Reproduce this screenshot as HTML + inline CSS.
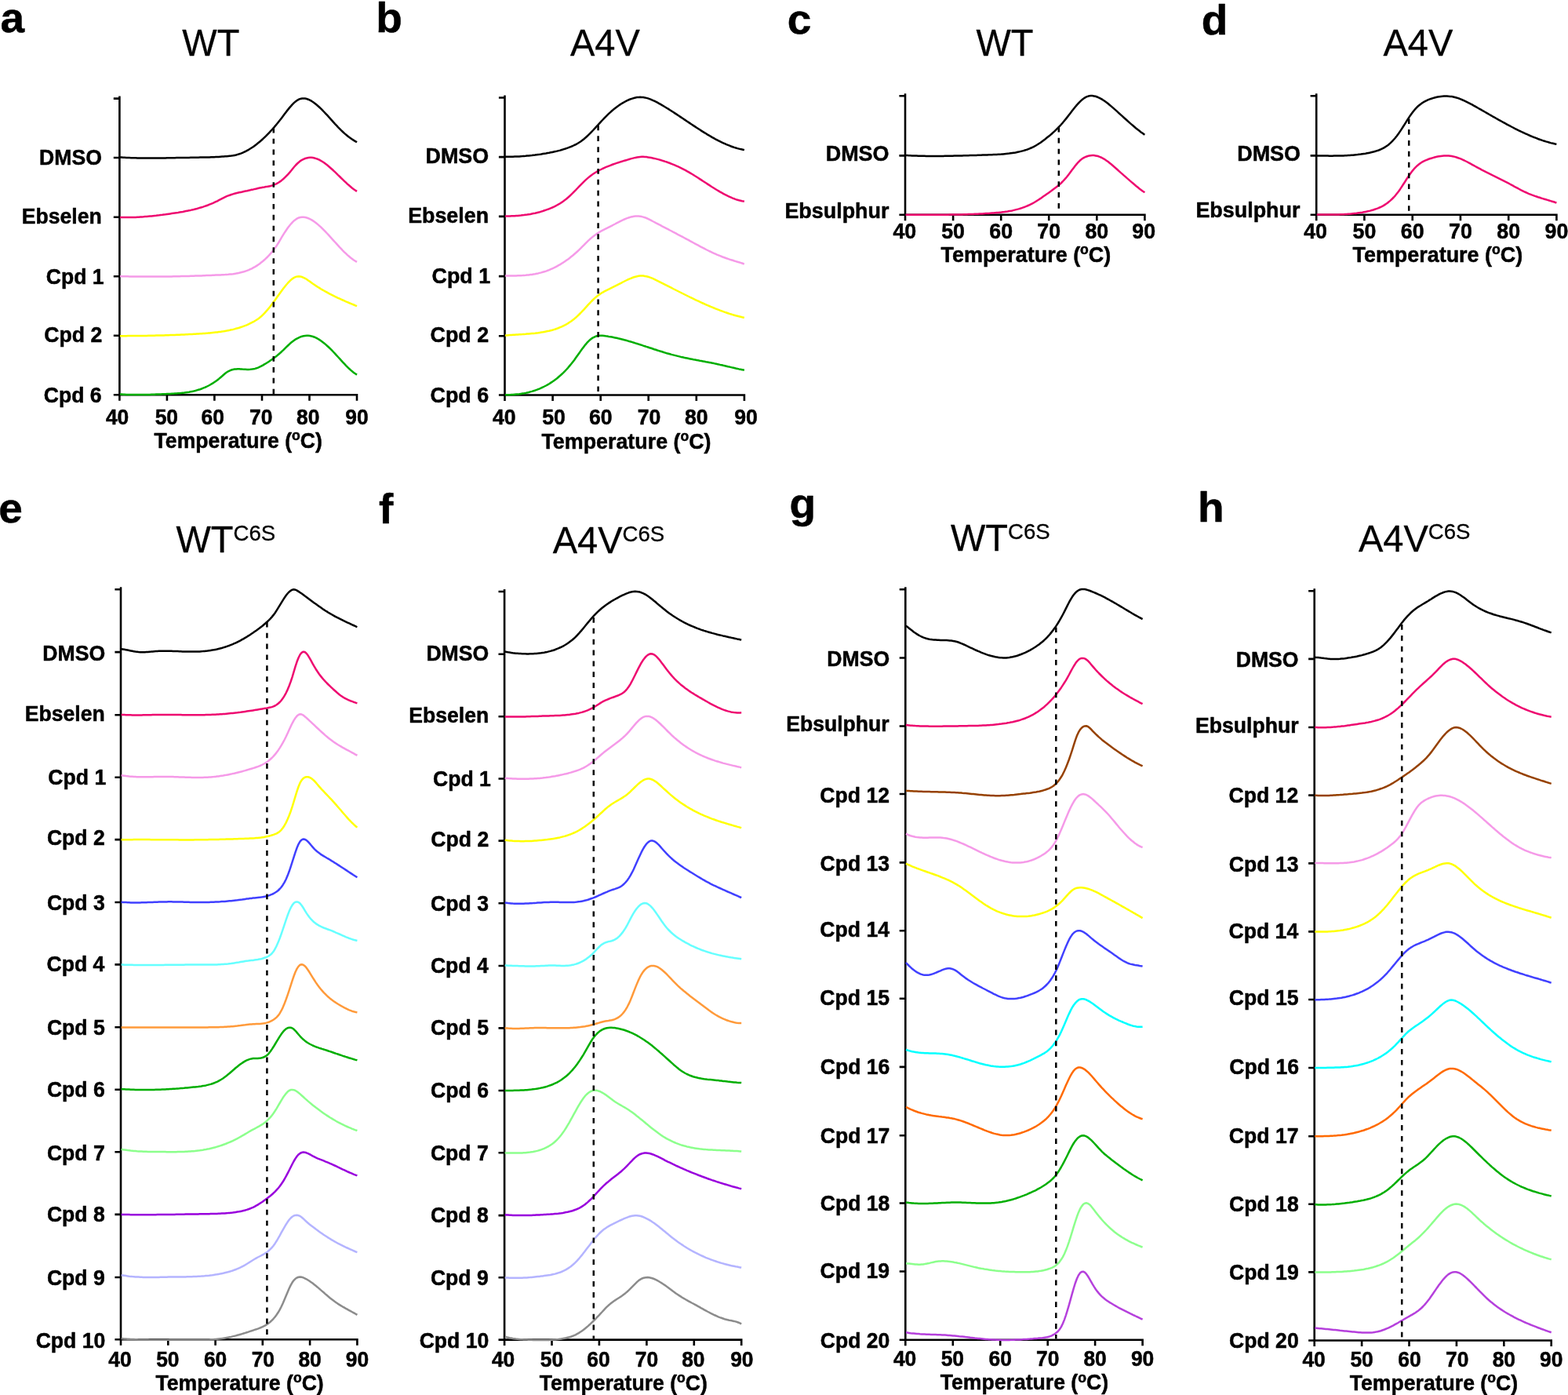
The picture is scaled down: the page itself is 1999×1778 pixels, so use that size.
<!DOCTYPE html>
<html lang="en"><head><meta charset="utf-8"><title>Thermal denaturation profiles</title>
<style>html,body{margin:0;padding:0;background:#fff}body{width:1999px;height:1778px;overflow:hidden}svg{display:block;filter:blur(0.6px)}text{font-family:"Liberation Sans",sans-serif;fill:#000;stroke:#000;stroke-width:0.5;stroke-linejoin:round}.b{font-weight:bold}.lab{font-size:calc(26.6px*var(--k,1));text-anchor:end}.tk{font-size:calc(26.4px*var(--k,1));text-anchor:middle}.xt{font-size:calc(26.6px*var(--k,1));text-anchor:middle}.let{font-size:55px}.tit{font-size:47px;stroke-width:0.3}.sup{font-size:27.6px}.ax{stroke:#000;stroke-width:2.6;fill:none}.cv{fill:none;stroke-width:2.5;stroke-linejoin:round;stroke-linecap:butt}.ds{stroke:#000;stroke-width:2.5;stroke-dasharray:6.7 7.17;fill:none}</style></head><body>
<svg width="1999" height="1778" viewBox="0 0 1999 1778">
<rect width="1999" height="1778" fill="#fff"/>
<text class="b let" transform="translate(0.5 40.5) scale(1 0.985)">a</text>
<text class="b let" transform="translate(479.3 41) scale(1 0.985)">b</text>
<text class="b let" transform="translate(1003.8 43) scale(1 0.985)">c</text>
<text class="b let" transform="translate(1531.8 43.7) scale(1 0.985)">d</text>
<text class="b let" transform="translate(-1.7 666.2) scale(1 0.985)">e</text>
<text class="b let" transform="translate(483 666.5) scale(1 0.985)">f</text>
<text class="b let" transform="translate(1006.5 660.3) scale(1 0.985)">g</text>
<text class="b let" transform="translate(1527 665.2) scale(1 0.985)">h</text>
<text class="tit" transform="translate(232.3 71) scale(1 1.03)">WT</text>
<text class="tit" transform="translate(727 71) scale(1 1.03)">A4V</text>
<text class="tit" transform="translate(1244.5 71) scale(1 1.03)">WT</text>
<text class="tit" transform="translate(1763.5 71.2) scale(1 1.03)">A4V</text>
<text class="tit" transform="translate(224.5 704.4) scale(1 1.03)">WT<tspan class="sup" dy="-14.6">C6S</tspan></text>
<text class="tit" transform="translate(704.7 705) scale(1 1.03)">A4V<tspan class="sup" dy="-14.6">C6S</tspan></text>
<text class="tit" transform="translate(1212 701.9) scale(1 1.03)">WT<tspan class="sup" dy="-14.6">C6S</tspan></text>
<text class="tit" transform="translate(1732 702.5) scale(1 1.03)">A4V<tspan class="sup" dy="-14.6">C6S</tspan></text>
<g id="panel-a" style="--k:1">
<path class="ax" d="M152.4,122.6 V510.7 M144.8,503.2 H456.3 M144.8,125.6 H152.4 M144.8,201 H152.4 M144.8,276.7 H152.4 M144.8,352.2 H152.4 M144.8,427.8 H152.4 M212.9,503.2 V510.7 M273.4,503.2 V510.7 M334,503.2 V510.7 M394.5,503.2 V510.7 M455,503.2 V510.7"/>
<path class="cv" stroke="#000000" d="M153,200.5 155,200.6 157,200.7 159,200.8 161,200.9 163,201 165,201.1 167,201.2 169,201.2 171,201.3 173,201.3 175,201.4 177,201.4 179,201.5 181,201.5 183,201.5 185,201.5 187,201.5 189,201.5 191,201.5 193,201.5 195,201.5 197,201.5 199,201.5 201,201.5 203,201.5 205,201.4 207,201.4 209,201.4 211,201.4 213,201.3 215,201.3 217,201.3 219,201.2 221,201.2 223,201.2 225,201.1 227,201.1 229,201 231,201 233,201 235,200.9 237,200.9 239,200.9 241,200.9 243,200.8 245,200.8 247,200.8 249,200.7 251,200.7 253,200.7 255,200.6 257,200.6 259,200.6 261,200.5 263,200.5 265,200.4 267,200.4 269,200.3 271,200.2 273,200.2 275,200.1 277,200 279,199.9 281,199.7 283,199.6 285,199.5 287,199.3 289,199.2 291,199 293,198.8 295,198.6 297,198.3 299,197.9 301,197.5 303,196.9 305,196.3 307,195.6 309,194.8 311,193.9 313,193 315,191.9 317,190.8 319,189.5 321,188.3 323,186.9 325,185.4 327,183.9 329,182.3 331,180.7 333,179 335,177.2 337,175.3 339,173.4 341,171.4 343,169.3 345,167.2 347,165 349,162.7 351,160.4 353,158 355,155.5 357,153 359,150.4 361,147.7 363,145.1 365,142.4 367,139.9 369,137.4 371,135.1 373,132.9 375,130.9 377,129.2 379,127.8 381,126.7 383,125.9 385,125.5 387,125.4 389,125.6 391,126 393,126.7 395,127.6 397,128.7 399,130 401,131.4 403,133 405,134.7 407,136.5 409,138.4 411,140.4 413,142.5 415,144.6 417,146.7 419,148.9 421,151.1 423,153.4 425,155.6 427,157.8 429,159.9 431,162.1 433,164.1 435,166.1 437,168 439,169.9 441,171.6 443,173.2 445,174.8 447,176.2 449,177.6 451,178.9 453,180.1 455,181.3"/>
<path class="cv" stroke="#EE0A70" d="M153,277 155,277.1 157,277.1 159,277.1 161,277.1 163,277.1 165,277.1 167,277.1 169,277 171,276.9 173,276.9 175,276.8 177,276.7 179,276.5 181,276.4 183,276.3 185,276.1 187,276 189,275.8 191,275.6 193,275.4 195,275.2 197,275 199,274.8 201,274.5 203,274.3 205,274 207,273.8 209,273.5 211,273.3 213,273 215,272.7 217,272.4 219,272.1 221,271.8 223,271.5 225,271.2 227,270.9 229,270.5 231,270.2 233,269.9 235,269.5 237,269.1 239,268.7 241,268.3 243,267.9 245,267.4 247,267 249,266.5 251,266 253,265.4 255,264.8 257,264.2 259,263.6 261,262.9 263,262.2 265,261.5 267,260.7 269,259.9 271,259.1 273,258.2 275,257.2 277,256.3 279,255.2 281,254.2 283,253.1 285,252.1 287,251.1 289,250.2 291,249.4 293,248.7 295,248 297,247.4 299,246.8 301,246.3 303,245.8 305,245.3 307,244.9 309,244.5 311,244 313,243.6 315,243.2 317,242.7 319,242.3 321,241.8 323,241.4 325,240.9 327,240.5 329,240 331,239.6 333,239.2 335,238.8 337,238.5 339,238.1 341,237.8 343,237.4 345,237 347,236.4 349,235.7 351,234.9 353,233.9 355,232.7 357,231.4 359,229.9 361,228.2 363,226.4 365,224.4 367,222.3 369,220.1 371,217.7 373,215.2 375,212.8 377,210.5 379,208.5 381,206.7 383,205.1 385,203.8 387,202.8 389,202 391,201.4 393,201 395,200.8 397,200.8 399,201.1 401,201.5 403,202.1 405,202.8 407,203.7 409,204.8 411,206 413,207.3 415,208.8 417,210.3 419,212 421,213.7 423,215.5 425,217.3 427,219.2 429,221.1 431,223.1 433,225 435,227 437,228.9 439,230.8 441,232.7 443,234.6 445,236.3 447,238 449,239.7 451,241.2 453,242.6 455,243.9"/>
<path class="cv" stroke="#F59AE8" d="M153,352.1 155,352.2 157,352.2 159,352.3 161,352.3 163,352.3 165,352.4 167,352.4 169,352.4 171,352.5 173,352.5 175,352.5 177,352.5 179,352.5 181,352.6 183,352.6 185,352.6 187,352.6 189,352.6 191,352.6 193,352.6 195,352.6 197,352.6 199,352.6 201,352.6 203,352.6 205,352.5 207,352.5 209,352.5 211,352.5 213,352.5 215,352.4 217,352.4 219,352.4 221,352.3 223,352.3 225,352.3 227,352.2 229,352.2 231,352.1 233,352.1 235,352 237,352 239,351.9 241,351.9 243,351.8 245,351.8 247,351.7 249,351.6 251,351.6 253,351.5 255,351.4 257,351.4 259,351.3 261,351.2 263,351.1 265,351.1 267,351 269,350.9 271,350.8 273,350.7 275,350.6 277,350.6 279,350.5 281,350.4 283,350.3 285,350.2 287,350.1 289,349.9 291,349.8 293,349.6 295,349.4 297,349.2 299,348.9 301,348.6 303,348.2 305,347.8 307,347.3 309,346.8 311,346.3 313,345.6 315,344.9 317,344.1 319,343.2 321,342.3 323,341.2 325,340.1 327,338.9 329,337.6 331,336.2 333,334.6 335,333 337,331.3 339,329.4 341,327.5 343,325.4 345,323.2 347,320.8 349,318.3 351,315.6 353,312.7 355,309.5 357,306.1 359,302.7 361,299.4 363,296.2 365,293.2 367,290.3 369,287.7 371,285.3 373,283.1 375,281.2 377,279.7 379,278.4 381,277.5 383,277 385,276.7 387,276.8 389,277 391,277.5 393,278.2 395,279.1 397,280.1 399,281.4 401,282.7 403,284.2 405,285.9 407,287.6 409,289.4 411,291.4 413,293.4 415,295.4 417,297.5 419,299.7 421,301.9 423,304.1 425,306.3 427,308.5 429,310.7 431,312.9 433,315.1 435,317.2 437,319.3 439,321.3 441,323.2 443,325.1 445,326.8 447,328.5 449,330 451,331.5 453,332.7 455,333.9"/>
<path class="cv" stroke="#FFFF00" d="M153,428.2 155,428.2 157,428.2 159,428.2 161,428.2 163,428.1 165,428.1 167,428.1 169,428.1 171,428.1 173,428.1 175,428 177,428 179,428 181,428 183,427.9 185,427.9 187,427.9 189,427.8 191,427.8 193,427.8 195,427.7 197,427.7 199,427.6 201,427.6 203,427.5 205,427.5 207,427.4 209,427.4 211,427.3 213,427.3 215,427.2 217,427.1 219,427.1 221,427 223,426.9 225,426.8 227,426.8 229,426.7 231,426.6 233,426.5 235,426.4 237,426.3 239,426.2 241,426.1 243,426 245,425.9 247,425.8 249,425.7 251,425.5 253,425.4 255,425.3 257,425.2 259,425 261,424.9 263,424.7 265,424.6 267,424.4 269,424.2 271,424 273,423.8 275,423.6 277,423.4 279,423.1 281,422.9 283,422.6 285,422.3 287,421.9 289,421.6 291,421.2 293,420.8 295,420.3 297,419.9 299,419.4 301,418.8 303,418.3 305,417.7 307,417 309,416.4 311,415.6 313,414.9 315,414.1 317,413.2 319,412.2 321,411.2 323,410.2 325,409 327,407.8 329,406.4 331,404.9 333,403.2 335,401.4 337,399.4 339,397.2 341,394.9 343,392.5 345,389.9 347,387.3 349,384.6 351,381.9 353,379.1 355,376.3 357,373.6 359,370.8 361,368.1 363,365.5 365,363 367,360.7 369,358.6 371,356.7 373,355.1 375,353.8 377,352.9 379,352.4 381,352.2 383,352.4 385,353 387,353.8 389,354.8 391,356 393,357.4 395,358.8 397,360.3 399,361.7 401,363 403,364.4 405,365.7 407,366.9 409,368.2 411,369.4 413,370.5 415,371.6 417,372.7 419,373.8 421,374.9 423,375.9 425,376.9 427,377.9 429,378.8 431,379.8 433,380.7 435,381.6 437,382.5 439,383.4 441,384.3 443,385.1 445,386 447,386.8 449,387.7 451,388.5 453,389.4 455,390.2"/>
<path class="cv" stroke="#00AE00" d="M153,502.5 155,502.6 157,502.7 159,502.8 161,502.9 163,502.9 165,503 167,503 169,503 171,503.1 173,503.1 175,503.1 177,503.1 179,503.1 181,503 183,503 185,503 187,503 189,502.9 191,502.9 193,502.8 195,502.8 197,502.7 199,502.6 201,502.6 203,502.5 205,502.4 207,502.3 209,502.3 211,502.2 213,502.1 215,502 217,501.9 219,501.8 221,501.7 223,501.6 225,501.5 227,501.3 229,501.2 231,501 233,500.8 235,500.6 237,500.3 239,500 241,499.7 243,499.3 245,498.9 247,498.5 249,498 251,497.4 253,496.8 255,496.2 257,495.5 259,494.7 261,493.9 263,493 265,492 267,491 269,489.8 271,488.6 273,487.3 275,485.9 277,484.5 279,482.9 281,481.2 283,479.5 285,477.7 287,476 289,474.5 291,473.3 293,472.3 295,471.5 297,471 299,470.6 301,470.4 303,470.3 305,470.3 307,470.4 309,470.6 311,470.7 313,470.8 315,470.9 317,470.9 319,470.8 321,470.6 323,470.3 325,469.9 327,469.3 329,468.6 331,467.7 333,466.7 335,465.6 337,464.4 339,463.2 341,462 343,460.7 345,459.3 347,457.9 349,456.5 351,454.9 353,453.4 355,451.7 357,450 359,448.2 361,446.3 363,444.3 365,442.4 367,440.5 369,438.6 371,436.8 373,435.2 375,433.7 377,432.4 379,431.3 381,430.3 383,429.4 385,428.7 387,428.2 389,427.9 391,427.7 393,427.8 395,428 397,428.4 399,429 401,429.7 403,430.6 405,431.7 407,432.9 409,434.2 411,435.7 413,437.2 415,438.9 417,440.7 419,442.5 421,444.4 423,446.4 425,448.5 427,450.6 429,452.8 431,455 433,457.2 435,459.4 437,461.6 439,463.7 441,465.8 443,467.8 445,469.8 447,471.6 449,473.3 451,474.9 453,476.3 455,477.6"/>
<path class="ds" d="M348.8,162.8 V501.9"/>
<text class="b lab" transform="translate(129.9 210.4) scale(1 1.03)">DMSO</text>
<text class="b lab" transform="translate(129.8 284.8) scale(1 1.015)">Ebselen</text>
<text class="b lab" transform="translate(132.6 362.2) scale(1 1.02)">Cpd 1</text>
<text class="b lab" transform="translate(130.2 435.8) scale(1 1.02)">Cpd 2</text>
<text class="b lab" transform="translate(129.6 512.8) scale(1 1.02)">Cpd 6</text>
<text class="b tk" transform="translate(149.6 540.8) scale(1 1.03)">40</text>
<text class="b tk" transform="translate(212.3 540.8) scale(1 1.03)">50</text>
<text class="b tk" transform="translate(271.2 540.8) scale(1 1.03)">60</text>
<text class="b tk" transform="translate(332.7 540.8) scale(1 1.03)">70</text>
<text class="b tk" transform="translate(392.7 540.8) scale(1 1.03)">80</text>
<text class="b tk" transform="translate(455 540.8) scale(1 1.03)">90</text>
<text class="b xt" transform="translate(303.7 570.5) scale(1 1.015)">Temperature (<tspan font-size="17.6" dy="-9.4">o</tspan><tspan dy="9.4">C)</tspan></text>
</g>
<g id="panel-b" style="--k:1.01">
<path class="ax" d="M643.5,121.5 V511 M635.9,503.5 H950.2 M635.9,124.5 H643.5 M635.9,200.1 H643.5 M635.9,275.9 H643.5 M635.9,352.1 H643.5 M635.9,428.2 H643.5 M704.6,503.5 V511 M765.7,503.5 V511 M826.7,503.5 V511 M887.8,503.5 V511 M948.9,503.5 V511"/>
<path class="cv" stroke="#000000" d="M644.1,199.8 646.1,199.8 648.1,199.8 650.1,199.8 652.1,199.8 654.1,199.7 656.1,199.6 658.1,199.6 660.1,199.5 662.1,199.4 664.1,199.2 666.1,199.1 668.1,198.9 670.1,198.8 672.1,198.6 674.1,198.4 676.1,198.2 678.1,198 680.1,197.7 682.1,197.5 684.1,197.2 686.1,196.9 688.1,196.7 690.1,196.4 692.1,196 694.1,195.7 696.1,195.4 698.1,195 700.1,194.7 702.1,194.3 704.1,193.9 706.1,193.5 708.1,193.1 710.1,192.6 712.1,192.1 714.1,191.6 716.1,191 718.1,190.4 720.1,189.8 722.1,189.1 724.1,188.4 726.1,187.6 728.1,186.8 730.1,186 732.1,185 734.1,184.1 736.1,183 738.1,181.8 740.1,180.5 742.1,179.1 744.1,177.5 746.1,175.8 748.1,174 750.1,172.1 752.1,170.2 754.1,168.1 756.1,166 758.1,163.8 760.1,161.7 762.1,159.5 764.1,157.3 766.1,155.1 768.1,153 770.1,150.9 772.1,148.8 774.1,146.8 776.1,144.9 778.1,143.1 780.1,141.3 782.1,139.6 784.1,138 786.1,136.5 788.1,135 790.1,133.6 792.1,132.3 794.1,131.1 796.1,130 798.1,128.9 800.1,127.9 802.1,127 804.1,126.2 806.1,125.6 808.1,125 810.1,124.5 812.1,124.1 814.1,123.9 816.1,123.8 818.1,123.9 820.1,124.1 822.1,124.4 824.1,124.9 826.1,125.4 828.1,126.1 830.1,126.9 832.1,127.8 834.1,128.7 836.1,129.7 838.1,130.7 840.1,131.8 842.1,132.9 844.1,134.1 846.1,135.3 848.1,136.5 850.1,137.7 852.1,138.9 854.1,140.2 856.1,141.5 858.1,142.8 860.1,144.1 862.1,145.4 864.1,146.7 866.1,148.1 868.1,149.4 870.1,150.7 872.1,152.1 874.1,153.4 876.1,154.8 878.1,156.1 880.1,157.4 882.1,158.8 884.1,160.1 886.1,161.4 888.1,162.7 890.1,164 892.1,165.3 894.1,166.6 896.1,167.9 898.1,169.1 900.1,170.3 902.1,171.6 904.1,172.7 906.1,173.9 908.1,175.1 910.1,176.2 912.1,177.3 914.1,178.3 916.1,179.4 918.1,180.4 920.1,181.4 922.1,182.3 924.1,183.2 926.1,184.1 928.1,184.9 930.1,185.7 932.1,186.5 934.1,187.2 936.1,187.9 938.1,188.5 940.1,189.1 942.1,189.6 944.1,190.1 946.1,190.5 948.1,190.9 948.9,191.1"/>
<path class="cv" stroke="#EE0A70" d="M644.1,275.4 646.1,275.4 648.1,275.4 650.1,275.4 652.1,275.3 654.1,275.3 656.1,275.2 658.1,275 660.1,274.9 662.1,274.7 664.1,274.6 666.1,274.3 668.1,274.1 670.1,273.8 672.1,273.6 674.1,273.2 676.1,272.9 678.1,272.5 680.1,272.1 682.1,271.7 684.1,271.2 686.1,270.7 688.1,270.2 690.1,269.6 692.1,269 694.1,268.3 696.1,267.6 698.1,266.9 700.1,266.2 702.1,265.3 704.1,264.5 706.1,263.6 708.1,262.6 710.1,261.5 712.1,260.4 714.1,259.2 716.1,257.9 718.1,256.5 720.1,255 722.1,253.5 724.1,251.8 726.1,250 728.1,248.1 730.1,246.2 732.1,244.1 734.1,242.1 736.1,240 738.1,237.9 740.1,235.8 742.1,233.8 744.1,231.8 746.1,229.9 748.1,228.1 750.1,226.4 752.1,224.7 754.1,223.2 756.1,221.8 758.1,220.5 760.1,219.3 762.1,218.1 764.1,217 766.1,216 768.1,215 770.1,214.1 772.1,213.2 774.1,212.4 776.1,211.6 778.1,210.8 780.1,210 782.1,209.3 784.1,208.6 786.1,207.9 788.1,207.3 790.1,206.6 792.1,206 794.1,205.4 796.1,204.8 798.1,204.2 800.1,203.6 802.1,203 804.1,202.4 806.1,201.9 808.1,201.4 810.1,200.9 812.1,200.5 814.1,200.2 816.1,199.9 818.1,199.8 820.1,199.8 822.1,199.9 824.1,200.1 826.1,200.4 828.1,200.7 830.1,201.1 832.1,201.5 834.1,201.9 836.1,202.4 838.1,202.9 840.1,203.4 842.1,204 844.1,204.6 846.1,205.2 848.1,205.9 850.1,206.5 852.1,207.3 854.1,208 856.1,208.8 858.1,209.6 860.1,210.4 862.1,211.3 864.1,212.2 866.1,213.1 868.1,214.1 870.1,215.1 872.1,216.2 874.1,217.2 876.1,218.3 878.1,219.4 880.1,220.6 882.1,221.8 884.1,223 886.1,224.3 888.1,225.5 890.1,226.8 892.1,228.1 894.1,229.4 896.1,230.7 898.1,232 900.1,233.3 902.1,234.6 904.1,235.9 906.1,237.2 908.1,238.5 910.1,239.7 912.1,241 914.1,242.2 916.1,243.4 918.1,244.6 920.1,245.7 922.1,246.8 924.1,247.9 926.1,248.9 928.1,249.9 930.1,250.8 932.1,251.7 934.1,252.6 936.1,253.3 938.1,254.1 940.1,254.7 942.1,255.3 944.1,255.8 946.1,256.3 948.1,256.6 948.9,256.8"/>
<path class="cv" stroke="#F59AE8" d="M644.1,351.6 646.1,351.6 648.1,351.6 650.1,351.5 652.1,351.5 654.1,351.5 656.1,351.5 658.1,351.4 660.1,351.3 662.1,351.3 664.1,351.2 666.1,351.1 668.1,350.9 670.1,350.8 672.1,350.6 674.1,350.4 676.1,350.1 678.1,349.9 680.1,349.5 682.1,349.2 684.1,348.8 686.1,348.4 688.1,347.9 690.1,347.4 692.1,346.8 694.1,346.2 696.1,345.6 698.1,344.8 700.1,344.1 702.1,343.2 704.1,342.3 706.1,341.4 708.1,340.4 710.1,339.3 712.1,338.2 714.1,337.1 716.1,335.8 718.1,334.6 720.1,333.2 722.1,331.8 724.1,330.4 726.1,328.9 728.1,327.3 730.1,325.7 732.1,324 734.1,322.3 736.1,320.5 738.1,318.6 740.1,316.7 742.1,314.7 744.1,312.7 746.1,310.6 748.1,308.6 750.1,306.7 752.1,304.8 754.1,303.1 756.1,301.4 758.1,299.9 760.1,298.5 762.1,297.1 764.1,295.9 766.1,294.7 768.1,293.6 770.1,292.6 772.1,291.6 774.1,290.6 776.1,289.6 778.1,288.6 780.1,287.6 782.1,286.5 784.1,285.5 786.1,284.4 788.1,283.4 790.1,282.3 792.1,281.3 794.1,280.4 796.1,279.5 798.1,278.6 800.1,277.9 802.1,277.2 804.1,276.6 806.1,276.2 808.1,275.8 810.1,275.6 812.1,275.5 814.1,275.5 816.1,275.7 818.1,276.1 820.1,276.6 822.1,277.2 824.1,278 826.1,278.9 828.1,279.9 830.1,280.9 832.1,282 834.1,283 836.1,284.1 838.1,285.1 840.1,286.2 842.1,287.2 844.1,288.3 846.1,289.3 848.1,290.3 850.1,291.4 852.1,292.4 854.1,293.5 856.1,294.5 858.1,295.6 860.1,296.6 862.1,297.7 864.1,298.8 866.1,299.8 868.1,300.9 870.1,301.9 872.1,303 874.1,304.1 876.1,305.2 878.1,306.2 880.1,307.3 882.1,308.4 884.1,309.5 886.1,310.6 888.1,311.7 890.1,312.7 892.1,313.8 894.1,314.9 896.1,315.9 898.1,316.9 900.1,318 902.1,319 904.1,320 906.1,320.9 908.1,321.9 910.1,322.8 912.1,323.7 914.1,324.6 916.1,325.4 918.1,326.2 920.1,327 922.1,327.8 924.1,328.5 926.1,329.2 928.1,329.9 930.1,330.6 932.1,331.2 934.1,331.8 936.1,332.5 938.1,333.1 940.1,333.7 942.1,334.3 944.1,334.9 946.1,335.5 948.1,336.2 948.9,336.4"/>
<path class="cv" stroke="#FFFF00" d="M644.1,427.5 646.1,427.4 648.1,427.2 650.1,427.1 652.1,427 654.1,426.8 656.1,426.7 658.1,426.6 660.1,426.5 662.1,426.3 664.1,426.2 666.1,426.1 668.1,425.9 670.1,425.8 672.1,425.6 674.1,425.5 676.1,425.3 678.1,425.1 680.1,424.9 682.1,424.7 684.1,424.4 686.1,424.2 688.1,423.9 690.1,423.6 692.1,423.3 694.1,422.9 696.1,422.5 698.1,422.1 700.1,421.7 702.1,421.2 704.1,420.7 706.1,420.1 708.1,419.5 710.1,418.8 712.1,418 714.1,417.2 716.1,416.4 718.1,415.4 720.1,414.4 722.1,413.3 724.1,412.1 726.1,410.8 728.1,409.5 730.1,408 732.1,406.4 734.1,404.7 736.1,402.9 738.1,401 740.1,399 742.1,396.9 744.1,394.8 746.1,392.6 748.1,390.4 750.1,388.2 752.1,386.1 754.1,384 756.1,382 758.1,380.1 760.1,378.4 762.1,376.8 764.1,375.4 766.1,374 768.1,372.8 770.1,371.7 772.1,370.6 774.1,369.6 776.1,368.7 778.1,367.7 780.1,366.7 782.1,365.7 784.1,364.7 786.1,363.7 788.1,362.6 790.1,361.6 792.1,360.6 794.1,359.5 796.1,358.5 798.1,357.5 800.1,356.5 802.1,355.6 804.1,354.8 806.1,354 808.1,353.3 810.1,352.7 812.1,352.2 814.1,351.8 816.1,351.6 818.1,351.5 820.1,351.6 822.1,351.9 824.1,352.2 826.1,352.8 828.1,353.4 830.1,354.1 832.1,354.9 834.1,355.8 836.1,356.8 838.1,357.8 840.1,358.8 842.1,359.8 844.1,360.8 846.1,361.8 848.1,362.9 850.1,363.9 852.1,364.9 854.1,365.9 856.1,366.9 858.1,368 860.1,369 862.1,370 864.1,371 866.1,372 868.1,373 870.1,374 872.1,375 874.1,376 876.1,377 878.1,378 880.1,379 882.1,379.9 884.1,380.9 886.1,381.9 888.1,382.8 890.1,383.7 892.1,384.7 894.1,385.6 896.1,386.5 898.1,387.4 900.1,388.3 902.1,389.2 904.1,390 906.1,390.9 908.1,391.7 910.1,392.5 912.1,393.3 914.1,394.1 916.1,394.9 918.1,395.7 920.1,396.4 922.1,397.1 924.1,397.9 926.1,398.5 928.1,399.2 930.1,399.9 932.1,400.5 934.1,401.1 936.1,401.7 938.1,402.3 940.1,402.8 942.1,403.3 944.1,403.8 946.1,404.3 948.1,404.7 948.9,404.9"/>
<path class="cv" stroke="#00AE00" d="M644.1,503.3 646.1,503.3 648.1,503.2 650.1,503.2 652.1,503.1 654.1,503 656.1,502.8 658.1,502.6 660.1,502.4 662.1,502.2 664.1,501.9 666.1,501.6 668.1,501.3 670.1,500.9 672.1,500.4 674.1,500 676.1,499.4 678.1,498.9 680.1,498.3 682.1,497.6 684.1,496.9 686.1,496.1 688.1,495.3 690.1,494.4 692.1,493.5 694.1,492.5 696.1,491.5 698.1,490.4 700.1,489.2 702.1,487.9 704.1,486.6 706.1,485.2 708.1,483.7 710.1,482.2 712.1,480.5 714.1,478.8 716.1,477 718.1,475.1 720.1,473.1 722.1,471 724.1,468.8 726.1,466.4 728.1,464 730.1,461.5 732.1,458.9 734.1,456.1 736.1,453.3 738.1,450.5 740.1,447.6 742.1,444.8 744.1,442.2 746.1,439.6 748.1,437.2 750.1,435.1 752.1,433.2 754.1,431.6 756.1,430.3 758.1,429.3 760.1,428.5 762.1,428 764.1,427.8 766.1,427.7 768.1,427.8 770.1,428 772.1,428.3 774.1,428.5 776.1,428.9 778.1,429.2 780.1,429.6 782.1,430 784.1,430.4 786.1,430.8 788.1,431.3 790.1,431.7 792.1,432.2 794.1,432.7 796.1,433.3 798.1,433.8 800.1,434.4 802.1,435 804.1,435.5 806.1,436.1 808.1,436.7 810.1,437.4 812.1,438 814.1,438.6 816.1,439.3 818.1,439.9 820.1,440.6 822.1,441.2 824.1,441.9 826.1,442.5 828.1,443.2 830.1,443.8 832.1,444.5 834.1,445.2 836.1,445.8 838.1,446.5 840.1,447.1 842.1,447.7 844.1,448.3 846.1,449 848.1,449.6 850.1,450.2 852.1,450.7 854.1,451.3 856.1,451.9 858.1,452.4 860.1,452.9 862.1,453.4 864.1,453.9 866.1,454.4 868.1,454.9 870.1,455.3 872.1,455.8 874.1,456.2 876.1,456.6 878.1,457 880.1,457.4 882.1,457.8 884.1,458.2 886.1,458.5 888.1,458.9 890.1,459.3 892.1,459.7 894.1,460 896.1,460.4 898.1,460.8 900.1,461.2 902.1,461.5 904.1,461.9 906.1,462.3 908.1,462.7 910.1,463.1 912.1,463.6 914.1,464 916.1,464.4 918.1,464.9 920.1,465.3 922.1,465.8 924.1,466.2 926.1,466.7 928.1,467.2 930.1,467.6 932.1,468.1 934.1,468.6 936.1,469 938.1,469.5 940.1,469.9 942.1,470.4 944.1,470.8 946.1,471.2 948.1,471.6 948.9,471.8"/>
<path class="ds" d="M762.6,159.5 V502.2"/>
<text class="b lab" transform="translate(623.1 208.4) scale(1 1.03)">DMSO</text>
<text class="b lab" transform="translate(623.1 283.6) scale(1 1.015)">Ebselen</text>
<text class="b lab" transform="translate(625.1 361.4) scale(1 1.02)">Cpd 1</text>
<text class="b lab" transform="translate(623.1 435.8) scale(1 1.02)">Cpd 2</text>
<text class="b lab" transform="translate(623.1 513.4) scale(1 1.02)">Cpd 6</text>
<text class="b tk" transform="translate(642.7 541.4) scale(1 1.03)">40</text>
<text class="b tk" transform="translate(706.1 541.4) scale(1 1.03)">50</text>
<text class="b tk" transform="translate(765.7 541.4) scale(1 1.03)">60</text>
<text class="b tk" transform="translate(827.5 541.4) scale(1 1.03)">70</text>
<text class="b tk" transform="translate(887.8 541.4) scale(1 1.03)">80</text>
<text class="b tk" transform="translate(951.1 541.4) scale(1 1.03)">90</text>
<text class="b xt" transform="translate(798.5 571.6) scale(1 1.015)">Temperature (<tspan font-size="17.6" dy="-9.4">o</tspan><tspan dy="9.4">C)</tspan></text>
</g>
<g id="panel-c" style="--k:1.013">
<path class="ax" d="M1154,119.3 V281.2 M1146.4,273.7 H1460.7 M1146.4,122.3 H1154 M1146.4,198.4 H1154 M1215.1,273.7 V281.2 M1276.2,273.7 V281.2 M1337.2,273.7 V281.2 M1398.3,273.7 V281.2 M1459.4,273.7 V281.2"/>
<path class="cv" stroke="#000000" d="M1154.6,198 1156.6,198.1 1158.6,198.2 1160.6,198.3 1162.6,198.4 1164.6,198.5 1166.6,198.6 1168.6,198.6 1170.6,198.7 1172.6,198.7 1174.6,198.8 1176.6,198.8 1178.6,198.8 1180.6,198.9 1182.6,198.9 1184.6,198.9 1186.6,198.9 1188.6,198.9 1190.6,198.9 1192.6,198.9 1194.6,198.9 1196.6,198.9 1198.6,198.9 1200.6,198.9 1202.6,198.9 1204.6,198.8 1206.6,198.8 1208.6,198.8 1210.6,198.7 1212.6,198.7 1214.6,198.7 1216.6,198.6 1218.6,198.6 1220.6,198.5 1222.6,198.5 1224.6,198.4 1226.6,198.4 1228.6,198.3 1230.6,198.3 1232.6,198.2 1234.6,198.2 1236.6,198.1 1238.6,198 1240.6,198 1242.6,197.9 1244.6,197.9 1246.6,197.8 1248.6,197.7 1250.6,197.7 1252.6,197.6 1254.6,197.5 1256.6,197.5 1258.6,197.4 1260.6,197.3 1262.6,197.3 1264.6,197.2 1266.6,197.1 1268.6,197 1270.6,196.9 1272.6,196.8 1274.6,196.7 1276.6,196.6 1278.6,196.4 1280.6,196.2 1282.6,196 1284.6,195.8 1286.6,195.6 1288.6,195.3 1290.6,195 1292.6,194.7 1294.6,194.4 1296.6,194 1298.6,193.6 1300.6,193.1 1302.6,192.6 1304.6,192.1 1306.6,191.5 1308.6,190.9 1310.6,190.2 1312.6,189.4 1314.6,188.5 1316.6,187.6 1318.6,186.6 1320.6,185.5 1322.6,184.3 1324.6,183 1326.6,181.7 1328.6,180.2 1330.6,178.7 1332.6,177.2 1334.6,175.6 1336.6,174 1338.6,172.4 1340.6,170.7 1342.6,168.9 1344.6,167.1 1346.6,165.2 1348.6,163.2 1350.6,161.1 1352.6,159 1354.6,156.7 1356.6,154.3 1358.6,151.9 1360.6,149.4 1362.6,146.8 1364.6,144.2 1366.6,141.6 1368.6,139 1370.6,136.5 1372.6,134.1 1374.6,131.9 1376.6,129.8 1378.6,127.9 1380.6,126.2 1382.6,124.8 1384.6,123.7 1386.6,122.9 1388.6,122.3 1390.6,122.1 1392.6,122.1 1394.6,122.4 1396.6,122.8 1398.6,123.5 1400.6,124.3 1402.6,125.3 1404.6,126.4 1406.6,127.7 1408.6,129 1410.6,130.5 1412.6,132 1414.6,133.7 1416.6,135.4 1418.6,137.1 1420.6,138.9 1422.6,140.6 1424.6,142.4 1426.6,144.3 1428.6,146.1 1430.6,147.9 1432.6,149.7 1434.6,151.5 1436.6,153.3 1438.6,155.1 1440.6,156.9 1442.6,158.6 1444.6,160.3 1446.6,162 1448.6,163.7 1450.6,165.3 1452.6,166.8 1454.6,168.4 1456.6,169.8 1458.6,171.3 1459.4,171.8"/>
<path class="cv" stroke="#EE0A70" d="M1154.6,273.7 1156.6,273.7 1158.6,273.7 1160.6,273.7 1162.6,273.7 1164.6,273.7 1166.6,273.7 1168.6,273.7 1170.6,273.7 1172.6,273.7 1174.6,273.7 1176.6,273.7 1178.6,273.7 1180.6,273.7 1182.6,273.8 1184.6,273.8 1186.6,273.8 1188.6,273.8 1190.6,273.8 1192.6,273.8 1194.6,273.7 1196.6,273.7 1198.6,273.7 1200.6,273.7 1202.6,273.7 1204.6,273.7 1206.6,273.7 1208.6,273.7 1210.6,273.6 1212.6,273.6 1214.6,273.6 1216.6,273.6 1218.6,273.5 1220.6,273.5 1222.6,273.4 1224.6,273.4 1226.6,273.4 1228.6,273.3 1230.6,273.2 1232.6,273.2 1234.6,273.1 1236.6,273.1 1238.6,273 1240.6,272.9 1242.6,272.8 1244.6,272.7 1246.6,272.7 1248.6,272.6 1250.6,272.5 1252.6,272.4 1254.6,272.2 1256.6,272.1 1258.6,272 1260.6,271.9 1262.6,271.7 1264.6,271.6 1266.6,271.5 1268.6,271.3 1270.6,271.1 1272.6,271 1274.6,270.8 1276.6,270.6 1278.6,270.3 1280.6,270.1 1282.6,269.8 1284.6,269.5 1286.6,269.1 1288.6,268.8 1290.6,268.4 1292.6,267.9 1294.6,267.4 1296.6,266.9 1298.6,266.4 1300.6,265.8 1302.6,265.1 1304.6,264.4 1306.6,263.7 1308.6,262.9 1310.6,262 1312.6,261.1 1314.6,260.1 1316.6,259.1 1318.6,258 1320.6,256.8 1322.6,255.5 1324.6,254.2 1326.6,252.9 1328.6,251.5 1330.6,250.1 1332.6,248.7 1334.6,247.3 1336.6,245.9 1338.6,244.5 1340.6,243.1 1342.6,241.6 1344.6,240.1 1346.6,238.6 1348.6,237 1350.6,235.3 1352.6,233.5 1354.6,231.5 1356.6,229.4 1358.6,227.2 1360.6,224.8 1362.6,222.2 1364.6,219.5 1366.6,216.8 1368.6,214.2 1370.6,211.6 1372.6,209.1 1374.6,206.8 1376.6,204.8 1378.6,203.1 1380.6,201.7 1382.6,200.6 1384.6,199.7 1386.6,199 1388.6,198.5 1390.6,198.2 1392.6,198.1 1394.6,198.1 1396.6,198.4 1398.6,198.8 1400.6,199.3 1402.6,200.1 1404.6,201 1406.6,202.1 1408.6,203.3 1410.6,204.7 1412.6,206.1 1414.6,207.7 1416.6,209.3 1418.6,211 1420.6,212.8 1422.6,214.5 1424.6,216.3 1426.6,218.1 1428.6,219.9 1430.6,221.6 1432.6,223.4 1434.6,225.1 1436.6,226.9 1438.6,228.6 1440.6,230.4 1442.6,232.1 1444.6,233.8 1446.6,235.5 1448.6,237.2 1450.6,238.8 1452.6,240.4 1454.6,241.9 1456.6,243.4 1458.6,244.8 1459.4,245.3"/>
<path class="ds" d="M1349.8,161.9 V272.4"/>
<text class="b lab" transform="translate(1133.5 204.7) scale(1 1.03)">DMSO</text>
<text class="b lab" transform="translate(1133.5 277.6) scale(1 1.015)">Ebsulphur</text>
<text class="b tk" transform="translate(1153.3 303.6) scale(1 1.03)">40</text>
<text class="b tk" transform="translate(1215.1 303.6) scale(1 1.03)">50</text>
<text class="b tk" transform="translate(1276.2 303.6) scale(1 1.03)">60</text>
<text class="b tk" transform="translate(1337.2 303.6) scale(1 1.03)">70</text>
<text class="b tk" transform="translate(1398.3 303.6) scale(1 1.03)">80</text>
<text class="b tk" transform="translate(1458.2 303.6) scale(1 1.03)">90</text>
<text class="b xt" transform="translate(1307.9 333.6) scale(1 1.015)">Temperature (<tspan font-size="17.6" dy="-9.4">o</tspan><tspan dy="9.4">C)</tspan></text>
</g>
<g id="panel-d" style="--k:1.013">
<path class="ax" d="M1678.2,119.3 V281.2 M1670.6,273.7 H1985.7 M1670.6,122.3 H1678.2 M1670.6,198.4 H1678.2 M1739.4,273.7 V281.2 M1800.7,273.7 V281.2 M1861.9,273.7 V281.2 M1923.2,273.7 V281.2 M1984.4,273.7 V281.2"/>
<path class="cv" stroke="#000000" d="M1678.8,198.6 1680.8,198.6 1682.8,198.6 1684.8,198.6 1686.8,198.6 1688.8,198.6 1690.8,198.6 1692.8,198.6 1694.8,198.7 1696.8,198.7 1698.8,198.7 1700.8,198.6 1702.8,198.6 1704.8,198.6 1706.8,198.6 1708.8,198.5 1710.8,198.5 1712.8,198.4 1714.8,198.3 1716.8,198.2 1718.8,198.1 1720.8,198 1722.8,197.8 1724.8,197.7 1726.8,197.5 1728.8,197.3 1730.8,197.1 1732.8,196.8 1734.8,196.6 1736.8,196.3 1738.8,196 1740.8,195.7 1742.8,195.3 1744.8,194.9 1746.8,194.5 1748.8,194 1750.8,193.6 1752.8,193 1754.8,192.4 1756.8,191.8 1758.8,191 1760.8,190.2 1762.8,189.2 1764.8,188.1 1766.8,186.8 1768.8,185.4 1770.8,183.9 1772.8,182.1 1774.8,180.2 1776.8,178 1778.8,175.7 1780.8,173.2 1782.8,170.5 1784.8,167.6 1786.8,164.6 1788.8,161.5 1790.8,158.3 1792.8,155.1 1794.8,151.9 1796.8,148.9 1798.8,146 1800.8,143.3 1802.8,140.7 1804.8,138.4 1806.8,136.3 1808.8,134.5 1810.8,132.9 1812.8,131.4 1814.8,130.2 1816.8,129.1 1818.8,128.1 1820.8,127.2 1822.8,126.4 1824.8,125.7 1826.8,125.1 1828.8,124.5 1830.8,124 1832.8,123.6 1834.8,123.2 1836.8,122.9 1838.8,122.7 1840.8,122.6 1842.8,122.5 1844.8,122.5 1846.8,122.7 1848.8,122.9 1850.8,123.1 1852.8,123.5 1854.8,124 1856.8,124.5 1858.8,125.1 1860.8,125.8 1862.8,126.6 1864.8,127.5 1866.8,128.3 1868.8,129.3 1870.8,130.3 1872.8,131.3 1874.8,132.4 1876.8,133.4 1878.8,134.6 1880.8,135.7 1882.8,136.8 1884.8,138 1886.8,139.1 1888.8,140.2 1890.8,141.4 1892.8,142.5 1894.8,143.7 1896.8,144.8 1898.8,146 1900.8,147.1 1902.8,148.3 1904.8,149.4 1906.8,150.5 1908.8,151.7 1910.8,152.8 1912.8,153.9 1914.8,155 1916.8,156.1 1918.8,157.2 1920.8,158.3 1922.8,159.4 1924.8,160.4 1926.8,161.5 1928.8,162.5 1930.8,163.6 1932.8,164.6 1934.8,165.6 1936.8,166.6 1938.8,167.5 1940.8,168.5 1942.8,169.4 1944.8,170.3 1946.8,171.2 1948.8,172.1 1950.8,173 1952.8,173.8 1954.8,174.7 1956.8,175.4 1958.8,176.2 1960.8,177 1962.8,177.7 1964.8,178.4 1966.8,179.1 1968.8,179.7 1970.8,180.4 1972.8,180.9 1974.8,181.5 1976.8,182.1 1978.8,182.6 1980.8,183 1982.8,183.5 1984.4,183.8"/>
<path class="cv" stroke="#EE0A70" d="M1678.8,273.6 1680.8,273.6 1682.8,273.6 1684.8,273.6 1686.8,273.6 1688.8,273.6 1690.8,273.6 1692.8,273.5 1694.8,273.5 1696.8,273.5 1698.8,273.5 1700.8,273.5 1702.8,273.5 1704.8,273.4 1706.8,273.4 1708.8,273.3 1710.8,273.2 1712.8,273.2 1714.8,273.1 1716.8,273 1718.8,272.8 1720.8,272.7 1722.8,272.5 1724.8,272.3 1726.8,272.1 1728.8,271.9 1730.8,271.6 1732.8,271.3 1734.8,271 1736.8,270.7 1738.8,270.3 1740.8,269.9 1742.8,269.5 1744.8,269.1 1746.8,268.6 1748.8,268 1750.8,267.5 1752.8,266.8 1754.8,266.1 1756.8,265.4 1758.8,264.5 1760.8,263.6 1762.8,262.6 1764.8,261.4 1766.8,260.1 1768.8,258.7 1770.8,257.1 1772.8,255.4 1774.8,253.5 1776.8,251.5 1778.8,249.3 1780.8,246.8 1782.8,244.2 1784.8,241.4 1786.8,238.4 1788.8,235.3 1790.8,232.2 1792.8,229 1794.8,225.9 1796.8,223 1798.8,220.2 1800.8,217.6 1802.8,215.2 1804.8,213.1 1806.8,211.2 1808.8,209.5 1810.8,208 1812.8,206.7 1814.8,205.6 1816.8,204.6 1818.8,203.8 1820.8,203 1822.8,202.3 1824.8,201.7 1826.8,201.1 1828.8,200.5 1830.8,200 1832.8,199.6 1834.8,199.2 1836.8,198.9 1838.8,198.7 1840.8,198.6 1842.8,198.5 1844.8,198.5 1846.8,198.6 1848.8,198.8 1850.8,199.1 1852.8,199.4 1854.8,199.9 1856.8,200.5 1858.8,201.2 1860.8,201.9 1862.8,202.7 1864.8,203.6 1866.8,204.5 1868.8,205.5 1870.8,206.5 1872.8,207.6 1874.8,208.7 1876.8,209.8 1878.8,210.9 1880.8,212 1882.8,213.1 1884.8,214.2 1886.8,215.2 1888.8,216.3 1890.8,217.3 1892.8,218.3 1894.8,219.4 1896.8,220.4 1898.8,221.4 1900.8,222.4 1902.8,223.4 1904.8,224.3 1906.8,225.3 1908.8,226.3 1910.8,227.3 1912.8,228.3 1914.8,229.3 1916.8,230.3 1918.8,231.4 1920.8,232.4 1922.8,233.4 1924.8,234.5 1926.8,235.6 1928.8,236.7 1930.8,237.8 1932.8,238.8 1934.8,239.9 1936.8,241 1938.8,242.1 1940.8,243.1 1942.8,244.1 1944.8,245 1946.8,245.9 1948.8,246.8 1950.8,247.6 1952.8,248.4 1954.8,249.1 1956.8,249.9 1958.8,250.5 1960.8,251.2 1962.8,251.8 1964.8,252.5 1966.8,253.1 1968.8,253.7 1970.8,254.3 1972.8,254.9 1974.8,255.5 1976.8,256.1 1978.8,256.7 1980.8,257.3 1982.8,258 1984.4,258.5"/>
<path class="ds" d="M1796.2,151.2 V272.4"/>
<text class="b lab" transform="translate(1658 204.6) scale(1 1.03)">DMSO</text>
<text class="b lab" transform="translate(1657.5 277.4) scale(1 1.015)">Ebsulphur</text>
<text class="b tk" transform="translate(1677 303.6) scale(1 1.03)">40</text>
<text class="b tk" transform="translate(1739.4 303.6) scale(1 1.03)">50</text>
<text class="b tk" transform="translate(1800.7 303.6) scale(1 1.03)">60</text>
<text class="b tk" transform="translate(1861.9 303.6) scale(1 1.03)">70</text>
<text class="b tk" transform="translate(1923.2 303.6) scale(1 1.03)">80</text>
<text class="b tk" transform="translate(1984.4 303.6) scale(1 1.03)">90</text>
<text class="b xt" transform="translate(1832.8 333.6) scale(1 1.015)">Temperature (<tspan font-size="17.6" dy="-9.4">o</tspan><tspan dy="9.4">C)</tspan></text>
</g>
<g id="panel-e" style="--k:1">
<path class="ax" d="M154,748.2 V1714.7 M146.4,1707.2 H456.7 M146.4,751.2 H154 M146.4,831.1 H154 M146.4,911.2 H154 M146.4,990.8 H154 M146.4,1070.1 H154 M146.4,1150 H154 M146.4,1229.4 H154 M146.4,1309.3 H154 M146.4,1388.7 H154 M146.4,1468.3 H154 M146.4,1547.9 H154 M146.4,1628 H154 M214.3,1707.2 V1714.7 M274.6,1707.2 V1714.7 M334.8,1707.2 V1714.7 M395.1,1707.2 V1714.7 M455.4,1707.2 V1714.7"/>
<path class="cv" stroke="#000000" d="M154.6,827.2 156.6,827.5 158.6,827.8 160.6,828.2 162.6,828.6 164.6,829 166.6,829.4 168.6,829.8 170.6,830.2 172.6,830.6 174.6,830.8 176.6,831.1 178.6,831.2 180.6,831.2 182.6,831.2 184.6,831.2 186.6,831 188.6,830.9 190.6,830.7 192.6,830.6 194.6,830.4 196.6,830.2 198.6,830 200.6,829.9 202.6,829.8 204.6,829.7 206.6,829.7 208.6,829.7 210.6,829.7 212.6,829.7 214.6,829.7 216.6,829.8 218.6,829.8 220.6,829.9 222.6,830 224.6,830.1 226.6,830.1 228.6,830.2 230.6,830.3 232.6,830.4 234.6,830.5 236.6,830.5 238.6,830.6 240.6,830.6 242.6,830.6 244.6,830.6 246.6,830.6 248.6,830.6 250.6,830.5 252.6,830.4 254.6,830.4 256.6,830.2 258.6,830.1 260.6,829.9 262.6,829.7 264.6,829.5 266.6,829.2 268.6,828.9 270.6,828.6 272.6,828.3 274.6,827.9 276.6,827.5 278.6,827 280.6,826.5 282.6,826 284.6,825.4 286.6,824.8 288.6,824.1 290.6,823.4 292.6,822.7 294.6,821.9 296.6,821.1 298.6,820.2 300.6,819.3 302.6,818.3 304.6,817.3 306.6,816.3 308.6,815.2 310.6,814.1 312.6,812.9 314.6,811.7 316.6,810.4 318.6,809.2 320.6,807.8 322.6,806.5 324.6,805.1 326.6,803.7 328.6,802.2 330.6,800.8 332.6,799.2 334.6,797.7 336.6,796 338.6,794.3 340.6,792.5 342.6,790.6 344.6,788.6 346.6,786.4 348.6,783.9 350.6,781.2 352.6,778.1 354.6,774.9 356.6,771.6 358.6,768.3 360.6,765.1 362.6,761.9 364.6,759.1 366.6,756.5 368.6,754.4 370.6,752.8 372.6,751.7 374.6,751.3 376.6,751.7 378.6,752.6 380.6,753.9 382.6,755.2 384.6,756.6 386.6,758 388.6,759.5 390.6,760.9 392.6,762.4 394.6,763.9 396.6,765.4 398.6,766.9 400.6,768.4 402.6,769.8 404.6,771.3 406.6,772.7 408.6,774.1 410.6,775.5 412.6,776.9 414.6,778.2 416.6,779.4 418.6,780.7 420.6,781.9 422.6,783 424.6,784.2 426.6,785.3 428.6,786.4 430.6,787.4 432.6,788.4 434.6,789.4 436.6,790.4 438.6,791.4 440.6,792.3 442.6,793.3 444.6,794.2 446.6,795.1 448.6,796.1 450.6,797 452.6,797.9 454.6,798.8 455.4,799.1"/>
<path class="cv" stroke="#EE0A70" d="M154.6,910.9 156.6,911 158.6,911.1 160.6,911.2 162.6,911.3 164.6,911.3 166.6,911.3 168.6,911.4 170.6,911.4 172.6,911.4 174.6,911.4 176.6,911.4 178.6,911.4 180.6,911.4 182.6,911.3 184.6,911.3 186.6,911.3 188.6,911.2 190.6,911.2 192.6,911.2 194.6,911.1 196.6,911.1 198.6,911 200.6,911 202.6,911 204.6,910.9 206.6,910.9 208.6,910.9 210.6,910.9 212.6,910.9 214.6,910.9 216.6,910.9 218.6,910.9 220.6,910.9 222.6,911 224.6,911 226.6,911.1 228.6,911.1 230.6,911.1 232.6,911.2 234.6,911.2 236.6,911.3 238.6,911.3 240.6,911.3 242.6,911.3 244.6,911.3 246.6,911.3 248.6,911.3 250.6,911.3 252.6,911.3 254.6,911.3 256.6,911.3 258.6,911.2 260.6,911.2 262.6,911.1 264.6,911.1 266.6,911 268.6,910.9 270.6,910.8 272.6,910.8 274.6,910.7 276.6,910.5 278.6,910.4 280.6,910.3 282.6,910.2 284.6,910 286.6,909.9 288.6,909.7 290.6,909.5 292.6,909.3 294.6,909.1 296.6,908.9 298.6,908.7 300.6,908.5 302.6,908.3 304.6,908 306.6,907.8 308.6,907.5 310.6,907.2 312.6,906.9 314.6,906.6 316.6,906.3 318.6,906 320.6,905.7 322.6,905.4 324.6,905.1 326.6,904.7 328.6,904.4 330.6,904.1 332.6,903.7 334.6,903.4 336.6,903.1 338.6,902.7 340.6,902.4 342.6,902 344.6,901.6 346.6,901.1 348.6,900.4 350.6,899.5 352.6,898.3 354.6,896.8 356.6,895 358.6,892.7 360.6,890.1 362.6,886.9 364.6,883.3 366.6,879.1 368.6,874.3 370.6,868.9 372.6,862.8 374.6,856.2 376.6,849.4 378.6,843.3 380.6,838.2 382.6,834.3 384.6,831.8 386.6,830.7 388.6,831 390.6,832.7 392.6,835.3 394.6,838.6 396.6,842.2 398.6,845.9 400.6,849.4 402.6,852.7 404.6,855.8 406.6,858.7 408.6,861.4 410.6,863.9 412.6,866.2 414.6,868.4 416.6,870.5 418.6,872.5 420.6,874.4 422.6,876.3 424.6,878.2 426.6,880 428.6,881.8 430.6,883.6 432.6,885.2 434.6,886.7 436.6,888.1 438.6,889.3 440.6,890.4 442.6,891.4 444.6,892.3 446.6,893.2 448.6,893.9 450.6,894.7 452.6,895.4 454.6,896.1 455.4,896.3"/>
<path class="cv" stroke="#F59AE8" d="M154.6,988 156.6,988.4 158.6,988.7 160.6,989 162.6,989.2 164.6,989.5 166.6,989.7 168.6,989.8 170.6,990 172.6,990.1 174.6,990.2 176.6,990.2 178.6,990.3 180.6,990.3 182.6,990.3 184.6,990.3 186.6,990.3 188.6,990.3 190.6,990.3 192.6,990.2 194.6,990.2 196.6,990.1 198.6,990.1 200.6,990.1 202.6,990 204.6,990 206.6,990 208.6,990 210.6,990 212.6,990 214.6,990 216.6,990 218.6,990.1 220.6,990.1 222.6,990.2 224.6,990.2 226.6,990.3 228.6,990.4 230.6,990.4 232.6,990.5 234.6,990.6 236.6,990.7 238.6,990.7 240.6,990.8 242.6,990.8 244.6,990.9 246.6,990.9 248.6,990.9 250.6,990.9 252.6,991 254.6,990.9 256.6,990.9 258.6,990.9 260.6,990.8 262.6,990.7 264.6,990.7 266.6,990.5 268.6,990.4 270.6,990.2 272.6,990.1 274.6,989.9 276.6,989.6 278.6,989.4 280.6,989.1 282.6,988.8 284.6,988.5 286.6,988.1 288.6,987.8 290.6,987.4 292.6,987 294.6,986.6 296.6,986.1 298.6,985.7 300.6,985.2 302.6,984.7 304.6,984.2 306.6,983.7 308.6,983.2 310.6,982.6 312.6,982.1 314.6,981.5 316.6,980.9 318.6,980.3 320.6,979.7 322.6,979.1 324.6,978.5 326.6,977.8 328.6,977.1 330.6,976.3 332.6,975.5 334.6,974.5 336.6,973.5 338.6,972.3 340.6,971 342.6,969.5 344.6,967.8 346.6,966 348.6,963.9 350.6,961.6 352.6,959.1 354.6,956.4 356.6,953.4 358.6,950.2 360.6,946.7 362.6,943 364.6,939 366.6,934.7 368.6,930.3 370.6,925.9 372.6,921.8 374.6,918.1 376.6,915 378.6,912.6 380.6,911 382.6,910.2 384.6,910.5 386.6,911.6 388.6,913.2 390.6,914.9 392.6,916.7 394.6,918.6 396.6,920.4 398.6,922.3 400.6,924.2 402.6,926.1 404.6,928 406.6,929.8 408.6,931.7 410.6,933.5 412.6,935.3 414.6,937.1 416.6,938.8 418.6,940.4 420.6,942 422.6,943.5 424.6,945 426.6,946.4 428.6,947.7 430.6,949 432.6,950.2 434.6,951.4 436.6,952.6 438.6,953.7 440.6,954.8 442.6,955.9 444.6,956.9 446.6,958 448.6,959.1 450.6,960.2 452.6,961.3 454.6,962.4 455.4,962.9"/>
<path class="cv" stroke="#FFFF00" d="M154.6,1070.3 156.6,1070.3 158.6,1070.2 160.6,1070.2 162.6,1070.2 164.6,1070.2 166.6,1070.2 168.6,1070.2 170.6,1070.1 172.6,1070.1 174.6,1070.1 176.6,1070.1 178.6,1070.1 180.6,1070.1 182.6,1070.1 184.6,1070.1 186.6,1070.1 188.6,1070.1 190.6,1070.1 192.6,1070.2 194.6,1070.2 196.6,1070.2 198.6,1070.2 200.6,1070.2 202.6,1070.2 204.6,1070.2 206.6,1070.2 208.6,1070.2 210.6,1070.3 212.6,1070.3 214.6,1070.3 216.6,1070.3 218.6,1070.3 220.6,1070.3 222.6,1070.3 224.6,1070.3 226.6,1070.3 228.6,1070.4 230.6,1070.4 232.6,1070.4 234.6,1070.4 236.6,1070.4 238.6,1070.4 240.6,1070.4 242.6,1070.4 244.6,1070.4 246.6,1070.4 248.6,1070.3 250.6,1070.3 252.6,1070.3 254.6,1070.3 256.6,1070.3 258.6,1070.3 260.6,1070.2 262.6,1070.2 264.6,1070.2 266.6,1070.1 268.6,1070.1 270.6,1070.1 272.6,1070 274.6,1070 276.6,1069.9 278.6,1069.9 280.6,1069.8 282.6,1069.8 284.6,1069.7 286.6,1069.7 288.6,1069.6 290.6,1069.5 292.6,1069.5 294.6,1069.4 296.6,1069.4 298.6,1069.3 300.6,1069.2 302.6,1069.2 304.6,1069.1 306.6,1069 308.6,1069 310.6,1068.9 312.6,1068.8 314.6,1068.7 316.6,1068.7 318.6,1068.6 320.6,1068.5 322.6,1068.4 324.6,1068.3 326.6,1068.1 328.6,1067.9 330.6,1067.7 332.6,1067.5 334.6,1067.2 336.6,1066.9 338.6,1066.5 340.6,1066.1 342.6,1065.7 344.6,1065.1 346.6,1064.5 348.6,1063.9 350.6,1063.1 352.6,1062.3 354.6,1061.2 356.6,1059.7 358.6,1057.8 360.6,1055.3 362.6,1052.2 364.6,1048.6 366.6,1044.3 368.6,1039.5 370.6,1034.2 372.6,1028.2 374.6,1021.7 376.6,1014.9 378.6,1008.4 380.6,1002.5 382.6,997.7 384.6,994.3 386.6,992.1 388.6,990.8 390.6,990.2 392.6,990.2 394.6,990.8 396.6,991.8 398.6,993.4 400.6,995.2 402.6,997.4 404.6,999.7 406.6,1002.1 408.6,1004.4 410.6,1006.6 412.6,1008.7 414.6,1010.8 416.6,1012.9 418.6,1015 420.6,1017.1 422.6,1019.2 424.6,1021.4 426.6,1023.6 428.6,1025.9 430.6,1028.2 432.6,1030.5 434.6,1032.8 436.6,1035.2 438.6,1037.5 440.6,1039.8 442.6,1042.1 444.6,1044.3 446.6,1046.4 448.6,1048.5 450.6,1050.4 452.6,1052.3 454.6,1053.9 455.4,1054.6"/>
<path class="cv" stroke="#4040FF" d="M154.6,1149.7 156.6,1149.9 158.6,1150 160.6,1150.1 162.6,1150.2 164.6,1150.3 166.6,1150.4 168.6,1150.4 170.6,1150.4 172.6,1150.4 174.6,1150.4 176.6,1150.4 178.6,1150.4 180.6,1150.3 182.6,1150.3 184.6,1150.2 186.6,1150.2 188.6,1150.1 190.6,1150 192.6,1149.9 194.6,1149.9 196.6,1149.8 198.6,1149.7 200.6,1149.7 202.6,1149.6 204.6,1149.5 206.6,1149.5 208.6,1149.4 210.6,1149.4 212.6,1149.4 214.6,1149.3 216.6,1149.3 218.6,1149.3 220.6,1149.4 222.6,1149.4 224.6,1149.4 226.6,1149.5 228.6,1149.5 230.6,1149.6 232.6,1149.6 234.6,1149.7 236.6,1149.7 238.6,1149.8 240.6,1149.8 242.6,1149.9 244.6,1149.9 246.6,1149.9 248.6,1150 250.6,1150 252.6,1150 254.6,1150 256.6,1150 258.6,1150 260.6,1150 262.6,1149.9 264.6,1149.9 266.6,1149.9 268.6,1149.8 270.6,1149.7 272.6,1149.7 274.6,1149.6 276.6,1149.5 278.6,1149.4 280.6,1149.3 282.6,1149.1 284.6,1149 286.6,1148.9 288.6,1148.7 290.6,1148.5 292.6,1148.3 294.6,1148.2 296.6,1147.9 298.6,1147.7 300.6,1147.5 302.6,1147.3 304.6,1147 306.6,1146.7 308.6,1146.5 310.6,1146.2 312.6,1145.9 314.6,1145.6 316.6,1145.4 318.6,1145.1 320.6,1144.9 322.6,1144.6 324.6,1144.4 326.6,1144.2 328.6,1144 330.6,1143.8 332.6,1143.6 334.6,1143.3 336.6,1142.9 338.6,1142.5 340.6,1142 342.6,1141.4 344.6,1140.7 346.6,1139.9 348.6,1139 350.6,1137.8 352.6,1136.5 354.6,1135 356.6,1133 358.6,1130.7 360.6,1127.9 362.6,1124.6 364.6,1120.7 366.6,1116.1 368.6,1110.8 370.6,1104.9 372.6,1098.7 374.6,1092.3 376.6,1086.1 378.6,1080.5 380.6,1075.8 382.6,1072.4 384.6,1070.3 386.6,1069.5 388.6,1069.8 390.6,1070.9 392.6,1072.7 394.6,1074.9 396.6,1077.3 398.6,1079.6 400.6,1081.9 402.6,1083.8 404.6,1085.6 406.6,1087.1 408.6,1088.6 410.6,1089.9 412.6,1091.1 414.6,1092.3 416.6,1093.5 418.6,1094.6 420.6,1095.8 422.6,1097.1 424.6,1098.3 426.6,1099.6 428.6,1100.8 430.6,1102.1 432.6,1103.4 434.6,1104.7 436.6,1106 438.6,1107.3 440.6,1108.6 442.6,1109.9 444.6,1111.3 446.6,1112.6 448.6,1113.9 450.6,1115.2 452.6,1116.5 454.6,1117.8 455.4,1118.3"/>
<path class="cv" stroke="#66FFFF" d="M154.6,1229.6 156.6,1229.6 158.6,1229.7 160.6,1229.7 162.6,1229.8 164.6,1229.8 166.6,1229.8 168.6,1229.8 170.6,1229.9 172.6,1229.9 174.6,1229.9 176.6,1229.9 178.6,1229.9 180.6,1229.9 182.6,1229.9 184.6,1229.9 186.6,1229.9 188.6,1229.9 190.6,1229.9 192.6,1229.9 194.6,1229.9 196.6,1229.9 198.6,1229.9 200.6,1229.9 202.6,1229.9 204.6,1229.9 206.6,1229.9 208.6,1229.9 210.6,1229.8 212.6,1229.8 214.6,1229.8 216.6,1229.8 218.6,1229.8 220.6,1229.8 222.6,1229.7 224.6,1229.7 226.6,1229.7 228.6,1229.7 230.6,1229.7 232.6,1229.7 234.6,1229.7 236.6,1229.6 238.6,1229.6 240.6,1229.6 242.6,1229.6 244.6,1229.6 246.6,1229.6 248.6,1229.6 250.6,1229.6 252.6,1229.6 254.6,1229.6 256.6,1229.6 258.6,1229.6 260.6,1229.6 262.6,1229.6 264.6,1229.6 266.6,1229.6 268.6,1229.5 270.6,1229.5 272.6,1229.5 274.6,1229.4 276.6,1229.4 278.6,1229.3 280.6,1229.2 282.6,1229.1 284.6,1229 286.6,1228.8 288.6,1228.7 290.6,1228.5 292.6,1228.2 294.6,1228 296.6,1227.7 298.6,1227.4 300.6,1227.1 302.6,1226.7 304.6,1226.4 306.6,1226 308.6,1225.7 310.6,1225.4 312.6,1225.1 314.6,1224.8 316.6,1224.6 318.6,1224.3 320.6,1224.1 322.6,1223.9 324.6,1223.6 326.6,1223.3 328.6,1223 330.6,1222.6 332.6,1222.2 334.6,1221.7 336.6,1221 338.6,1220.3 340.6,1219.5 342.6,1218.5 344.6,1217.1 346.6,1215.3 348.6,1212.8 350.6,1209.5 352.6,1205.6 354.6,1201.1 356.6,1196 358.6,1190.5 360.6,1184.7 362.6,1178.7 364.6,1172.6 366.6,1166.8 368.6,1161.6 370.6,1157.2 372.6,1153.6 374.6,1151.1 376.6,1149.7 378.6,1149.4 380.6,1150 382.6,1151.6 384.6,1154 386.6,1157 388.6,1160.3 390.6,1163.6 392.6,1166.6 394.6,1169.3 396.6,1171.6 398.6,1173.7 400.6,1175.5 402.6,1177.1 404.6,1178.4 406.6,1179.6 408.6,1180.7 410.6,1181.6 412.6,1182.5 414.6,1183.2 416.6,1184 418.6,1184.7 420.6,1185.4 422.6,1186.2 424.6,1187 426.6,1187.9 428.6,1188.8 430.6,1189.6 432.6,1190.5 434.6,1191.4 436.6,1192.3 438.6,1193.2 440.6,1194.1 442.6,1194.9 444.6,1195.7 446.6,1196.4 448.6,1197.1 450.6,1197.8 452.6,1198.3 454.6,1198.8 455.4,1199"/>
<path class="cv" stroke="#FF9A3A" d="M154.6,1309.5 156.6,1309.5 158.6,1309.5 160.6,1309.5 162.6,1309.4 164.6,1309.4 166.6,1309.4 168.6,1309.4 170.6,1309.4 172.6,1309.4 174.6,1309.4 176.6,1309.4 178.6,1309.4 180.6,1309.4 182.6,1309.4 184.6,1309.4 186.6,1309.4 188.6,1309.4 190.6,1309.4 192.6,1309.4 194.6,1309.4 196.6,1309.4 198.6,1309.4 200.6,1309.4 202.6,1309.4 204.6,1309.4 206.6,1309.4 208.6,1309.4 210.6,1309.4 212.6,1309.4 214.6,1309.4 216.6,1309.4 218.6,1309.4 220.6,1309.4 222.6,1309.4 224.6,1309.4 226.6,1309.4 228.6,1309.4 230.6,1309.4 232.6,1309.4 234.6,1309.4 236.6,1309.4 238.6,1309.4 240.6,1309.4 242.6,1309.4 244.6,1309.4 246.6,1309.4 248.6,1309.4 250.6,1309.4 252.6,1309.4 254.6,1309.4 256.6,1309.4 258.6,1309.4 260.6,1309.4 262.6,1309.4 264.6,1309.4 266.6,1309.3 268.6,1309.3 270.6,1309.3 272.6,1309.3 274.6,1309.2 276.6,1309.2 278.6,1309.2 280.6,1309.1 282.6,1309 284.6,1308.9 286.6,1308.8 288.6,1308.7 290.6,1308.6 292.6,1308.5 294.6,1308.3 296.6,1308.2 298.6,1308 300.6,1307.8 302.6,1307.6 304.6,1307.3 306.6,1307.1 308.6,1306.8 310.6,1306.5 312.6,1306.3 314.6,1306 316.6,1305.8 318.6,1305.6 320.6,1305.4 322.6,1305.3 324.6,1305.2 326.6,1305.1 328.6,1305 330.6,1304.9 332.6,1304.8 334.6,1304.6 336.6,1304.3 338.6,1303.9 340.6,1303.4 342.6,1302.8 344.6,1301.9 346.6,1300.9 348.6,1299.7 350.6,1298.3 352.6,1296.6 354.6,1294.4 356.6,1291.7 358.6,1288.2 360.6,1284.1 362.6,1279.3 364.6,1274 366.6,1268.3 368.6,1262.3 370.6,1256.1 372.6,1249.9 374.6,1244 376.6,1238.8 378.6,1234.6 380.6,1231.6 382.6,1229.8 384.6,1229.2 386.6,1229.7 388.6,1231.2 390.6,1233.4 392.6,1236.2 394.6,1239.3 396.6,1242.6 398.6,1245.8 400.6,1249 402.6,1252.1 404.6,1255 406.6,1257.7 408.6,1260.3 410.6,1262.6 412.6,1264.9 414.6,1266.9 416.6,1268.9 418.6,1270.7 420.6,1272.4 422.6,1274 424.6,1275.5 426.6,1276.9 428.6,1278.2 430.6,1279.5 432.6,1280.7 434.6,1281.9 436.6,1283 438.6,1284.1 440.6,1285.1 442.6,1286.1 444.6,1287.1 446.6,1287.9 448.6,1288.7 450.6,1289.3 452.6,1289.8 454.6,1290.2 455.4,1290.3"/>
<path class="cv" stroke="#00AE00" d="M154.6,1388 156.6,1388.2 158.6,1388.3 160.6,1388.4 162.6,1388.5 164.6,1388.6 166.6,1388.7 168.6,1388.7 170.6,1388.8 172.6,1388.9 174.6,1388.9 176.6,1389 178.6,1389 180.6,1389 182.6,1389 184.6,1389 186.6,1389 188.6,1389 190.6,1389 192.6,1389 194.6,1388.9 196.6,1388.9 198.6,1388.8 200.6,1388.8 202.6,1388.7 204.6,1388.7 206.6,1388.6 208.6,1388.5 210.6,1388.4 212.6,1388.3 214.6,1388.2 216.6,1388.1 218.6,1388 220.6,1387.8 222.6,1387.7 224.6,1387.6 226.6,1387.4 228.6,1387.3 230.6,1387.1 232.6,1386.9 234.6,1386.8 236.6,1386.6 238.6,1386.4 240.6,1386.2 242.6,1386 244.6,1385.8 246.6,1385.6 248.6,1385.4 250.6,1385.2 252.6,1385 254.6,1384.7 256.6,1384.5 258.6,1384.1 260.6,1383.8 262.6,1383.4 264.6,1382.9 266.6,1382.4 268.6,1381.9 270.6,1381.2 272.6,1380.5 274.6,1379.7 276.6,1378.8 278.6,1377.8 280.6,1376.7 282.6,1375.5 284.6,1374.2 286.6,1372.8 288.6,1371.3 290.6,1369.6 292.6,1368 294.6,1366.2 296.6,1364.5 298.6,1362.8 300.6,1361 302.6,1359.4 304.6,1357.8 306.6,1356.3 308.6,1354.9 310.6,1353.6 312.6,1352.4 314.6,1351.4 316.6,1350.6 318.6,1349.9 320.6,1349.4 322.6,1349.1 324.6,1349 326.6,1348.9 328.6,1348.9 330.6,1348.7 332.6,1348.5 334.6,1348 336.6,1347.3 338.6,1346.2 340.6,1344.8 342.6,1342.8 344.6,1340.3 346.6,1337.4 348.6,1334.3 350.6,1331 352.6,1327.7 354.6,1324.4 356.6,1321.1 358.6,1318.1 360.6,1315.4 362.6,1313.2 364.6,1311.4 366.6,1310.2 368.6,1309.7 370.6,1309.7 372.6,1310.4 374.6,1311.8 376.6,1313.8 378.6,1316.1 380.6,1318.5 382.6,1320.8 384.6,1322.9 386.6,1324.7 388.6,1326.4 390.6,1327.9 392.6,1329.3 394.6,1330.5 396.6,1331.5 398.6,1332.5 400.6,1333.4 402.6,1334.2 404.6,1334.9 406.6,1335.6 408.6,1336.2 410.6,1336.9 412.6,1337.5 414.6,1338.1 416.6,1338.8 418.6,1339.5 420.6,1340.1 422.6,1340.8 424.6,1341.5 426.6,1342.2 428.6,1342.9 430.6,1343.5 432.6,1344.2 434.6,1344.9 436.6,1345.6 438.6,1346.2 440.6,1346.9 442.6,1347.5 444.6,1348.2 446.6,1348.8 448.6,1349.4 450.6,1350 452.6,1350.6 454.6,1351.1 455.4,1351.4"/>
<path class="cv" stroke="#8CFF8C" d="M154.6,1464.8 156.6,1465.2 158.6,1465.5 160.6,1465.8 162.6,1466.1 164.6,1466.3 166.6,1466.6 168.6,1466.8 170.6,1467 172.6,1467.1 174.6,1467.3 176.6,1467.4 178.6,1467.5 180.6,1467.6 182.6,1467.7 184.6,1467.8 186.6,1467.8 188.6,1467.9 190.6,1467.9 192.6,1468 194.6,1468 196.6,1468 198.6,1468.1 200.6,1468.1 202.6,1468.1 204.6,1468.1 206.6,1468.1 208.6,1468.1 210.6,1468.1 212.6,1468.2 214.6,1468.2 216.6,1468.2 218.6,1468.2 220.6,1468.2 222.6,1468.2 224.6,1468.2 226.6,1468.1 228.6,1468.1 230.6,1468 232.6,1468 234.6,1467.9 236.6,1467.8 238.6,1467.7 240.6,1467.6 242.6,1467.5 244.6,1467.3 246.6,1467.2 248.6,1467 250.6,1466.7 252.6,1466.5 254.6,1466.3 256.6,1466 258.6,1465.7 260.6,1465.3 262.6,1465 264.6,1464.6 266.6,1464.2 268.6,1463.7 270.6,1463.2 272.6,1462.7 274.6,1462.2 276.6,1461.6 278.6,1461 280.6,1460.4 282.6,1459.7 284.6,1459 286.6,1458.3 288.6,1457.5 290.6,1456.7 292.6,1455.9 294.6,1455 296.6,1454.1 298.6,1453.1 300.6,1452.1 302.6,1451.1 304.6,1450 306.6,1448.9 308.6,1447.7 310.6,1446.6 312.6,1445.4 314.6,1444.2 316.6,1443 318.6,1441.8 320.6,1440.7 322.6,1439.6 324.6,1438.6 326.6,1437.5 328.6,1436.4 330.6,1435.3 332.6,1434.1 334.6,1432.9 336.6,1431.4 338.6,1429.9 340.6,1428.2 342.6,1426.2 344.6,1424.1 346.6,1421.7 348.6,1419 350.6,1416 352.6,1412.8 354.6,1409.4 356.6,1406 358.6,1402.6 360.6,1399.3 362.6,1396.4 364.6,1393.8 366.6,1391.6 368.6,1390 370.6,1389.1 372.6,1388.9 374.6,1389.2 376.6,1390 378.6,1391.2 380.6,1392.7 382.6,1394.4 384.6,1396.2 386.6,1398 388.6,1399.9 390.6,1401.6 392.6,1403.4 394.6,1405.1 396.6,1406.8 398.6,1408.4 400.6,1410 402.6,1411.6 404.6,1413.1 406.6,1414.6 408.6,1416.1 410.6,1417.5 412.6,1418.9 414.6,1420.3 416.6,1421.6 418.6,1422.9 420.6,1424.2 422.6,1425.4 424.6,1426.6 426.6,1427.8 428.6,1429 430.6,1430.1 432.6,1431.1 434.6,1432.2 436.6,1433.2 438.6,1434.2 440.6,1435.1 442.6,1436 444.6,1436.9 446.6,1437.7 448.6,1438.6 450.6,1439.3 452.6,1440.1 454.6,1440.8 455.4,1441.1"/>
<path class="cv" stroke="#9900DD" d="M154.6,1548 156.6,1548 158.6,1548 160.6,1548.1 162.6,1548.1 164.6,1548.1 166.6,1548.2 168.6,1548.2 170.6,1548.2 172.6,1548.2 174.6,1548.2 176.6,1548.2 178.6,1548.2 180.6,1548.2 182.6,1548.2 184.6,1548.2 186.6,1548.2 188.6,1548.2 190.6,1548.2 192.6,1548.2 194.6,1548.2 196.6,1548.2 198.6,1548.2 200.6,1548.1 202.6,1548.1 204.6,1548.1 206.6,1548.1 208.6,1548.1 210.6,1548 212.6,1548 214.6,1548 216.6,1547.9 218.6,1547.9 220.6,1547.9 222.6,1547.9 224.6,1547.8 226.6,1547.8 228.6,1547.8 230.6,1547.7 232.6,1547.7 234.6,1547.7 236.6,1547.6 238.6,1547.6 240.6,1547.6 242.6,1547.5 244.6,1547.5 246.6,1547.5 248.6,1547.4 250.6,1547.4 252.6,1547.4 254.6,1547.3 256.6,1547.3 258.6,1547.3 260.6,1547.3 262.6,1547.2 264.6,1547.2 266.6,1547.2 268.6,1547.1 270.6,1547.1 272.6,1547 274.6,1547 276.6,1546.9 278.6,1546.8 280.6,1546.7 282.6,1546.6 284.6,1546.5 286.6,1546.4 288.6,1546.2 290.6,1546.1 292.6,1545.9 294.6,1545.7 296.6,1545.5 298.6,1545.2 300.6,1544.9 302.6,1544.6 304.6,1544.3 306.6,1543.9 308.6,1543.5 310.6,1543 312.6,1542.5 314.6,1541.9 316.6,1541.2 318.6,1540.5 320.6,1539.7 322.6,1538.8 324.6,1537.8 326.6,1536.7 328.6,1535.6 330.6,1534.3 332.6,1533 334.6,1531.7 336.6,1530.2 338.6,1528.8 340.6,1527.3 342.6,1525.7 344.6,1524.2 346.6,1522.5 348.6,1520.7 350.6,1518.8 352.6,1516.7 354.6,1514.5 356.6,1512 358.6,1509.2 360.6,1506.3 362.6,1503 364.6,1499.4 366.6,1495.6 368.6,1491.7 370.6,1487.7 372.6,1483.8 374.6,1480 376.6,1476.6 378.6,1473.7 380.6,1471.4 382.6,1469.9 384.6,1469 386.6,1468.6 388.6,1468.7 390.6,1469.3 392.6,1470.1 394.6,1471.1 396.6,1472.2 398.6,1473.4 400.6,1474.4 402.6,1475.4 404.6,1476.3 406.6,1477.1 408.6,1477.9 410.6,1478.6 412.6,1479.4 414.6,1480.3 416.6,1481.1 418.6,1481.9 420.6,1482.8 422.6,1483.7 424.6,1484.6 426.6,1485.5 428.6,1486.4 430.6,1487.4 432.6,1488.3 434.6,1489.3 436.6,1490.3 438.6,1491.2 440.6,1492.1 442.6,1493.1 444.6,1494 446.6,1494.9 448.6,1495.7 450.6,1496.6 452.6,1497.4 454.6,1498.1 455.4,1498.4"/>
<path class="cv" stroke="#B4B4FF" d="M154.6,1625.2 156.6,1625.5 158.6,1625.8 160.6,1626.1 162.6,1626.4 164.6,1626.7 166.6,1626.9 168.6,1627.1 170.6,1627.2 172.6,1627.4 174.6,1627.5 176.6,1627.6 178.6,1627.7 180.6,1627.8 182.6,1627.9 184.6,1627.9 186.6,1627.9 188.6,1628 190.6,1628 192.6,1628 194.6,1628 196.6,1627.9 198.6,1627.9 200.6,1627.9 202.6,1627.9 204.6,1627.8 206.6,1627.8 208.6,1627.7 210.6,1627.7 212.6,1627.7 214.6,1627.6 216.6,1627.6 218.6,1627.6 220.6,1627.6 222.6,1627.6 224.6,1627.5 226.6,1627.5 228.6,1627.5 230.6,1627.5 232.6,1627.4 234.6,1627.4 236.6,1627.4 238.6,1627.3 240.6,1627.3 242.6,1627.2 244.6,1627.2 246.6,1627.1 248.6,1627 250.6,1626.9 252.6,1626.8 254.6,1626.7 256.6,1626.6 258.6,1626.4 260.6,1626.3 262.6,1626.1 264.6,1625.9 266.6,1625.7 268.6,1625.4 270.6,1625.2 272.6,1624.9 274.6,1624.6 276.6,1624.3 278.6,1623.9 280.6,1623.6 282.6,1623.2 284.6,1622.8 286.6,1622.3 288.6,1621.8 290.6,1621.3 292.6,1620.7 294.6,1620.1 296.6,1619.5 298.6,1618.7 300.6,1618 302.6,1617.2 304.6,1616.3 306.6,1615.4 308.6,1614.4 310.6,1613.4 312.6,1612.2 314.6,1611 316.6,1609.8 318.6,1608.5 320.6,1607.2 322.6,1606 324.6,1604.8 326.6,1603.6 328.6,1602.5 330.6,1601.5 332.6,1600.5 334.6,1599.4 336.6,1598.3 338.6,1597 340.6,1595.7 342.6,1594.1 344.6,1592.2 346.6,1590.1 348.6,1587.7 350.6,1584.9 352.6,1581.8 354.6,1578.4 356.6,1574.9 358.6,1571.2 360.6,1567.6 362.6,1564.1 364.6,1560.7 366.6,1557.6 368.6,1554.8 370.6,1552.5 372.6,1550.7 374.6,1549.5 376.6,1548.9 378.6,1548.8 380.6,1549.2 382.6,1550.1 384.6,1551.5 386.6,1553.2 388.6,1555.1 390.6,1557 392.6,1558.8 394.6,1560.5 396.6,1562.1 398.6,1563.6 400.6,1565.1 402.6,1566.6 404.6,1568 406.6,1569.5 408.6,1570.9 410.6,1572.3 412.6,1573.7 414.6,1575 416.6,1576.3 418.6,1577.6 420.6,1578.8 422.6,1580.1 424.6,1581.2 426.6,1582.4 428.6,1583.5 430.6,1584.6 432.6,1585.6 434.6,1586.6 436.6,1587.6 438.6,1588.6 440.6,1589.6 442.6,1590.5 444.6,1591.4 446.6,1592.3 448.6,1593.2 450.6,1594.1 452.6,1595 454.6,1595.8 455.4,1596.1"/>
<path class="cv" stroke="#8C8C8C" d="M154.6,1706 156.6,1706.2 158.6,1706.4 160.6,1706.5 162.6,1706.7 164.6,1706.8 166.6,1706.9 168.6,1707 170.6,1707.1 172.6,1707.2 174.6,1707.3 176.6,1707.4 178.6,1707.4 180.6,1707.5 182.6,1707.5 184.6,1707.6 186.6,1707.6 188.6,1707.6 190.6,1707.7 192.6,1707.7 194.6,1707.7 196.6,1707.7 198.6,1707.7 200.6,1707.7 202.6,1707.7 204.6,1707.7 206.6,1707.7 208.6,1707.7 210.6,1707.7 212.6,1707.7 214.6,1707.7 216.6,1707.6 218.6,1707.6 220.6,1707.6 222.6,1707.6 224.6,1707.6 226.6,1707.6 228.6,1707.6 230.6,1707.6 232.6,1707.6 234.6,1707.6 236.6,1707.6 238.6,1707.6 240.6,1707.6 242.6,1707.6 244.6,1707.6 246.6,1707.6 248.6,1707.6 250.6,1707.6 252.6,1707.6 254.6,1707.6 256.6,1707.6 258.6,1707.6 260.6,1707.6 262.6,1707.5 264.6,1707.5 266.6,1707.4 268.6,1707.3 270.6,1707.2 272.6,1707.1 274.6,1706.9 276.6,1706.7 278.6,1706.5 280.6,1706.3 282.6,1706.1 284.6,1705.8 286.6,1705.4 288.6,1705.1 290.6,1704.7 292.6,1704.3 294.6,1703.9 296.6,1703.4 298.6,1702.9 300.6,1702.4 302.6,1701.8 304.6,1701.3 306.6,1700.7 308.6,1700.1 310.6,1699.5 312.6,1698.9 314.6,1698.2 316.6,1697.6 318.6,1696.9 320.6,1696.3 322.6,1695.6 324.6,1694.9 326.6,1694.3 328.6,1693.6 330.6,1692.8 332.6,1692 334.6,1691.2 336.6,1690.2 338.6,1689.1 340.6,1687.8 342.6,1686.4 344.6,1684.7 346.6,1682.9 348.6,1680.8 350.6,1678.5 352.6,1675.8 354.6,1672.8 356.6,1669.4 358.6,1665.5 360.6,1661.2 362.6,1656.5 364.6,1651.7 366.6,1646.9 368.6,1642.3 370.6,1638.1 372.6,1634.6 374.6,1631.8 376.6,1629.8 378.6,1628.5 380.6,1627.8 382.6,1627.6 384.6,1627.8 386.6,1628.4 388.6,1629.3 390.6,1630.3 392.6,1631.5 394.6,1632.8 396.6,1634.2 398.6,1635.6 400.6,1637.2 402.6,1638.8 404.6,1640.4 406.6,1642.1 408.6,1643.9 410.6,1645.6 412.6,1647.3 414.6,1649.1 416.6,1650.8 418.6,1652.5 420.6,1654.2 422.6,1655.8 424.6,1657.3 426.6,1658.8 428.6,1660.2 430.6,1661.6 432.6,1662.9 434.6,1664.1 436.6,1665.3 438.6,1666.4 440.6,1667.6 442.6,1668.7 444.6,1669.8 446.6,1670.9 448.6,1672 450.6,1673.1 452.6,1674.2 454.6,1675.4 455.4,1675.9"/>
<path class="ds" d="M340.4,792.8 V1705.9"/>
<text class="b lab" transform="translate(134.1 841.6) scale(1 1.03)">DMSO</text>
<text class="b lab" transform="translate(133.8 918.7) scale(1 1.015)">Ebselen</text>
<text class="b lab" transform="translate(135.2 999.6) scale(1 1.02)">Cpd 1</text>
<text class="b lab" transform="translate(133.8 1077.2) scale(1 1.02)">Cpd 2</text>
<text class="b lab" transform="translate(133.8 1159.6) scale(1 1.02)">Cpd 3</text>
<text class="b lab" transform="translate(133.4 1238) scale(1 1.02)">Cpd 4</text>
<text class="b lab" transform="translate(133.8 1318.6) scale(1 1.02)">Cpd 5</text>
<text class="b lab" transform="translate(133.8 1397.9) scale(1 1.02)">Cpd 6</text>
<text class="b lab" transform="translate(133.8 1478.6) scale(1 1.02)">Cpd 7</text>
<text class="b lab" transform="translate(133.8 1556.9) scale(1 1.02)">Cpd 8</text>
<text class="b lab" transform="translate(133.8 1638.4) scale(1 1.02)">Cpd 9</text>
<text class="b lab" transform="translate(134.3 1717.6) scale(1 1.02)">Cpd 10</text>
<text class="b tk" transform="translate(153 1741.9) scale(1 1.03)">40</text>
<text class="b tk" transform="translate(213.8 1741.9) scale(1 1.03)">50</text>
<text class="b tk" transform="translate(274.6 1741.9) scale(1 1.03)">60</text>
<text class="b tk" transform="translate(335.3 1741.9) scale(1 1.03)">70</text>
<text class="b tk" transform="translate(395.1 1741.9) scale(1 1.03)">80</text>
<text class="b tk" transform="translate(455.4 1741.9) scale(1 1.03)">90</text>
<text class="b xt" transform="translate(305.6 1772) scale(1 1.015)">Temperature (<tspan font-size="17.6" dy="-9.4">o</tspan><tspan dy="9.4">C)</tspan></text>
</g>
<g id="panel-f" style="--k:1">
<path class="ax" d="M643.1,751 V1715.1 M635.5,1707.6 H946.5 M635.5,754 H643.1 M635.5,833.8 H643.1 M635.5,913.3 H643.1 M635.5,992.5 H643.1 M635.5,1071.6 H643.1 M635.5,1151.3 H643.1 M635.5,1231 H643.1 M635.5,1310.4 H643.1 M635.5,1390 H643.1 M635.5,1469.3 H643.1 M635.5,1549.1 H643.1 M635.5,1628.3 H643.1 M703.5,1707.6 V1715.1 M763.9,1707.6 V1715.1 M824.4,1707.6 V1715.1 M884.8,1707.6 V1715.1 M945.2,1707.6 V1715.1"/>
<path class="cv" stroke="#000000" d="M643.7,830.5 645.7,830.9 647.7,831.3 649.7,831.6 651.7,831.9 653.7,832.2 655.7,832.4 657.7,832.7 659.7,832.8 661.7,833 663.7,833.1 665.7,833.2 667.7,833.3 669.7,833.3 671.7,833.4 673.7,833.4 675.7,833.3 677.7,833.3 679.7,833.2 681.7,833 683.7,832.9 685.7,832.7 687.7,832.5 689.7,832.3 691.7,832 693.7,831.7 695.7,831.3 697.7,830.9 699.7,830.4 701.7,829.9 703.7,829.3 705.7,828.7 707.7,828 709.7,827.2 711.7,826.4 713.7,825.5 715.7,824.6 717.7,823.6 719.7,822.5 721.7,821.3 723.7,820 725.7,818.6 727.7,817.1 729.7,815.5 731.7,813.8 733.7,811.9 735.7,809.8 737.7,807.7 739.7,805.4 741.7,803.1 743.7,800.7 745.7,798.3 747.7,795.8 749.7,793.4 751.7,791 753.7,788.6 755.7,786.3 757.7,784.2 759.7,782.1 761.7,780.1 763.7,778.3 765.7,776.5 767.7,774.8 769.7,773.2 771.7,771.7 773.7,770.3 775.7,768.9 777.7,767.6 779.7,766.3 781.7,765.1 783.7,764 785.7,762.9 787.7,761.8 789.7,760.7 791.7,759.7 793.7,758.7 795.7,757.8 797.7,756.9 799.7,756.1 801.7,755.3 803.7,754.7 805.7,754.3 807.7,754 809.7,753.8 811.7,753.9 813.7,754.2 815.7,754.6 817.7,755.3 819.7,756.1 821.7,757.1 823.7,758.2 825.7,759.5 827.7,760.9 829.7,762.4 831.7,764 833.7,765.7 835.7,767.3 837.7,769.1 839.7,770.8 841.7,772.4 843.7,774.1 845.7,775.7 847.7,777.3 849.7,778.9 851.7,780.4 853.7,781.9 855.7,783.3 857.7,784.7 859.7,786 861.7,787.3 863.7,788.5 865.7,789.7 867.7,790.9 869.7,792 871.7,793.1 873.7,794.1 875.7,795.1 877.7,796.1 879.7,797 881.7,797.9 883.7,798.7 885.7,799.5 887.7,800.3 889.7,801.1 891.7,801.8 893.7,802.6 895.7,803.2 897.7,803.9 899.7,804.5 901.7,805.1 903.7,805.7 905.7,806.3 907.7,806.9 909.7,807.4 911.7,807.9 913.7,808.5 915.7,809 917.7,809.4 919.7,809.9 921.7,810.4 923.7,810.8 925.7,811.3 927.7,811.7 929.7,812.2 931.7,812.6 933.7,813.1 935.7,813.5 937.7,813.9 939.7,814.4 941.7,814.8 943.7,815.3 945.2,815.6"/>
<path class="cv" stroke="#EE0A70" d="M643.7,913.4 645.7,913.4 647.7,913.5 649.7,913.5 651.7,913.6 653.7,913.6 655.7,913.6 657.7,913.6 659.7,913.6 661.7,913.5 663.7,913.5 665.7,913.5 667.7,913.4 669.7,913.4 671.7,913.3 673.7,913.3 675.7,913.2 677.7,913.1 679.7,913.1 681.7,913 683.7,912.9 685.7,912.9 687.7,912.8 689.7,912.7 691.7,912.6 693.7,912.6 695.7,912.5 697.7,912.4 699.7,912.4 701.7,912.3 703.7,912.3 705.7,912.2 707.7,912.1 709.7,912.1 711.7,912 713.7,911.9 715.7,911.7 717.7,911.6 719.7,911.5 721.7,911.3 723.7,911.1 725.7,910.9 727.7,910.6 729.7,910.3 731.7,910 733.7,909.7 735.7,909.3 737.7,908.9 739.7,908.4 741.7,907.9 743.7,907.3 745.7,906.6 747.7,905.9 749.7,905.1 751.7,904.2 753.7,903.2 755.7,902.2 757.7,901 759.7,899.7 761.7,898.5 763.7,897.2 765.7,895.9 767.7,894.7 769.7,893.7 771.7,892.7 773.7,891.8 775.7,891 777.7,890.2 779.7,889.4 781.7,888.7 783.7,888 785.7,887.2 787.7,886.5 789.7,885.7 791.7,884.7 793.7,883.5 795.7,882 797.7,880.1 799.7,877.7 801.7,875 803.7,871.8 805.7,868.2 807.7,864.3 809.7,860.2 811.7,856.1 813.7,852.1 815.7,848.3 817.7,844.7 819.7,841.6 821.7,838.9 823.7,836.6 825.7,834.9 827.7,833.8 829.7,833.3 831.7,833.5 833.7,834.3 835.7,835.7 837.7,837.6 839.7,839.8 841.7,842.3 843.7,844.9 845.7,847.6 847.7,850.3 849.7,852.9 851.7,855.5 853.7,858 855.7,860.4 857.7,862.7 859.7,864.8 861.7,866.8 863.7,868.8 865.7,870.6 867.7,872.4 869.7,874 871.7,875.6 873.7,877.2 875.7,878.6 877.7,880 879.7,881.4 881.7,882.7 883.7,883.9 885.7,885.2 887.7,886.4 889.7,887.6 891.7,888.8 893.7,889.9 895.7,891.1 897.7,892.2 899.7,893.4 901.7,894.5 903.7,895.7 905.7,896.8 907.7,897.8 909.7,898.9 911.7,899.9 913.7,900.9 915.7,901.8 917.7,902.7 919.7,903.6 921.7,904.4 923.7,905.1 925.7,905.8 927.7,906.4 929.7,906.9 931.7,907.4 933.7,907.8 935.7,908.1 937.7,908.3 939.7,908.5 941.7,908.5 943.7,908.4 945.2,908.3"/>
<path class="cv" stroke="#F59AE8" d="M643.7,991.8 645.7,991.9 647.7,992.1 649.7,992.2 651.7,992.3 653.7,992.4 655.7,992.5 657.7,992.6 659.7,992.7 661.7,992.7 663.7,992.8 665.7,992.8 667.7,992.8 669.7,992.8 671.7,992.7 673.7,992.7 675.7,992.6 677.7,992.5 679.7,992.4 681.7,992.3 683.7,992.2 685.7,992 687.7,991.9 689.7,991.7 691.7,991.5 693.7,991.2 695.7,991 697.7,990.7 699.7,990.5 701.7,990.2 703.7,989.8 705.7,989.5 707.7,989.2 709.7,988.8 711.7,988.4 713.7,988 715.7,987.6 717.7,987.1 719.7,986.6 721.7,986.2 723.7,985.7 725.7,985.1 727.7,984.6 729.7,984 731.7,983.4 733.7,982.8 735.7,982.1 737.7,981.4 739.7,980.6 741.7,979.7 743.7,978.8 745.7,977.7 747.7,976.5 749.7,975.2 751.7,973.9 753.7,972.5 755.7,970.9 757.7,969.3 759.7,967.7 761.7,965.9 763.7,964.2 765.7,962.5 767.7,960.8 769.7,959.1 771.7,957.5 773.7,955.9 775.7,954.4 777.7,952.9 779.7,951.4 781.7,949.9 783.7,948.5 785.7,947 787.7,945.5 789.7,943.9 791.7,942.3 793.7,940.6 795.7,938.8 797.7,936.9 799.7,934.8 801.7,932.7 803.7,930.3 805.7,927.9 807.7,925.5 809.7,923.1 811.7,920.9 813.7,918.8 815.7,916.9 817.7,915.4 819.7,914.2 821.7,913.4 823.7,912.9 825.7,912.9 827.7,913.1 829.7,913.8 831.7,914.7 833.7,915.9 835.7,917.3 837.7,918.9 839.7,920.7 841.7,922.5 843.7,924.5 845.7,926.4 847.7,928.4 849.7,930.5 851.7,932.5 853.7,934.4 855.7,936.4 857.7,938.3 859.7,940.1 861.7,941.8 863.7,943.5 865.7,945.1 867.7,946.7 869.7,948.2 871.7,949.7 873.7,951.1 875.7,952.4 877.7,953.8 879.7,955 881.7,956.2 883.7,957.4 885.7,958.5 887.7,959.6 889.7,960.6 891.7,961.6 893.7,962.5 895.7,963.5 897.7,964.3 899.7,965.2 901.7,966 903.7,966.8 905.7,967.5 907.7,968.2 909.7,968.9 911.7,969.6 913.7,970.2 915.7,970.8 917.7,971.4 919.7,972 921.7,972.6 923.7,973.1 925.7,973.6 927.7,974.1 929.7,974.6 931.7,975.1 933.7,975.6 935.7,976.1 937.7,976.5 939.7,977 941.7,977.4 943.7,977.9 945.2,978.2"/>
<path class="cv" stroke="#FFFF00" d="M643.7,1070.8 645.7,1071 647.7,1071.3 649.7,1071.4 651.7,1071.6 653.7,1071.8 655.7,1071.9 657.7,1072 659.7,1072.1 661.7,1072.1 663.7,1072.2 665.7,1072.2 667.7,1072.2 669.7,1072.1 671.7,1072.1 673.7,1072 675.7,1072 677.7,1071.9 679.7,1071.7 681.7,1071.6 683.7,1071.5 685.7,1071.3 687.7,1071.1 689.7,1070.9 691.7,1070.7 693.7,1070.5 695.7,1070.3 697.7,1070.1 699.7,1069.8 701.7,1069.5 703.7,1069.2 705.7,1068.9 707.7,1068.6 709.7,1068.2 711.7,1067.8 713.7,1067.4 715.7,1066.9 717.7,1066.4 719.7,1065.9 721.7,1065.3 723.7,1064.6 725.7,1063.9 727.7,1063.2 729.7,1062.4 731.7,1061.5 733.7,1060.6 735.7,1059.6 737.7,1058.5 739.7,1057.4 741.7,1056.1 743.7,1054.8 745.7,1053.5 747.7,1052 749.7,1050.5 751.7,1049 753.7,1047.4 755.7,1045.7 757.7,1044 759.7,1042.2 761.7,1040.5 763.7,1038.6 765.7,1036.8 767.7,1035 769.7,1033.1 771.7,1031.3 773.7,1029.6 775.7,1027.9 777.7,1026.4 779.7,1025 781.7,1023.7 783.7,1022.5 785.7,1021.3 787.7,1020.2 789.7,1019 791.7,1017.9 793.7,1016.6 795.7,1015.3 797.7,1013.9 799.7,1012.4 801.7,1010.7 803.7,1008.9 805.7,1006.9 807.7,1005 809.7,1003 811.7,1001.1 813.7,999.2 815.7,997.5 817.7,996 819.7,994.7 821.7,993.7 823.7,992.9 825.7,992.5 827.7,992.6 829.7,993 831.7,993.7 833.7,994.8 835.7,996.1 837.7,997.6 839.7,999.2 841.7,1001 843.7,1002.8 845.7,1004.7 847.7,1006.5 849.7,1008.3 851.7,1010.1 853.7,1011.9 855.7,1013.6 857.7,1015.3 859.7,1016.9 861.7,1018.5 863.7,1020 865.7,1021.5 867.7,1022.9 869.7,1024.3 871.7,1025.6 873.7,1026.9 875.7,1028.2 877.7,1029.4 879.7,1030.6 881.7,1031.7 883.7,1032.8 885.7,1033.9 887.7,1034.9 889.7,1035.9 891.7,1036.9 893.7,1037.8 895.7,1038.7 897.7,1039.6 899.7,1040.4 901.7,1041.2 903.7,1042 905.7,1042.8 907.7,1043.6 909.7,1044.3 911.7,1045 913.7,1045.7 915.7,1046.4 917.7,1047 919.7,1047.7 921.7,1048.3 923.7,1048.9 925.7,1049.5 927.7,1050.1 929.7,1050.7 931.7,1051.3 933.7,1051.9 935.7,1052.5 937.7,1053 939.7,1053.6 941.7,1054.1 943.7,1054.7 945.2,1055.1"/>
<path class="cv" stroke="#4040FF" d="M643.7,1150.4 645.7,1150.7 647.7,1151 649.7,1151.2 651.7,1151.4 653.7,1151.6 655.7,1151.7 657.7,1151.8 659.7,1151.8 661.7,1151.8 663.7,1151.8 665.7,1151.8 667.7,1151.7 669.7,1151.6 671.7,1151.6 673.7,1151.5 675.7,1151.3 677.7,1151.2 679.7,1151.1 681.7,1150.9 683.7,1150.8 685.7,1150.6 687.7,1150.5 689.7,1150.4 691.7,1150.2 693.7,1150.1 695.7,1150 697.7,1149.9 699.7,1149.9 701.7,1149.8 703.7,1149.8 705.7,1149.8 707.7,1149.8 709.7,1149.8 711.7,1149.8 713.7,1149.9 715.7,1150 717.7,1150 719.7,1150 721.7,1150.1 723.7,1150.1 725.7,1150.1 727.7,1150.1 729.7,1150 731.7,1149.9 733.7,1149.8 735.7,1149.6 737.7,1149.3 739.7,1149.1 741.7,1148.7 743.7,1148.3 745.7,1147.8 747.7,1147.3 749.7,1146.7 751.7,1146 753.7,1145.3 755.7,1144.6 757.7,1143.8 759.7,1143 761.7,1142.1 763.7,1141.2 765.7,1140.3 767.7,1139.4 769.7,1138.5 771.7,1137.6 773.7,1136.8 775.7,1135.9 777.7,1135.1 779.7,1134.4 781.7,1133.7 783.7,1133.1 785.7,1132.4 787.7,1131.7 789.7,1130.9 791.7,1129.7 793.7,1128.3 795.7,1126.5 797.7,1124.4 799.7,1122 801.7,1119.1 803.7,1115.9 805.7,1112.2 807.7,1108.2 809.7,1103.8 811.7,1099.3 813.7,1094.8 815.7,1090.4 817.7,1086.2 819.7,1082.4 821.7,1079 823.7,1076.2 825.7,1074 827.7,1072.4 829.7,1071.6 831.7,1071.5 833.7,1072.1 835.7,1073.2 837.7,1074.8 839.7,1076.7 841.7,1078.9 843.7,1081.2 845.7,1083.5 847.7,1085.7 849.7,1087.8 851.7,1089.9 853.7,1091.8 855.7,1093.7 857.7,1095.5 859.7,1097.2 861.7,1098.8 863.7,1100.3 865.7,1101.8 867.7,1103.2 869.7,1104.6 871.7,1106 873.7,1107.3 875.7,1108.5 877.7,1109.8 879.7,1111.1 881.7,1112.3 883.7,1113.5 885.7,1114.8 887.7,1116 889.7,1117.2 891.7,1118.4 893.7,1119.6 895.7,1120.8 897.7,1121.9 899.7,1123.1 901.7,1124.2 903.7,1125.2 905.7,1126.3 907.7,1127.3 909.7,1128.3 911.7,1129.2 913.7,1130.2 915.7,1131.1 917.7,1132 919.7,1132.9 921.7,1133.8 923.7,1134.7 925.7,1135.6 927.7,1136.5 929.7,1137.3 931.7,1138.2 933.7,1139.1 935.7,1140 937.7,1140.8 939.7,1141.7 941.7,1142.6 943.7,1143.5 945.2,1144.2"/>
<path class="cv" stroke="#66FFFF" d="M643.7,1230.6 645.7,1230.6 647.7,1230.7 649.7,1230.8 651.7,1230.8 653.7,1230.9 655.7,1231 657.7,1231 659.7,1231.1 661.7,1231.2 663.7,1231.2 665.7,1231.3 667.7,1231.3 669.7,1231.4 671.7,1231.4 673.7,1231.4 675.7,1231.4 677.7,1231.4 679.7,1231.4 681.7,1231.4 683.7,1231.3 685.7,1231.3 687.7,1231.2 689.7,1231.1 691.7,1231 693.7,1230.9 695.7,1230.8 697.7,1230.7 699.7,1230.6 701.7,1230.6 703.7,1230.6 705.7,1230.6 707.7,1230.6 709.7,1230.7 711.7,1230.8 713.7,1230.8 715.7,1230.9 717.7,1230.9 719.7,1230.9 721.7,1230.8 723.7,1230.7 725.7,1230.5 727.7,1230.2 729.7,1229.8 731.7,1229.4 733.7,1228.9 735.7,1228.2 737.7,1227.5 739.7,1226.6 741.7,1225.7 743.7,1224.6 745.7,1223.4 747.7,1222.1 749.7,1220.6 751.7,1219 753.7,1217.3 755.7,1215.4 757.7,1213.3 759.7,1211.1 761.7,1209 763.7,1207 765.7,1205.1 767.7,1203.6 769.7,1202.4 771.7,1201.4 773.7,1200.7 775.7,1200.1 777.7,1199.7 779.7,1199.2 781.7,1198.5 783.7,1197.6 785.7,1196.4 787.7,1194.9 789.7,1193.1 791.7,1190.9 793.7,1188.4 795.7,1185.6 797.7,1182.4 799.7,1178.8 801.7,1175 803.7,1171.1 805.7,1167.4 807.7,1163.9 809.7,1160.8 811.7,1158 813.7,1155.7 815.7,1153.8 817.7,1152.3 819.7,1151.4 821.7,1151 823.7,1151.2 825.7,1152 827.7,1153.4 829.7,1155.1 831.7,1157.3 833.7,1159.8 835.7,1162.5 837.7,1165.4 839.7,1168.3 841.7,1171.3 843.7,1174.3 845.7,1177.1 847.7,1179.7 849.7,1182.2 851.7,1184.5 853.7,1186.5 855.7,1188.5 857.7,1190.3 859.7,1191.9 861.7,1193.5 863.7,1194.9 865.7,1196.3 867.7,1197.5 869.7,1198.8 871.7,1199.9 873.7,1201.1 875.7,1202.2 877.7,1203.2 879.7,1204.3 881.7,1205.3 883.7,1206.2 885.7,1207.1 887.7,1208 889.7,1208.9 891.7,1209.7 893.7,1210.5 895.7,1211.2 897.7,1211.9 899.7,1212.6 901.7,1213.3 903.7,1213.9 905.7,1214.5 907.7,1215.1 909.7,1215.6 911.7,1216.1 913.7,1216.6 915.7,1217.1 917.7,1217.6 919.7,1218 921.7,1218.4 923.7,1218.8 925.7,1219.2 927.7,1219.6 929.7,1219.9 931.7,1220.3 933.7,1220.6 935.7,1220.9 937.7,1221.2 939.7,1221.5 941.7,1221.8 943.7,1222.1 945.2,1222.3"/>
<path class="cv" stroke="#FF9A3A" d="M643.7,1310.2 645.7,1310.4 647.7,1310.6 649.7,1310.7 651.7,1310.8 653.7,1310.9 655.7,1310.9 657.7,1310.9 659.7,1310.9 661.7,1310.9 663.7,1310.8 665.7,1310.7 667.7,1310.7 669.7,1310.6 671.7,1310.5 673.7,1310.4 675.7,1310.3 677.7,1310.2 679.7,1310.2 681.7,1310.1 683.7,1310.1 685.7,1310.1 687.7,1310.1 689.7,1310.1 691.7,1310.1 693.7,1310.1 695.7,1310.1 697.7,1310.2 699.7,1310.2 701.7,1310.2 703.7,1310.2 705.7,1310.3 707.7,1310.3 709.7,1310.3 711.7,1310.3 713.7,1310.3 715.7,1310.3 717.7,1310.3 719.7,1310.3 721.7,1310.3 723.7,1310.2 725.7,1310.2 727.7,1310.1 729.7,1310 731.7,1309.8 733.7,1309.7 735.7,1309.5 737.7,1309.3 739.7,1309.1 741.7,1308.8 743.7,1308.5 745.7,1308.2 747.7,1307.8 749.7,1307.4 751.7,1307 753.7,1306.5 755.7,1306 757.7,1305.4 759.7,1304.8 761.7,1304.2 763.7,1303.6 765.7,1303 767.7,1302.5 769.7,1302 771.7,1301.6 773.7,1301.3 775.7,1301 777.7,1300.6 779.7,1300.2 781.7,1299.7 783.7,1299.1 785.7,1298.2 787.7,1297.1 789.7,1295.8 791.7,1294.1 793.7,1292 795.7,1289.6 797.7,1286.7 799.7,1283.3 801.7,1279.4 803.7,1274.9 805.7,1270 807.7,1264.8 809.7,1259.6 811.7,1254.6 813.7,1249.9 815.7,1245.7 817.7,1242 819.7,1238.9 821.7,1236.4 823.7,1234.4 825.7,1232.8 827.7,1231.8 829.7,1231.1 831.7,1230.9 833.7,1231 835.7,1231.4 837.7,1232.2 839.7,1233.2 841.7,1234.5 843.7,1236 845.7,1237.7 847.7,1239.5 849.7,1241.4 851.7,1243.5 853.7,1245.6 855.7,1247.7 857.7,1249.8 859.7,1251.9 861.7,1253.9 863.7,1255.9 865.7,1257.8 867.7,1259.6 869.7,1261.3 871.7,1263 873.7,1264.6 875.7,1266.2 877.7,1267.8 879.7,1269.4 881.7,1270.9 883.7,1272.4 885.7,1273.9 887.7,1275.4 889.7,1276.9 891.7,1278.4 893.7,1280 895.7,1281.5 897.7,1283.1 899.7,1284.6 901.7,1286.1 903.7,1287.6 905.7,1289 907.7,1290.4 909.7,1291.7 911.7,1293 913.7,1294.2 915.7,1295.3 917.7,1296.4 919.7,1297.4 921.7,1298.3 923.7,1299.2 925.7,1300 927.7,1300.7 929.7,1301.4 931.7,1302 933.7,1302.5 935.7,1303 937.7,1303.4 939.7,1303.7 941.7,1303.9 943.7,1304.1 945.2,1304.1"/>
<path class="cv" stroke="#00AE00" d="M643.7,1390 645.7,1390 647.7,1389.9 649.7,1389.9 651.7,1389.9 653.7,1389.9 655.7,1389.8 657.7,1389.8 659.7,1389.7 661.7,1389.7 663.7,1389.6 665.7,1389.5 667.7,1389.4 669.7,1389.3 671.7,1389.2 673.7,1389 675.7,1388.8 677.7,1388.6 679.7,1388.3 681.7,1388.1 683.7,1387.8 685.7,1387.4 687.7,1387.1 689.7,1386.6 691.7,1386.2 693.7,1385.7 695.7,1385.2 697.7,1384.6 699.7,1383.9 701.7,1383.2 703.7,1382.5 705.7,1381.6 707.7,1380.7 709.7,1379.8 711.7,1378.7 713.7,1377.5 715.7,1376.2 717.7,1374.8 719.7,1373.3 721.7,1371.7 723.7,1370 725.7,1368.1 727.7,1366 729.7,1363.9 731.7,1361.5 733.7,1359.1 735.7,1356.4 737.7,1353.6 739.7,1350.6 741.7,1347.5 743.7,1344.3 745.7,1340.9 747.7,1337.4 749.7,1333.8 751.7,1330.3 753.7,1327 755.7,1323.9 757.7,1321.2 759.7,1318.8 761.7,1316.8 763.7,1315.1 765.7,1313.6 767.7,1312.4 769.7,1311.5 771.7,1310.8 773.7,1310.3 775.7,1309.9 777.7,1309.8 779.7,1309.8 781.7,1309.9 783.7,1310.1 785.7,1310.4 787.7,1310.8 789.7,1311.2 791.7,1311.7 793.7,1312.2 795.7,1312.8 797.7,1313.5 799.7,1314.2 801.7,1315 803.7,1315.8 805.7,1316.7 807.7,1317.7 809.7,1318.7 811.7,1319.7 813.7,1320.8 815.7,1322 817.7,1323.2 819.7,1324.5 821.7,1325.8 823.7,1327.2 825.7,1328.6 827.7,1330 829.7,1331.6 831.7,1333.1 833.7,1334.8 835.7,1336.4 837.7,1338.1 839.7,1339.8 841.7,1341.6 843.7,1343.3 845.7,1345.1 847.7,1346.9 849.7,1348.7 851.7,1350.5 853.7,1352.3 855.7,1354.1 857.7,1355.9 859.7,1357.7 861.7,1359.4 863.7,1361.1 865.7,1362.7 867.7,1364.2 869.7,1365.6 871.7,1366.8 873.7,1368 875.7,1369 877.7,1369.9 879.7,1370.8 881.7,1371.5 883.7,1372.2 885.7,1372.8 887.7,1373.3 889.7,1373.8 891.7,1374.2 893.7,1374.6 895.7,1374.9 897.7,1375.2 899.7,1375.4 901.7,1375.7 903.7,1375.9 905.7,1376.1 907.7,1376.3 909.7,1376.5 911.7,1376.7 913.7,1376.9 915.7,1377.1 917.7,1377.4 919.7,1377.6 921.7,1377.9 923.7,1378.1 925.7,1378.3 927.7,1378.6 929.7,1378.8 931.7,1379 933.7,1379.2 935.7,1379.4 937.7,1379.6 939.7,1379.8 941.7,1379.9 943.7,1380 945.2,1380.1"/>
<path class="cv" stroke="#8CFF8C" d="M643.7,1469.6 645.7,1469.5 647.7,1469.5 649.7,1469.5 651.7,1469.5 653.7,1469.5 655.7,1469.5 657.7,1469.5 659.7,1469.5 661.7,1469.5 663.7,1469.5 665.7,1469.4 667.7,1469.3 669.7,1469.2 671.7,1469 673.7,1468.8 675.7,1468.6 677.7,1468.3 679.7,1468 681.7,1467.6 683.7,1467.1 685.7,1466.6 687.7,1466 689.7,1465.4 691.7,1464.6 693.7,1463.8 695.7,1462.9 697.7,1461.9 699.7,1460.8 701.7,1459.6 703.7,1458.2 705.7,1456.7 707.7,1455 709.7,1453.1 711.7,1451 713.7,1448.7 715.7,1446.2 717.7,1443.5 719.7,1440.6 721.7,1437.5 723.7,1434.2 725.7,1430.8 727.7,1427.2 729.7,1423.6 731.7,1419.9 733.7,1416.3 735.7,1412.6 737.7,1409.1 739.7,1405.8 741.7,1402.7 743.7,1399.8 745.7,1397.2 747.7,1395 749.7,1393.2 751.7,1391.8 753.7,1390.7 755.7,1390.1 757.7,1389.8 759.7,1389.8 761.7,1390.1 763.7,1390.7 765.7,1391.5 767.7,1392.6 769.7,1393.8 771.7,1395.1 773.7,1396.6 775.7,1398.1 777.7,1399.6 779.7,1401.1 781.7,1402.6 783.7,1404 785.7,1405.3 787.7,1406.5 789.7,1407.7 791.7,1408.8 793.7,1410 795.7,1411.1 797.7,1412.3 799.7,1413.5 801.7,1414.8 803.7,1416.2 805.7,1417.6 807.7,1419.1 809.7,1420.6 811.7,1422.2 813.7,1423.7 815.7,1425.4 817.7,1427 819.7,1428.6 821.7,1430.3 823.7,1432 825.7,1433.6 827.7,1435.3 829.7,1436.9 831.7,1438.5 833.7,1440.1 835.7,1441.6 837.7,1443.1 839.7,1444.6 841.7,1446 843.7,1447.4 845.7,1448.7 847.7,1449.9 849.7,1451.1 851.7,1452.2 853.7,1453.2 855.7,1454.2 857.7,1455.2 859.7,1456 861.7,1456.9 863.7,1457.6 865.7,1458.4 867.7,1459.1 869.7,1459.7 871.7,1460.3 873.7,1460.8 875.7,1461.4 877.7,1461.8 879.7,1462.3 881.7,1462.7 883.7,1463.1 885.7,1463.4 887.7,1463.7 889.7,1464 891.7,1464.3 893.7,1464.5 895.7,1464.7 897.7,1464.9 899.7,1465.1 901.7,1465.2 903.7,1465.4 905.7,1465.5 907.7,1465.6 909.7,1465.7 911.7,1465.8 913.7,1465.9 915.7,1466 917.7,1466.1 919.7,1466.2 921.7,1466.3 923.7,1466.3 925.7,1466.4 927.7,1466.5 929.7,1466.6 931.7,1466.7 933.7,1466.8 935.7,1466.9 937.7,1467 939.7,1467.1 941.7,1467.3 943.7,1467.5 945.2,1467.6"/>
<path class="cv" stroke="#9900DD" d="M643.7,1548.3 645.7,1548.5 647.7,1548.6 649.7,1548.7 651.7,1548.8 653.7,1548.9 655.7,1548.9 657.7,1549 659.7,1549 661.7,1549.1 663.7,1549.1 665.7,1549.1 667.7,1549.1 669.7,1549.1 671.7,1549 673.7,1549 675.7,1548.9 677.7,1548.9 679.7,1548.8 681.7,1548.7 683.7,1548.6 685.7,1548.5 687.7,1548.4 689.7,1548.3 691.7,1548.2 693.7,1548.1 695.7,1548 697.7,1547.8 699.7,1547.7 701.7,1547.6 703.7,1547.4 705.7,1547.3 707.7,1547.1 709.7,1546.9 711.7,1546.7 713.7,1546.4 715.7,1546.2 717.7,1545.9 719.7,1545.5 721.7,1545.1 723.7,1544.7 725.7,1544.2 727.7,1543.7 729.7,1543.2 731.7,1542.5 733.7,1541.8 735.7,1541 737.7,1540.1 739.7,1539.1 741.7,1537.9 743.7,1536.6 745.7,1535.2 747.7,1533.6 749.7,1531.9 751.7,1530 753.7,1528.1 755.7,1526 757.7,1523.9 759.7,1521.7 761.7,1519.5 763.7,1517.3 765.7,1515.2 767.7,1513.1 769.7,1511.2 771.7,1509.3 773.7,1507.5 775.7,1505.9 777.7,1504.2 779.7,1502.6 781.7,1501.1 783.7,1499.5 785.7,1498 787.7,1496.4 789.7,1494.8 791.7,1493.2 793.7,1491.4 795.7,1489.6 797.7,1487.7 799.7,1485.7 801.7,1483.5 803.7,1481.4 805.7,1479.3 807.7,1477.2 809.7,1475.4 811.7,1473.7 813.7,1472.3 815.7,1471.2 817.7,1470.5 819.7,1469.9 821.7,1469.6 823.7,1469.6 825.7,1469.7 827.7,1470.1 829.7,1470.5 831.7,1471.2 833.7,1471.9 835.7,1472.8 837.7,1473.7 839.7,1474.7 841.7,1475.7 843.7,1476.7 845.7,1477.7 847.7,1478.8 849.7,1479.8 851.7,1480.8 853.7,1481.7 855.7,1482.7 857.7,1483.7 859.7,1484.6 861.7,1485.6 863.7,1486.5 865.7,1487.4 867.7,1488.3 869.7,1489.2 871.7,1490.1 873.7,1490.9 875.7,1491.8 877.7,1492.6 879.7,1493.5 881.7,1494.3 883.7,1495.1 885.7,1495.9 887.7,1496.7 889.7,1497.5 891.7,1498.3 893.7,1499 895.7,1499.8 897.7,1500.5 899.7,1501.2 901.7,1502 903.7,1502.7 905.7,1503.4 907.7,1504.1 909.7,1504.7 911.7,1505.4 913.7,1506.1 915.7,1506.7 917.7,1507.4 919.7,1508 921.7,1508.6 923.7,1509.2 925.7,1509.8 927.7,1510.4 929.7,1511 931.7,1511.6 933.7,1512.2 935.7,1512.7 937.7,1513.3 939.7,1513.8 941.7,1514.4 943.7,1514.9 945.2,1515.3"/>
<path class="cv" stroke="#B4B4FF" d="M643.7,1628.4 645.7,1628.5 647.7,1628.6 649.7,1628.7 651.7,1628.7 653.7,1628.8 655.7,1628.8 657.7,1628.8 659.7,1628.8 661.7,1628.8 663.7,1628.7 665.7,1628.7 667.7,1628.6 669.7,1628.5 671.7,1628.4 673.7,1628.2 675.7,1628.1 677.7,1627.9 679.7,1627.7 681.7,1627.5 683.7,1627.3 685.7,1627.1 687.7,1626.9 689.7,1626.6 691.7,1626.4 693.7,1626.1 695.7,1625.8 697.7,1625.5 699.7,1625.2 701.7,1624.9 703.7,1624.5 705.7,1624.1 707.7,1623.6 709.7,1623 711.7,1622.4 713.7,1621.8 715.7,1621 717.7,1620.1 719.7,1619.2 721.7,1618.1 723.7,1616.9 725.7,1615.6 727.7,1614.2 729.7,1612.6 731.7,1610.8 733.7,1608.9 735.7,1606.9 737.7,1604.7 739.7,1602.3 741.7,1599.9 743.7,1597.3 745.7,1594.8 747.7,1592.1 749.7,1589.5 751.7,1586.9 753.7,1584.2 755.7,1581.7 757.7,1579.2 759.7,1576.8 761.7,1574.6 763.7,1572.5 765.7,1570.5 767.7,1568.7 769.7,1567.1 771.7,1565.7 773.7,1564.3 775.7,1563.1 777.7,1561.9 779.7,1560.8 781.7,1559.8 783.7,1558.8 785.7,1557.8 787.7,1556.9 789.7,1555.9 791.7,1555 793.7,1554.1 795.7,1553.2 797.7,1552.4 799.7,1551.6 801.7,1550.8 803.7,1550.2 805.7,1549.7 807.7,1549.4 809.7,1549.2 811.7,1549.2 813.7,1549.4 815.7,1549.8 817.7,1550.3 819.7,1551 821.7,1551.8 823.7,1552.8 825.7,1553.8 827.7,1554.9 829.7,1556.1 831.7,1557.5 833.7,1558.8 835.7,1560.3 837.7,1561.8 839.7,1563.3 841.7,1564.9 843.7,1566.5 845.7,1568.2 847.7,1569.8 849.7,1571.5 851.7,1573.1 853.7,1574.8 855.7,1576.4 857.7,1578 859.7,1579.5 861.7,1581 863.7,1582.5 865.7,1583.9 867.7,1585.3 869.7,1586.6 871.7,1588 873.7,1589.2 875.7,1590.5 877.7,1591.7 879.7,1592.9 881.7,1594 883.7,1595.1 885.7,1596.2 887.7,1597.2 889.7,1598.2 891.7,1599.2 893.7,1600.1 895.7,1601 897.7,1601.9 899.7,1602.8 901.7,1603.6 903.7,1604.4 905.7,1605.2 907.7,1605.9 909.7,1606.6 911.7,1607.3 913.7,1608 915.7,1608.6 917.7,1609.3 919.7,1609.9 921.7,1610.4 923.7,1611 925.7,1611.5 927.7,1612 929.7,1612.5 931.7,1613 933.7,1613.4 935.7,1613.8 937.7,1614.3 939.7,1614.6 941.7,1615 943.7,1615.4 945.2,1615.6"/>
<path class="cv" stroke="#8C8C8C" d="M643.7,1703.6 645.7,1704.2 647.7,1704.7 649.7,1705.2 651.7,1705.6 653.7,1706 655.7,1706.3 657.7,1706.6 659.7,1706.8 661.7,1707 663.7,1707.2 665.7,1707.3 667.7,1707.5 669.7,1707.6 671.7,1707.6 673.7,1707.7 675.7,1707.8 677.7,1707.8 679.7,1707.9 681.7,1707.9 683.7,1707.9 685.7,1708 687.7,1708 689.7,1708 691.7,1708 693.7,1708 695.7,1708 697.7,1707.9 699.7,1707.9 701.7,1707.8 703.7,1707.7 705.7,1707.5 707.7,1707.4 709.7,1707.2 711.7,1707 713.7,1706.7 715.7,1706.4 717.7,1706.1 719.7,1705.7 721.7,1705.3 723.7,1704.8 725.7,1704.3 727.7,1703.7 729.7,1703 731.7,1702.2 733.7,1701.3 735.7,1700.2 737.7,1699.1 739.7,1697.8 741.7,1696.5 743.7,1695 745.7,1693.4 747.7,1691.8 749.7,1690.1 751.7,1688.3 753.7,1686.4 755.7,1684.5 757.7,1682.5 759.7,1680.5 761.7,1678.4 763.7,1676.3 765.7,1674.1 767.7,1672 769.7,1669.8 771.7,1667.7 773.7,1665.7 775.7,1663.8 777.7,1662.1 779.7,1660.5 781.7,1659 783.7,1657.6 785.7,1656.3 787.7,1655 789.7,1653.8 791.7,1652.4 793.7,1651 795.7,1649.5 797.7,1647.9 799.7,1646.2 801.7,1644.4 803.7,1642.4 805.7,1640.3 807.7,1638.3 809.7,1636.3 811.7,1634.3 813.7,1632.6 815.7,1631.1 817.7,1629.9 819.7,1629 821.7,1628.5 823.7,1628.2 825.7,1628.1 827.7,1628.3 829.7,1628.7 831.7,1629.3 833.7,1630 835.7,1630.9 837.7,1631.9 839.7,1633 841.7,1634.2 843.7,1635.4 845.7,1636.8 847.7,1638.1 849.7,1639.6 851.7,1641 853.7,1642.5 855.7,1644 857.7,1645.5 859.7,1646.9 861.7,1648.4 863.7,1649.8 865.7,1651.1 867.7,1652.4 869.7,1653.7 871.7,1654.9 873.7,1656 875.7,1657.2 877.7,1658.3 879.7,1659.4 881.7,1660.5 883.7,1661.5 885.7,1662.6 887.7,1663.7 889.7,1664.8 891.7,1665.9 893.7,1667.1 895.7,1668.2 897.7,1669.3 899.7,1670.4 901.7,1671.5 903.7,1672.5 905.7,1673.6 907.7,1674.6 909.7,1675.6 911.7,1676.5 913.7,1677.4 915.7,1678.3 917.7,1679.1 919.7,1679.8 921.7,1680.5 923.7,1681.2 925.7,1681.7 927.7,1682.2 929.7,1682.7 931.7,1683.1 933.7,1683.5 935.7,1683.9 937.7,1684.4 939.7,1685 941.7,1685.7 943.7,1686.6 945.2,1687.4"/>
<path class="ds" d="M756.8,787 V1706.3"/>
<text class="b lab" transform="translate(623.2 841.8) scale(1 1.03)">DMSO</text>
<text class="b lab" transform="translate(623.2 920.9) scale(1 1.015)">Ebselen</text>
<text class="b lab" transform="translate(625.9 1001.5) scale(1 1.02)">Cpd 1</text>
<text class="b lab" transform="translate(623.2 1079.1) scale(1 1.02)">Cpd 2</text>
<text class="b lab" transform="translate(623 1161.3) scale(1 1.02)">Cpd 3</text>
<text class="b lab" transform="translate(622.8 1239.8) scale(1 1.02)">Cpd 4</text>
<text class="b lab" transform="translate(623 1319.1) scale(1 1.02)">Cpd 5</text>
<text class="b lab" transform="translate(623 1398.8) scale(1 1.02)">Cpd 6</text>
<text class="b lab" transform="translate(622.8 1479.3) scale(1 1.02)">Cpd 7</text>
<text class="b lab" transform="translate(622.8 1557.8) scale(1 1.02)">Cpd 8</text>
<text class="b lab" transform="translate(622.8 1637.8) scale(1 1.02)">Cpd 9</text>
<text class="b lab" transform="translate(623.3 1717.6) scale(1 1.02)">Cpd 10</text>
<text class="b tk" transform="translate(641.6 1742.2) scale(1 1.03)">40</text>
<text class="b tk" transform="translate(703.5 1742.2) scale(1 1.03)">50</text>
<text class="b tk" transform="translate(763 1742.2) scale(1 1.03)">60</text>
<text class="b tk" transform="translate(824.4 1742.2) scale(1 1.03)">70</text>
<text class="b tk" transform="translate(883.8 1742.2) scale(1 1.03)">80</text>
<text class="b tk" transform="translate(945.8 1742.2) scale(1 1.03)">90</text>
<text class="b xt" transform="translate(794.8 1771.9) scale(1 1.015)">Temperature (<tspan font-size="17.6" dy="-9.4">o</tspan><tspan dy="9.4">C)</tspan></text>
</g>
<g id="panel-g" style="--k:1">
<path class="ax" d="M1154.3,748.2 V1715.2 M1146.7,1707.7 H1457.9 M1146.7,751.2 H1154.3 M1146.7,838.5 H1154.3 M1146.7,925.5 H1154.3 M1146.7,1012 H1154.3 M1146.7,1099.4 H1154.3 M1146.7,1186.2 H1154.3 M1146.7,1272.7 H1154.3 M1146.7,1359.9 H1154.3 M1146.7,1447.2 H1154.3 M1146.7,1533.5 H1154.3 M1146.7,1620.5 H1154.3 M1214.8,1707.7 V1715.2 M1275.2,1707.7 V1715.2 M1335.7,1707.7 V1715.2 M1396.1,1707.7 V1715.2 M1456.6,1707.7 V1715.2"/>
<path class="cv" stroke="#000000" d="M1154.9,797.4 1156.9,799.1 1158.9,800.7 1160.9,802.3 1162.9,803.8 1164.9,805.4 1166.9,806.8 1168.9,808.1 1170.9,809.4 1172.9,810.5 1174.9,811.5 1176.9,812.4 1178.9,813.1 1180.9,813.8 1182.9,814.3 1184.9,814.7 1186.9,815 1188.9,815.3 1190.9,815.5 1192.9,815.6 1194.9,815.8 1196.9,815.8 1198.9,815.9 1200.9,815.9 1202.9,816 1204.9,816 1206.9,816.1 1208.9,816.2 1210.9,816.4 1212.9,816.6 1214.9,816.9 1216.9,817.3 1218.9,817.8 1220.9,818.3 1222.9,819 1224.9,819.8 1226.9,820.6 1228.9,821.5 1230.9,822.4 1232.9,823.4 1234.9,824.3 1236.9,825.3 1238.9,826.2 1240.9,827.1 1242.9,828.1 1244.9,829 1246.9,829.9 1248.9,830.7 1250.9,831.6 1252.9,832.4 1254.9,833.1 1256.9,833.9 1258.9,834.6 1260.9,835.2 1262.9,835.8 1264.9,836.3 1266.9,836.8 1268.9,837.3 1270.9,837.6 1272.9,837.9 1274.9,838.2 1276.9,838.3 1278.9,838.4 1280.9,838.4 1282.9,838.4 1284.9,838.2 1286.9,838 1288.9,837.6 1290.9,837.3 1292.9,836.8 1294.9,836.3 1296.9,835.7 1298.9,835 1300.9,834.3 1302.9,833.5 1304.9,832.7 1306.9,831.8 1308.9,830.8 1310.9,829.8 1312.9,828.8 1314.9,827.7 1316.9,826.5 1318.9,825.3 1320.9,824 1322.9,822.6 1324.9,821.2 1326.9,819.6 1328.9,818 1330.9,816.2 1332.9,814.3 1334.9,812.3 1336.9,810.2 1338.9,807.9 1340.9,805.4 1342.9,802.8 1344.9,800.1 1346.9,797.1 1348.9,794 1350.9,790.7 1352.9,787.2 1354.9,783.5 1356.9,779.6 1358.9,775.6 1360.9,771.6 1362.9,767.7 1364.9,764.1 1366.9,760.8 1368.9,758 1370.9,755.6 1372.9,753.8 1374.9,752.4 1376.9,751.5 1378.9,751 1380.9,750.9 1382.9,751.1 1384.9,751.5 1386.9,752.1 1388.9,752.8 1390.9,753.5 1392.9,754.3 1394.9,755.1 1396.9,756 1398.9,756.9 1400.9,757.8 1402.9,758.7 1404.9,759.7 1406.9,760.7 1408.9,761.7 1410.9,762.8 1412.9,763.9 1414.9,765 1416.9,766.1 1418.9,767.2 1420.9,768.4 1422.9,769.5 1424.9,770.7 1426.9,771.9 1428.9,773.1 1430.9,774.3 1432.9,775.5 1434.9,776.7 1436.9,777.9 1438.9,779.1 1440.9,780.3 1442.9,781.5 1444.9,782.7 1446.9,783.8 1448.9,784.9 1450.9,786 1452.9,787.1 1454.9,788.2 1456.6,789.1"/>
<path class="cv" stroke="#EE0A70" d="M1154.9,924.1 1156.9,924.3 1158.9,924.5 1160.9,924.7 1162.9,924.8 1164.9,924.9 1166.9,925.1 1168.9,925.2 1170.9,925.3 1172.9,925.4 1174.9,925.4 1176.9,925.5 1178.9,925.6 1180.9,925.6 1182.9,925.6 1184.9,925.7 1186.9,925.7 1188.9,925.7 1190.9,925.7 1192.9,925.7 1194.9,925.7 1196.9,925.7 1198.9,925.7 1200.9,925.7 1202.9,925.6 1204.9,925.6 1206.9,925.6 1208.9,925.6 1210.9,925.5 1212.9,925.5 1214.9,925.5 1216.9,925.4 1218.9,925.4 1220.9,925.4 1222.9,925.3 1224.9,925.3 1226.9,925.3 1228.9,925.2 1230.9,925.2 1232.9,925.2 1234.9,925.1 1236.9,925.1 1238.9,925.1 1240.9,925 1242.9,925 1244.9,924.9 1246.9,924.9 1248.9,924.8 1250.9,924.7 1252.9,924.6 1254.9,924.5 1256.9,924.4 1258.9,924.3 1260.9,924.2 1262.9,924 1264.9,923.9 1266.9,923.7 1268.9,923.5 1270.9,923.3 1272.9,923.1 1274.9,922.8 1276.9,922.6 1278.9,922.3 1280.9,922 1282.9,921.7 1284.9,921.3 1286.9,921 1288.9,920.6 1290.9,920.2 1292.9,919.7 1294.9,919.2 1296.9,918.7 1298.9,918.2 1300.9,917.6 1302.9,916.9 1304.9,916.2 1306.9,915.5 1308.9,914.6 1310.9,913.8 1312.9,912.8 1314.9,911.8 1316.9,910.8 1318.9,909.7 1320.9,908.4 1322.9,907.2 1324.9,905.8 1326.9,904.3 1328.9,902.8 1330.9,901.2 1332.9,899.4 1334.9,897.6 1336.9,895.7 1338.9,893.7 1340.9,891.5 1342.9,889.3 1344.9,887 1346.9,884.5 1348.9,881.9 1350.9,879.2 1352.9,876.4 1354.9,873.4 1356.9,870.3 1358.9,867.1 1360.9,863.6 1362.9,860 1364.9,856.2 1366.9,852.5 1368.9,849 1370.9,845.8 1372.9,843.1 1374.9,841 1376.9,839.6 1378.9,838.9 1380.9,838.9 1382.9,839.4 1384.9,840.6 1386.9,842.2 1388.9,844.3 1390.9,846.7 1392.9,849.1 1394.9,851.4 1396.9,853.7 1398.9,855.9 1400.9,858 1402.9,860 1404.9,862 1406.9,863.9 1408.9,865.8 1410.9,867.6 1412.9,869.3 1414.9,871 1416.9,872.6 1418.9,874.2 1420.9,875.7 1422.9,877.2 1424.9,878.6 1426.9,880 1428.9,881.4 1430.9,882.7 1432.9,884 1434.9,885.2 1436.9,886.4 1438.9,887.6 1440.9,888.8 1442.9,889.9 1444.9,891 1446.9,892.1 1448.9,893.2 1450.9,894.2 1452.9,895.3 1454.9,896.3 1456.6,897.2"/>
<path class="cv" stroke="#964100" d="M1154.9,1007.8 1156.9,1008 1158.9,1008.1 1160.9,1008.2 1162.9,1008.3 1164.9,1008.4 1166.9,1008.5 1168.9,1008.6 1170.9,1008.7 1172.9,1008.8 1174.9,1008.8 1176.9,1008.9 1178.9,1009 1180.9,1009 1182.9,1009.1 1184.9,1009.1 1186.9,1009.2 1188.9,1009.2 1190.9,1009.2 1192.9,1009.3 1194.9,1009.3 1196.9,1009.4 1198.9,1009.4 1200.9,1009.5 1202.9,1009.5 1204.9,1009.6 1206.9,1009.7 1208.9,1009.7 1210.9,1009.8 1212.9,1009.9 1214.9,1010 1216.9,1010.1 1218.9,1010.2 1220.9,1010.3 1222.9,1010.5 1224.9,1010.6 1226.9,1010.8 1228.9,1010.9 1230.9,1011.1 1232.9,1011.3 1234.9,1011.5 1236.9,1011.7 1238.9,1011.9 1240.9,1012.1 1242.9,1012.3 1244.9,1012.5 1246.9,1012.7 1248.9,1012.9 1250.9,1013 1252.9,1013.2 1254.9,1013.4 1256.9,1013.5 1258.9,1013.7 1260.9,1013.8 1262.9,1013.9 1264.9,1014 1266.9,1014.1 1268.9,1014.2 1270.9,1014.2 1272.9,1014.2 1274.9,1014.2 1276.9,1014.1 1278.9,1014 1280.9,1013.9 1282.9,1013.8 1284.9,1013.7 1286.9,1013.5 1288.9,1013.3 1290.9,1013.2 1292.9,1013 1294.9,1012.7 1296.9,1012.5 1298.9,1012.3 1300.9,1012.1 1302.9,1011.8 1304.9,1011.6 1306.9,1011.4 1308.9,1011.1 1310.9,1010.9 1312.9,1010.7 1314.9,1010.4 1316.9,1010.1 1318.9,1009.8 1320.9,1009.5 1322.9,1009.1 1324.9,1008.7 1326.9,1008.2 1328.9,1007.7 1330.9,1007.1 1332.9,1006.5 1334.9,1005.8 1336.9,1005.1 1338.9,1004.1 1340.9,1003 1342.9,1001.7 1344.9,1000.1 1346.9,998.2 1348.9,996 1350.9,993.3 1352.9,990.3 1354.9,986.8 1356.9,982.7 1358.9,978.3 1360.9,973.3 1362.9,968 1364.9,962.2 1366.9,956.1 1368.9,949.7 1370.9,943.4 1372.9,937.8 1374.9,933.4 1376.9,930.1 1378.9,927.8 1380.9,926.2 1382.9,925.4 1384.9,925.3 1386.9,926 1388.9,927.5 1390.9,929.4 1392.9,931.6 1394.9,933.6 1396.9,935.6 1398.9,937.5 1400.9,939.4 1402.9,941.1 1404.9,942.9 1406.9,944.5 1408.9,946.1 1410.9,947.6 1412.9,949.1 1414.9,950.6 1416.9,952.1 1418.9,953.5 1420.9,954.9 1422.9,956.3 1424.9,957.7 1426.9,959.1 1428.9,960.4 1430.9,961.8 1432.9,963.1 1434.9,964.4 1436.9,965.7 1438.9,966.9 1440.9,968.1 1442.9,969.3 1444.9,970.4 1446.9,971.6 1448.9,972.6 1450.9,973.7 1452.9,974.7 1454.9,975.6 1456.6,976.4"/>
<path class="cv" stroke="#F59AE8" d="M1154.9,1062.6 1156.9,1063.6 1158.9,1064.5 1160.9,1065.2 1162.9,1065.8 1164.9,1066.3 1166.9,1066.8 1168.9,1067.1 1170.9,1067.3 1172.9,1067.5 1174.9,1067.6 1176.9,1067.7 1178.9,1067.7 1180.9,1067.7 1182.9,1067.7 1184.9,1067.6 1186.9,1067.6 1188.9,1067.5 1190.9,1067.5 1192.9,1067.5 1194.9,1067.5 1196.9,1067.5 1198.9,1067.6 1200.9,1067.7 1202.9,1068 1204.9,1068.2 1206.9,1068.6 1208.9,1069 1210.9,1069.5 1212.9,1070 1214.9,1070.6 1216.9,1071.3 1218.9,1071.9 1220.9,1072.7 1222.9,1073.5 1224.9,1074.3 1226.9,1075.1 1228.9,1076 1230.9,1076.9 1232.9,1077.8 1234.9,1078.8 1236.9,1079.7 1238.9,1080.7 1240.9,1081.7 1242.9,1082.6 1244.9,1083.6 1246.9,1084.6 1248.9,1085.6 1250.9,1086.5 1252.9,1087.5 1254.9,1088.4 1256.9,1089.3 1258.9,1090.2 1260.9,1091 1262.9,1091.9 1264.9,1092.7 1266.9,1093.5 1268.9,1094.2 1270.9,1094.9 1272.9,1095.6 1274.9,1096.2 1276.9,1096.8 1278.9,1097.3 1280.9,1097.8 1282.9,1098.2 1284.9,1098.6 1286.9,1098.9 1288.9,1099.2 1290.9,1099.4 1292.9,1099.5 1294.9,1099.6 1296.9,1099.6 1298.9,1099.6 1300.9,1099.4 1302.9,1099.2 1304.9,1099 1306.9,1098.6 1308.9,1098.2 1310.9,1097.7 1312.9,1097.1 1314.9,1096.5 1316.9,1095.8 1318.9,1095 1320.9,1094.1 1322.9,1093.2 1324.9,1092.1 1326.9,1091 1328.9,1089.8 1330.9,1088.6 1332.9,1087.2 1334.9,1085.6 1336.9,1083.9 1338.9,1081.9 1340.9,1079.6 1342.9,1076.9 1344.9,1073.9 1346.9,1070.4 1348.9,1066.4 1350.9,1062.1 1352.9,1057.5 1354.9,1052.7 1356.9,1047.8 1358.9,1043 1360.9,1038.2 1362.9,1033.6 1364.9,1029.3 1366.9,1025.4 1368.9,1021.8 1370.9,1018.8 1372.9,1016.3 1374.9,1014.4 1376.9,1013.1 1378.9,1012.4 1380.9,1012.1 1382.9,1012.4 1384.9,1013 1386.9,1014.1 1388.9,1015.4 1390.9,1016.9 1392.9,1018.6 1394.9,1020.5 1396.9,1022.4 1398.9,1024.2 1400.9,1026.1 1402.9,1027.9 1404.9,1029.8 1406.9,1031.8 1408.9,1033.8 1410.9,1035.9 1412.9,1038 1414.9,1040.3 1416.9,1042.7 1418.9,1045 1420.9,1047.4 1422.9,1049.9 1424.9,1052.3 1426.9,1054.7 1428.9,1057 1430.9,1059.3 1432.9,1061.5 1434.9,1063.7 1436.9,1065.8 1438.9,1067.8 1440.9,1069.7 1442.9,1071.5 1444.9,1073.1 1446.9,1074.7 1448.9,1076.1 1450.9,1077.4 1452.9,1078.5 1454.9,1079.4 1456.6,1080"/>
<path class="cv" stroke="#FFFF00" d="M1154.9,1100.6 1156.9,1101.6 1158.9,1102.5 1160.9,1103.4 1162.9,1104.3 1164.9,1105.1 1166.9,1105.9 1168.9,1106.7 1170.9,1107.4 1172.9,1108.1 1174.9,1108.9 1176.9,1109.6 1178.9,1110.3 1180.9,1111 1182.9,1111.7 1184.9,1112.4 1186.9,1113.1 1188.9,1113.8 1190.9,1114.5 1192.9,1115.2 1194.9,1115.9 1196.9,1116.7 1198.9,1117.5 1200.9,1118.3 1202.9,1119.1 1204.9,1119.9 1206.9,1120.8 1208.9,1121.7 1210.9,1122.7 1212.9,1123.7 1214.9,1124.7 1216.9,1125.8 1218.9,1126.9 1220.9,1128.1 1222.9,1129.3 1224.9,1130.6 1226.9,1132 1228.9,1133.4 1230.9,1134.8 1232.9,1136.2 1234.9,1137.7 1236.9,1139.2 1238.9,1140.7 1240.9,1142.2 1242.9,1143.7 1244.9,1145.2 1246.9,1146.7 1248.9,1148.2 1250.9,1149.6 1252.9,1151 1254.9,1152.4 1256.9,1153.7 1258.9,1154.9 1260.9,1156.1 1262.9,1157.3 1264.9,1158.4 1266.9,1159.4 1268.9,1160.3 1270.9,1161.3 1272.9,1162.1 1274.9,1162.9 1276.9,1163.6 1278.9,1164.3 1280.9,1164.9 1282.9,1165.5 1284.9,1166 1286.9,1166.4 1288.9,1166.8 1290.9,1167.2 1292.9,1167.5 1294.9,1167.7 1296.9,1167.9 1298.9,1168 1300.9,1168.1 1302.9,1168.1 1304.9,1168.1 1306.9,1168 1308.9,1167.9 1310.9,1167.7 1312.9,1167.4 1314.9,1167.2 1316.9,1166.8 1318.9,1166.5 1320.9,1166 1322.9,1165.5 1324.9,1165 1326.9,1164.4 1328.9,1163.8 1330.9,1163.1 1332.9,1162.4 1334.9,1161.6 1336.9,1160.7 1338.9,1159.7 1340.9,1158.6 1342.9,1157.4 1344.9,1156.1 1346.9,1154.6 1348.9,1153 1350.9,1151.3 1352.9,1149.4 1354.9,1147.4 1356.9,1145.2 1358.9,1142.9 1360.9,1140.7 1362.9,1138.5 1364.9,1136.5 1366.9,1134.8 1368.9,1133.4 1370.9,1132.4 1372.9,1131.8 1374.9,1131.4 1376.9,1131.3 1378.9,1131.3 1380.9,1131.5 1382.9,1131.8 1384.9,1132.2 1386.9,1132.7 1388.9,1133.4 1390.9,1134.1 1392.9,1134.9 1394.9,1135.8 1396.9,1136.7 1398.9,1137.7 1400.9,1138.7 1402.9,1139.8 1404.9,1140.9 1406.9,1142 1408.9,1143.1 1410.9,1144.2 1412.9,1145.3 1414.9,1146.4 1416.9,1147.5 1418.9,1148.6 1420.9,1149.7 1422.9,1150.8 1424.9,1151.9 1426.9,1153 1428.9,1154.2 1430.9,1155.3 1432.9,1156.4 1434.9,1157.5 1436.9,1158.7 1438.9,1159.8 1440.9,1161 1442.9,1162.1 1444.9,1163.3 1446.9,1164.4 1448.9,1165.6 1450.9,1166.7 1452.9,1167.9 1454.9,1169.1 1456.6,1170.1"/>
<path class="cv" stroke="#4040FF" d="M1154.9,1226.9 1156.9,1229 1158.9,1231 1160.9,1232.9 1162.9,1234.7 1164.9,1236.3 1166.9,1237.8 1168.9,1239.1 1170.9,1240.2 1172.9,1241.2 1174.9,1241.9 1176.9,1242.5 1178.9,1242.8 1180.9,1242.8 1182.9,1242.7 1184.9,1242.4 1186.9,1242 1188.9,1241.4 1190.9,1240.7 1192.9,1239.9 1194.9,1239 1196.9,1238.1 1198.9,1237.3 1200.9,1236.4 1202.9,1235.6 1204.9,1235 1206.9,1234.6 1208.9,1234.3 1210.9,1234.3 1212.9,1234.7 1214.9,1235.3 1216.9,1236.2 1218.9,1237.3 1220.9,1238.8 1222.9,1240.3 1224.9,1242 1226.9,1243.6 1228.9,1245.1 1230.9,1246.6 1232.9,1247.9 1234.9,1249.3 1236.9,1250.5 1238.9,1251.8 1240.9,1253 1242.9,1254.1 1244.9,1255.2 1246.9,1256.3 1248.9,1257.4 1250.9,1258.4 1252.9,1259.5 1254.9,1260.5 1256.9,1261.5 1258.9,1262.6 1260.9,1263.6 1262.9,1264.7 1264.9,1265.7 1266.9,1266.8 1268.9,1267.7 1270.9,1268.7 1272.9,1269.6 1274.9,1270.4 1276.9,1271.1 1278.9,1271.7 1280.9,1272.2 1282.9,1272.6 1284.9,1272.9 1286.9,1273.1 1288.9,1273.1 1290.9,1273.1 1292.9,1273 1294.9,1272.8 1296.9,1272.5 1298.9,1272.1 1300.9,1271.7 1302.9,1271.2 1304.9,1270.7 1306.9,1270 1308.9,1269.4 1310.9,1268.7 1312.9,1267.9 1314.9,1267.1 1316.9,1266.3 1318.9,1265.5 1320.9,1264.6 1322.9,1263.6 1324.9,1262.5 1326.9,1261.3 1328.9,1259.9 1330.9,1258.3 1332.9,1256.5 1334.9,1254.5 1336.9,1252.3 1338.9,1249.7 1340.9,1246.8 1342.9,1243.6 1344.9,1240 1346.9,1236 1348.9,1231.5 1350.9,1226.6 1352.9,1221.5 1354.9,1216.4 1356.9,1211.4 1358.9,1206.5 1360.9,1201.9 1362.9,1197.7 1364.9,1194.1 1366.9,1191.2 1368.9,1189 1370.9,1187.5 1372.9,1186.5 1374.9,1186.2 1376.9,1186.3 1378.9,1186.8 1380.9,1187.7 1382.9,1188.9 1384.9,1190.3 1386.9,1191.9 1388.9,1193.6 1390.9,1195.4 1392.9,1197.1 1394.9,1198.7 1396.9,1200.3 1398.9,1201.8 1400.9,1203.3 1402.9,1204.7 1404.9,1206.1 1406.9,1207.5 1408.9,1208.9 1410.9,1210.2 1412.9,1211.6 1414.9,1212.9 1416.9,1214.3 1418.9,1215.7 1420.9,1217.2 1422.9,1218.6 1424.9,1220 1426.9,1221.4 1428.9,1222.7 1430.9,1224 1432.9,1225.2 1434.9,1226.2 1436.9,1227.2 1438.9,1228 1440.9,1228.6 1442.9,1229.1 1444.9,1229.5 1446.9,1229.9 1448.9,1230.2 1450.9,1230.5 1452.9,1230.9 1454.9,1231.2 1456.6,1231.6"/>
<path class="cv" stroke="#00FFFF" d="M1154.9,1337.8 1156.9,1338.5 1158.9,1339.1 1160.9,1339.7 1162.9,1340.2 1164.9,1340.6 1166.9,1340.9 1168.9,1341.2 1170.9,1341.5 1172.9,1341.7 1174.9,1341.9 1176.9,1342 1178.9,1342.2 1180.9,1342.3 1182.9,1342.3 1184.9,1342.4 1186.9,1342.5 1188.9,1342.5 1190.9,1342.6 1192.9,1342.6 1194.9,1342.7 1196.9,1342.8 1198.9,1342.9 1200.9,1343.1 1202.9,1343.3 1204.9,1343.5 1206.9,1343.8 1208.9,1344.1 1210.9,1344.4 1212.9,1344.8 1214.9,1345.3 1216.9,1345.7 1218.9,1346.2 1220.9,1346.8 1222.9,1347.3 1224.9,1347.9 1226.9,1348.5 1228.9,1349.1 1230.9,1349.7 1232.9,1350.3 1234.9,1350.9 1236.9,1351.5 1238.9,1352.2 1240.9,1352.8 1242.9,1353.4 1244.9,1354 1246.9,1354.6 1248.9,1355.2 1250.9,1355.7 1252.9,1356.2 1254.9,1356.7 1256.9,1357.2 1258.9,1357.6 1260.9,1358 1262.9,1358.4 1264.9,1358.7 1266.9,1359 1268.9,1359.2 1270.9,1359.4 1272.9,1359.6 1274.9,1359.7 1276.9,1359.7 1278.9,1359.8 1280.9,1359.7 1282.9,1359.6 1284.9,1359.5 1286.9,1359.3 1288.9,1359.1 1290.9,1358.8 1292.9,1358.4 1294.9,1358 1296.9,1357.6 1298.9,1357 1300.9,1356.5 1302.9,1355.8 1304.9,1355.1 1306.9,1354.3 1308.9,1353.5 1310.9,1352.7 1312.9,1351.8 1314.9,1350.8 1316.9,1349.9 1318.9,1348.9 1320.9,1347.9 1322.9,1346.9 1324.9,1345.9 1326.9,1344.8 1328.9,1343.7 1330.9,1342.6 1332.9,1341.3 1334.9,1339.9 1336.9,1338.2 1338.9,1336.3 1340.9,1334.2 1342.9,1331.8 1344.9,1329.1 1346.9,1326.1 1348.9,1322.7 1350.9,1319.1 1352.9,1315 1354.9,1310.6 1356.9,1306 1358.9,1301.3 1360.9,1296.6 1362.9,1292.1 1364.9,1287.9 1366.9,1284.2 1368.9,1281 1370.9,1278.4 1372.9,1276.3 1374.9,1274.7 1376.9,1273.7 1378.9,1273.2 1380.9,1273.2 1382.9,1273.6 1384.9,1274.3 1386.9,1275.3 1388.9,1276.4 1390.9,1277.7 1392.9,1279 1394.9,1280.4 1396.9,1281.9 1398.9,1283.4 1400.9,1284.9 1402.9,1286.4 1404.9,1287.9 1406.9,1289.4 1408.9,1290.8 1410.9,1292.1 1412.9,1293.4 1414.9,1294.6 1416.9,1295.7 1418.9,1296.8 1420.9,1297.9 1422.9,1298.9 1424.9,1299.8 1426.9,1300.8 1428.9,1301.7 1430.9,1302.5 1432.9,1303.4 1434.9,1304.2 1436.9,1305 1438.9,1305.8 1440.9,1306.5 1442.9,1307.1 1444.9,1307.7 1446.9,1308.1 1448.9,1308.5 1450.9,1308.7 1452.9,1308.8 1454.9,1308.8 1456.6,1308.7"/>
<path class="cv" stroke="#FF6A00" d="M1154.9,1410.9 1156.9,1411.9 1158.9,1412.9 1160.9,1413.9 1162.9,1414.7 1164.9,1415.5 1166.9,1416.3 1168.9,1417 1170.9,1417.7 1172.9,1418.3 1174.9,1418.9 1176.9,1419.4 1178.9,1419.9 1180.9,1420.4 1182.9,1420.8 1184.9,1421.2 1186.9,1421.6 1188.9,1421.9 1190.9,1422.2 1192.9,1422.5 1194.9,1422.8 1196.9,1423.1 1198.9,1423.3 1200.9,1423.6 1202.9,1423.8 1204.9,1424.1 1206.9,1424.4 1208.9,1424.6 1210.9,1425 1212.9,1425.3 1214.9,1425.7 1216.9,1426.1 1218.9,1426.6 1220.9,1427.2 1222.9,1427.8 1224.9,1428.4 1226.9,1429 1228.9,1429.7 1230.9,1430.5 1232.9,1431.2 1234.9,1432 1236.9,1432.8 1238.9,1433.6 1240.9,1434.5 1242.9,1435.3 1244.9,1436.2 1246.9,1437 1248.9,1437.9 1250.9,1438.7 1252.9,1439.5 1254.9,1440.4 1256.9,1441.1 1258.9,1441.9 1260.9,1442.6 1262.9,1443.3 1264.9,1444 1266.9,1444.6 1268.9,1445.1 1270.9,1445.6 1272.9,1446 1274.9,1446.4 1276.9,1446.7 1278.9,1446.9 1280.9,1447.1 1282.9,1447.1 1284.9,1447.1 1286.9,1447 1288.9,1446.8 1290.9,1446.5 1292.9,1446.2 1294.9,1445.8 1296.9,1445.3 1298.9,1444.8 1300.9,1444.2 1302.9,1443.5 1304.9,1442.9 1306.9,1442.1 1308.9,1441.3 1310.9,1440.5 1312.9,1439.6 1314.9,1438.7 1316.9,1437.7 1318.9,1436.6 1320.9,1435.5 1322.9,1434.2 1324.9,1433 1326.9,1431.6 1328.9,1430.1 1330.9,1428.5 1332.9,1426.8 1334.9,1424.9 1336.9,1422.8 1338.9,1420.5 1340.9,1418 1342.9,1415.2 1344.9,1412.2 1346.9,1408.9 1348.9,1405.2 1350.9,1401.2 1352.9,1397 1354.9,1392.5 1356.9,1387.9 1358.9,1383.3 1360.9,1378.9 1362.9,1374.7 1364.9,1370.8 1366.9,1367.4 1368.9,1364.6 1370.9,1362.5 1372.9,1361.2 1374.9,1360.5 1376.9,1360.5 1378.9,1361 1380.9,1361.9 1382.9,1363.1 1384.9,1364.7 1386.9,1366.4 1388.9,1368.4 1390.9,1370.5 1392.9,1372.8 1394.9,1375.1 1396.9,1377.5 1398.9,1379.8 1400.9,1382.1 1402.9,1384.4 1404.9,1386.6 1406.9,1388.7 1408.9,1390.8 1410.9,1392.9 1412.9,1394.9 1414.9,1396.9 1416.9,1398.8 1418.9,1400.7 1420.9,1402.6 1422.9,1404.4 1424.9,1406.2 1426.9,1408 1428.9,1409.7 1430.9,1411.3 1432.9,1412.9 1434.9,1414.5 1436.9,1416 1438.9,1417.4 1440.9,1418.7 1442.9,1420 1444.9,1421.2 1446.9,1422.3 1448.9,1423.3 1450.9,1424.2 1452.9,1425 1454.9,1425.7 1456.6,1426.2"/>
<path class="cv" stroke="#00AE00" d="M1154.9,1532.4 1156.9,1532.7 1158.9,1533 1160.9,1533.2 1162.9,1533.4 1164.9,1533.6 1166.9,1533.7 1168.9,1533.8 1170.9,1533.9 1172.9,1533.9 1174.9,1534 1176.9,1534 1178.9,1534 1180.9,1534 1182.9,1533.9 1184.9,1533.8 1186.9,1533.8 1188.9,1533.7 1190.9,1533.6 1192.9,1533.5 1194.9,1533.4 1196.9,1533.3 1198.9,1533.2 1200.9,1533.1 1202.9,1533 1204.9,1532.9 1206.9,1532.8 1208.9,1532.7 1210.9,1532.7 1212.9,1532.6 1214.9,1532.6 1216.9,1532.5 1218.9,1532.5 1220.9,1532.5 1222.9,1532.6 1224.9,1532.6 1226.9,1532.7 1228.9,1532.7 1230.9,1532.8 1232.9,1532.9 1234.9,1533 1236.9,1533.1 1238.9,1533.2 1240.9,1533.3 1242.9,1533.3 1244.9,1533.4 1246.9,1533.5 1248.9,1533.5 1250.9,1533.6 1252.9,1533.6 1254.9,1533.6 1256.9,1533.6 1258.9,1533.6 1260.9,1533.5 1262.9,1533.4 1264.9,1533.3 1266.9,1533.2 1268.9,1533 1270.9,1532.8 1272.9,1532.6 1274.9,1532.3 1276.9,1532 1278.9,1531.6 1280.9,1531.2 1282.9,1530.8 1284.9,1530.3 1286.9,1529.8 1288.9,1529.3 1290.9,1528.7 1292.9,1528.1 1294.9,1527.5 1296.9,1526.8 1298.9,1526.1 1300.9,1525.4 1302.9,1524.6 1304.9,1523.9 1306.9,1523.1 1308.9,1522.3 1310.9,1521.4 1312.9,1520.5 1314.9,1519.7 1316.9,1518.7 1318.9,1517.8 1320.9,1516.8 1322.9,1515.7 1324.9,1514.6 1326.9,1513.5 1328.9,1512.3 1330.9,1511 1332.9,1509.7 1334.9,1508.2 1336.9,1506.8 1338.9,1505.2 1340.9,1503.4 1342.9,1501.5 1344.9,1499.3 1346.9,1496.8 1348.9,1494 1350.9,1490.9 1352.9,1487.5 1354.9,1483.9 1356.9,1480.1 1358.9,1476.2 1360.9,1472.2 1362.9,1468.1 1364.9,1464.1 1366.9,1460.4 1368.9,1457 1370.9,1454.1 1372.9,1451.7 1374.9,1449.7 1376.9,1448.4 1378.9,1447.5 1380.9,1447.3 1382.9,1447.6 1384.9,1448.4 1386.9,1449.6 1388.9,1451.2 1390.9,1452.9 1392.9,1454.9 1394.9,1457 1396.9,1459.2 1398.9,1461.4 1400.9,1463.6 1402.9,1465.7 1404.9,1467.8 1406.9,1469.7 1408.9,1471.5 1410.9,1473.1 1412.9,1474.8 1414.9,1476.3 1416.9,1477.9 1418.9,1479.4 1420.9,1480.9 1422.9,1482.5 1424.9,1484 1426.9,1485.5 1428.9,1487 1430.9,1488.4 1432.9,1489.9 1434.9,1491.3 1436.9,1492.7 1438.9,1494.1 1440.9,1495.4 1442.9,1496.7 1444.9,1498 1446.9,1499.2 1448.9,1500.3 1450.9,1501.5 1452.9,1502.5 1454.9,1503.5 1456.6,1504.3"/>
<path class="cv" stroke="#8CFF8C" d="M1154.9,1610.3 1156.9,1610.4 1158.9,1610.6 1160.9,1610.8 1162.9,1611 1164.9,1611.2 1166.9,1611.5 1168.9,1611.6 1170.9,1611.8 1172.9,1611.8 1174.9,1611.6 1176.9,1611.4 1178.9,1611.1 1180.9,1610.7 1182.9,1610.3 1184.9,1609.9 1186.9,1609.4 1188.9,1608.9 1190.9,1608.5 1192.9,1608.1 1194.9,1607.8 1196.9,1607.6 1198.9,1607.4 1200.9,1607.3 1202.9,1607.3 1204.9,1607.4 1206.9,1607.5 1208.9,1607.7 1210.9,1607.9 1212.9,1608.2 1214.9,1608.5 1216.9,1608.9 1218.9,1609.2 1220.9,1609.7 1222.9,1610.1 1224.9,1610.6 1226.9,1611.1 1228.9,1611.6 1230.9,1612.1 1232.9,1612.6 1234.9,1613.1 1236.9,1613.6 1238.9,1614.1 1240.9,1614.6 1242.9,1615.1 1244.9,1615.5 1246.9,1616 1248.9,1616.4 1250.9,1616.8 1252.9,1617.1 1254.9,1617.5 1256.9,1617.8 1258.9,1618.1 1260.9,1618.4 1262.9,1618.7 1264.9,1619 1266.9,1619.2 1268.9,1619.5 1270.9,1619.7 1272.9,1619.9 1274.9,1620.1 1276.9,1620.3 1278.9,1620.4 1280.9,1620.6 1282.9,1620.7 1284.9,1620.8 1286.9,1620.9 1288.9,1621 1290.9,1621.1 1292.9,1621.1 1294.9,1621.2 1296.9,1621.2 1298.9,1621.3 1300.9,1621.3 1302.9,1621.3 1304.9,1621.3 1306.9,1621.3 1308.9,1621.3 1310.9,1621.2 1312.9,1621.2 1314.9,1621.1 1316.9,1621 1318.9,1620.8 1320.9,1620.6 1322.9,1620.4 1324.9,1620.1 1326.9,1619.8 1328.9,1619.4 1330.9,1619 1332.9,1618.5 1334.9,1618 1336.9,1617.3 1338.9,1616.6 1340.9,1615.8 1342.9,1614.9 1344.9,1613.7 1346.9,1612.2 1348.9,1610.3 1350.9,1608.1 1352.9,1605.3 1354.9,1602.1 1356.9,1598.2 1358.9,1593.6 1360.9,1588.4 1362.9,1582.6 1364.9,1576.3 1366.9,1569.8 1368.9,1563.2 1370.9,1556.8 1372.9,1550.8 1374.9,1545.4 1376.9,1541 1378.9,1537.6 1380.9,1535.1 1382.9,1533.7 1384.9,1533.3 1386.9,1533.9 1388.9,1535.2 1390.9,1537.2 1392.9,1539.7 1394.9,1542.3 1396.9,1544.9 1398.9,1547.5 1400.9,1550 1402.9,1552.4 1404.9,1554.7 1406.9,1557 1408.9,1559.1 1410.9,1561.2 1412.9,1563.1 1414.9,1565 1416.9,1566.8 1418.9,1568.5 1420.9,1570.2 1422.9,1571.7 1424.9,1573.2 1426.9,1574.6 1428.9,1575.9 1430.9,1577.2 1432.9,1578.4 1434.9,1579.6 1436.9,1580.7 1438.9,1581.8 1440.9,1582.8 1442.9,1583.8 1444.9,1584.7 1446.9,1585.6 1448.9,1586.5 1450.9,1587.4 1452.9,1588.2 1454.9,1589 1456.6,1589.7"/>
<path class="cv" stroke="#B540DC" d="M1154.9,1698.3 1156.9,1698.6 1158.9,1698.9 1160.9,1699.2 1162.9,1699.4 1164.9,1699.6 1166.9,1699.8 1168.9,1700 1170.9,1700.1 1172.9,1700.3 1174.9,1700.4 1176.9,1700.5 1178.9,1700.6 1180.9,1700.7 1182.9,1700.8 1184.9,1700.8 1186.9,1700.9 1188.9,1701 1190.9,1701 1192.9,1701.1 1194.9,1701.2 1196.9,1701.2 1198.9,1701.3 1200.9,1701.4 1202.9,1701.5 1204.9,1701.6 1206.9,1701.7 1208.9,1701.9 1210.9,1702 1212.9,1702.2 1214.9,1702.4 1216.9,1702.5 1218.9,1702.7 1220.9,1702.9 1222.9,1703.2 1224.9,1703.4 1226.9,1703.6 1228.9,1703.8 1230.9,1704.1 1232.9,1704.3 1234.9,1704.5 1236.9,1704.8 1238.9,1705 1240.9,1705.2 1242.9,1705.5 1244.9,1705.7 1246.9,1705.9 1248.9,1706.1 1250.9,1706.3 1252.9,1706.5 1254.9,1706.7 1256.9,1706.9 1258.9,1707 1260.9,1707.2 1262.9,1707.3 1264.9,1707.4 1266.9,1707.5 1268.9,1707.6 1270.9,1707.7 1272.9,1707.8 1274.9,1707.8 1276.9,1707.9 1278.9,1707.9 1280.9,1707.9 1282.9,1707.9 1284.9,1707.9 1286.9,1707.9 1288.9,1707.8 1290.9,1707.8 1292.9,1707.7 1294.9,1707.6 1296.9,1707.6 1298.9,1707.5 1300.9,1707.4 1302.9,1707.3 1304.9,1707.1 1306.9,1707 1308.9,1706.9 1310.9,1706.7 1312.9,1706.6 1314.9,1706.4 1316.9,1706.3 1318.9,1706.1 1320.9,1705.9 1322.9,1705.8 1324.9,1705.6 1326.9,1705.4 1328.9,1705.2 1330.9,1704.9 1332.9,1704.6 1334.9,1704.2 1336.9,1703.7 1338.9,1703.1 1340.9,1702.3 1342.9,1701.2 1344.9,1700 1346.9,1698.5 1348.9,1696.7 1350.9,1694.3 1352.9,1691.1 1354.9,1687 1356.9,1682.1 1358.9,1676.3 1360.9,1669.9 1362.9,1663.1 1364.9,1655.8 1366.9,1648.6 1368.9,1641.6 1370.9,1635.2 1372.9,1629.7 1374.9,1625.5 1376.9,1622.6 1378.9,1621 1380.9,1620.7 1382.9,1621.7 1384.9,1623.7 1386.9,1626.5 1388.9,1629.8 1390.9,1633.3 1392.9,1636.8 1394.9,1640.1 1396.9,1643.2 1398.9,1645.9 1400.9,1648.4 1402.9,1650.6 1404.9,1652.6 1406.9,1654.3 1408.9,1655.9 1410.9,1657.4 1412.9,1658.8 1414.9,1660.1 1416.9,1661.3 1418.9,1662.5 1420.9,1663.7 1422.9,1664.8 1424.9,1666 1426.9,1667.1 1428.9,1668.1 1430.9,1669.2 1432.9,1670.2 1434.9,1671.2 1436.9,1672.2 1438.9,1673.2 1440.9,1674.2 1442.9,1675.1 1444.9,1676.1 1446.9,1677 1448.9,1678 1450.9,1678.9 1452.9,1679.9 1454.9,1680.8 1456.6,1681.6"/>
<path class="ds" d="M1346.3,799.4 V1706.4"/>
<text class="b lab" transform="translate(1134.1 848.6) scale(1 1.03)">DMSO</text>
<text class="b lab" transform="translate(1133.7 932.1) scale(1 1.015)">Ebsulphur</text>
<text class="b lab" transform="translate(1134 1022.6) scale(1 1.02)">Cpd 12</text>
<text class="b lab" transform="translate(1134.1 1110.1) scale(1 1.02)">Cpd 13</text>
<text class="b lab" transform="translate(1134 1194.3) scale(1 1.02)">Cpd 14</text>
<text class="b lab" transform="translate(1134 1281.3) scale(1 1.02)">Cpd 15</text>
<text class="b lab" transform="translate(1134.4 1369.1) scale(1 1.02)">Cpd 16</text>
<text class="b lab" transform="translate(1134.4 1457) scale(1 1.02)">Cpd 17</text>
<text class="b lab" transform="translate(1134.4 1543.1) scale(1 1.02)">Cpd 18</text>
<text class="b lab" transform="translate(1134.1 1629.1) scale(1 1.02)">Cpd 19</text>
<text class="b lab" transform="translate(1134.4 1717.5) scale(1 1.02)">Cpd 20</text>
<text class="b tk" transform="translate(1153.6 1741.4) scale(1 1.03)">40</text>
<text class="b tk" transform="translate(1214.3 1741.4) scale(1 1.03)">50</text>
<text class="b tk" transform="translate(1275.2 1741.4) scale(1 1.03)">60</text>
<text class="b tk" transform="translate(1335.7 1741.4) scale(1 1.03)">70</text>
<text class="b tk" transform="translate(1396.1 1741.4) scale(1 1.03)">80</text>
<text class="b tk" transform="translate(1456.6 1741.4) scale(1 1.03)">90</text>
<text class="b xt" transform="translate(1305.9 1771.2) scale(1 1.015)">Temperature (<tspan font-size="17.6" dy="-9.4">o</tspan><tspan dy="9.4">C)</tspan></text>
</g>
<g id="panel-h" style="--k:1">
<path class="ax" d="M1675.7,750.2 V1716 M1668.1,1708.5 H1979 M1668.1,753.2 H1675.7 M1668.1,839.9 H1675.7 M1668.1,927 H1675.7 M1668.1,1013.6 H1675.7 M1668.1,1100.4 H1675.7 M1668.1,1187.4 H1675.7 M1668.1,1274 H1675.7 M1668.1,1361 H1675.7 M1668.1,1448.2 H1675.7 M1668.1,1534.8 H1675.7 M1668.1,1621.4 H1675.7 M1736.1,1708.5 V1716 M1796.5,1708.5 V1716 M1856.9,1708.5 V1716 M1917.3,1708.5 V1716 M1977.7,1708.5 V1716"/>
<path class="cv" stroke="#000000" d="M1676.3,837.7 1678.3,837.9 1680.3,838 1682.3,838.2 1684.3,838.5 1686.3,838.7 1688.3,839 1690.3,839.2 1692.3,839.5 1694.3,839.7 1696.3,839.9 1698.3,840 1700.3,840 1702.3,840.1 1704.3,840 1706.3,839.9 1708.3,839.8 1710.3,839.6 1712.3,839.4 1714.3,839.2 1716.3,838.9 1718.3,838.6 1720.3,838.3 1722.3,838 1724.3,837.6 1726.3,837.3 1728.3,836.9 1730.3,836.5 1732.3,836 1734.3,835.6 1736.3,835.1 1738.3,834.5 1740.3,834 1742.3,833.4 1744.3,832.8 1746.3,832.1 1748.3,831.4 1750.3,830.7 1752.3,829.8 1754.3,828.9 1756.3,827.8 1758.3,826.6 1760.3,825.2 1762.3,823.6 1764.3,821.9 1766.3,819.9 1768.3,817.9 1770.3,815.7 1772.3,813.4 1774.3,810.9 1776.3,808.4 1778.3,805.8 1780.3,803.1 1782.3,800.4 1784.3,797.7 1786.3,795 1788.3,792.4 1790.3,789.9 1792.3,787.6 1794.3,785.4 1796.3,783.3 1798.3,781.3 1800.3,779.5 1802.3,777.7 1804.3,776.2 1806.3,774.7 1808.3,773.4 1810.3,772.2 1812.3,771 1814.3,769.8 1816.3,768.6 1818.3,767.4 1820.3,766.2 1822.3,764.9 1824.3,763.7 1826.3,762.4 1828.3,761.1 1830.3,759.9 1832.3,758.8 1834.3,757.7 1836.3,756.7 1838.3,755.8 1840.3,755 1842.3,754.4 1844.3,753.9 1846.3,753.6 1848.3,753.6 1850.3,753.7 1852.3,754.1 1854.3,754.6 1856.3,755.4 1858.3,756.4 1860.3,757.5 1862.3,758.8 1864.3,760.2 1866.3,761.6 1868.3,763.1 1870.3,764.7 1872.3,766.2 1874.3,767.8 1876.3,769.2 1878.3,770.7 1880.3,772 1882.3,773.3 1884.3,774.5 1886.3,775.6 1888.3,776.7 1890.3,777.7 1892.3,778.6 1894.3,779.5 1896.3,780.3 1898.3,781.1 1900.3,781.8 1902.3,782.5 1904.3,783.2 1906.3,783.8 1908.3,784.4 1910.3,784.9 1912.3,785.5 1914.3,786 1916.3,786.5 1918.3,787 1920.3,787.5 1922.3,788 1924.3,788.4 1926.3,788.9 1928.3,789.4 1930.3,789.9 1932.3,790.5 1934.3,791 1936.3,791.6 1938.3,792.2 1940.3,792.8 1942.3,793.4 1944.3,794.1 1946.3,794.8 1948.3,795.5 1950.3,796.2 1952.3,797 1954.3,797.7 1956.3,798.5 1958.3,799.3 1960.3,800 1962.3,800.8 1964.3,801.6 1966.3,802.3 1968.3,803.1 1970.3,803.8 1972.3,804.5 1974.3,805.2 1976.3,805.9 1977.7,806.4"/>
<path class="cv" stroke="#EE0A70" d="M1676.3,927 1678.3,927.1 1680.3,927.2 1682.3,927.2 1684.3,927.3 1686.3,927.2 1688.3,927.2 1690.3,927.2 1692.3,927.1 1694.3,927 1696.3,926.9 1698.3,926.7 1700.3,926.6 1702.3,926.4 1704.3,926.3 1706.3,926.1 1708.3,925.9 1710.3,925.6 1712.3,925.4 1714.3,925.2 1716.3,924.9 1718.3,924.6 1720.3,924.4 1722.3,924.1 1724.3,923.8 1726.3,923.5 1728.3,923.2 1730.3,922.9 1732.3,922.6 1734.3,922.3 1736.3,922 1738.3,921.7 1740.3,921.4 1742.3,921 1744.3,920.7 1746.3,920.3 1748.3,919.9 1750.3,919.4 1752.3,918.9 1754.3,918.3 1756.3,917.7 1758.3,917.1 1760.3,916.3 1762.3,915.5 1764.3,914.6 1766.3,913.7 1768.3,912.6 1770.3,911.5 1772.3,910.3 1774.3,908.9 1776.3,907.5 1778.3,906 1780.3,904.3 1782.3,902.6 1784.3,900.8 1786.3,898.9 1788.3,897 1790.3,895 1792.3,893 1794.3,890.9 1796.3,888.9 1798.3,886.8 1800.3,884.7 1802.3,882.7 1804.3,880.7 1806.3,878.7 1808.3,876.8 1810.3,874.9 1812.3,873.1 1814.3,871.3 1816.3,869.5 1818.3,867.7 1820.3,865.9 1822.3,864.1 1824.3,862.3 1826.3,860.4 1828.3,858.4 1830.3,856.4 1832.3,854.3 1834.3,852.2 1836.3,850.1 1838.3,848.1 1840.3,846.2 1842.3,844.5 1844.3,843.1 1846.3,841.8 1848.3,840.9 1850.3,840.2 1852.3,839.8 1854.3,839.8 1856.3,840.1 1858.3,840.7 1860.3,841.6 1862.3,842.6 1864.3,843.8 1866.3,845.2 1868.3,846.6 1870.3,848.2 1872.3,849.8 1874.3,851.5 1876.3,853.3 1878.3,855.1 1880.3,857 1882.3,858.9 1884.3,860.8 1886.3,862.8 1888.3,864.7 1890.3,866.7 1892.3,868.6 1894.3,870.5 1896.3,872.4 1898.3,874.2 1900.3,876 1902.3,877.7 1904.3,879.3 1906.3,881 1908.3,882.6 1910.3,884.1 1912.3,885.6 1914.3,887.1 1916.3,888.5 1918.3,889.8 1920.3,891.2 1922.3,892.5 1924.3,893.7 1926.3,894.9 1928.3,896.1 1930.3,897.2 1932.3,898.3 1934.3,899.3 1936.3,900.3 1938.3,901.3 1940.3,902.3 1942.3,903.2 1944.3,904 1946.3,904.8 1948.3,905.6 1950.3,906.4 1952.3,907.1 1954.3,907.8 1956.3,908.5 1958.3,909.1 1960.3,909.7 1962.3,910.3 1964.3,910.8 1966.3,911.3 1968.3,911.8 1970.3,912.2 1972.3,912.7 1974.3,913.1 1976.3,913.4 1977.7,913.7"/>
<path class="cv" stroke="#964100" d="M1676.3,1013.7 1678.3,1013.8 1680.3,1013.9 1682.3,1014 1684.3,1014 1686.3,1014 1688.3,1014 1690.3,1014 1692.3,1013.9 1694.3,1013.9 1696.3,1013.8 1698.3,1013.7 1700.3,1013.6 1702.3,1013.5 1704.3,1013.3 1706.3,1013.2 1708.3,1013.1 1710.3,1012.9 1712.3,1012.8 1714.3,1012.6 1716.3,1012.4 1718.3,1012.3 1720.3,1012.1 1722.3,1011.9 1724.3,1011.8 1726.3,1011.6 1728.3,1011.4 1730.3,1011.2 1732.3,1011 1734.3,1010.8 1736.3,1010.6 1738.3,1010.3 1740.3,1010.1 1742.3,1009.8 1744.3,1009.4 1746.3,1009.1 1748.3,1008.7 1750.3,1008.2 1752.3,1007.7 1754.3,1007.2 1756.3,1006.6 1758.3,1006 1760.3,1005.3 1762.3,1004.6 1764.3,1003.8 1766.3,1003 1768.3,1002.1 1770.3,1001.1 1772.3,1000.1 1774.3,998.9 1776.3,997.8 1778.3,996.5 1780.3,995.3 1782.3,994 1784.3,992.6 1786.3,991.3 1788.3,989.9 1790.3,988.6 1792.3,987.2 1794.3,985.8 1796.3,984.4 1798.3,982.9 1800.3,981.5 1802.3,980 1804.3,978.4 1806.3,976.8 1808.3,975.2 1810.3,973.6 1812.3,971.8 1814.3,970 1816.3,968.1 1818.3,966.1 1820.3,963.9 1822.3,961.6 1824.3,959.1 1826.3,956.5 1828.3,953.8 1830.3,951 1832.3,948.3 1834.3,945.5 1836.3,942.8 1838.3,940.3 1840.3,937.8 1842.3,935.6 1844.3,933.5 1846.3,931.7 1848.3,930.2 1850.3,928.9 1852.3,927.9 1854.3,927.3 1856.3,927.1 1858.3,927.2 1860.3,927.7 1862.3,928.5 1864.3,929.5 1866.3,930.8 1868.3,932.2 1870.3,933.8 1872.3,935.6 1874.3,937.4 1876.3,939.4 1878.3,941.4 1880.3,943.5 1882.3,945.6 1884.3,947.7 1886.3,949.8 1888.3,951.9 1890.3,953.9 1892.3,955.8 1894.3,957.7 1896.3,959.5 1898.3,961.2 1900.3,962.9 1902.3,964.5 1904.3,966.1 1906.3,967.6 1908.3,969 1910.3,970.4 1912.3,971.8 1914.3,973.1 1916.3,974.3 1918.3,975.5 1920.3,976.7 1922.3,977.8 1924.3,978.9 1926.3,979.9 1928.3,980.9 1930.3,981.8 1932.3,982.8 1934.3,983.7 1936.3,984.5 1938.3,985.4 1940.3,986.2 1942.3,987 1944.3,987.7 1946.3,988.5 1948.3,989.2 1950.3,989.9 1952.3,990.6 1954.3,991.3 1956.3,991.9 1958.3,992.6 1960.3,993.3 1962.3,993.9 1964.3,994.6 1966.3,995.2 1968.3,995.8 1970.3,996.5 1972.3,997.1 1974.3,997.8 1976.3,998.4 1977.7,998.9"/>
<path class="cv" stroke="#F59AE8" d="M1676.3,1100.1 1678.3,1100.1 1680.3,1100.1 1682.3,1100.1 1684.3,1100.1 1686.3,1100.1 1688.3,1100.2 1690.3,1100.2 1692.3,1100.2 1694.3,1100.2 1696.3,1100.3 1698.3,1100.3 1700.3,1100.3 1702.3,1100.3 1704.3,1100.2 1706.3,1100.2 1708.3,1100.1 1710.3,1100.1 1712.3,1100 1714.3,1099.8 1716.3,1099.7 1718.3,1099.5 1720.3,1099.3 1722.3,1099 1724.3,1098.7 1726.3,1098.4 1728.3,1098 1730.3,1097.6 1732.3,1097.1 1734.3,1096.6 1736.3,1096.1 1738.3,1095.5 1740.3,1094.8 1742.3,1094.1 1744.3,1093.4 1746.3,1092.6 1748.3,1091.7 1750.3,1090.8 1752.3,1089.9 1754.3,1088.9 1756.3,1087.8 1758.3,1086.7 1760.3,1085.6 1762.3,1084.4 1764.3,1083.1 1766.3,1081.8 1768.3,1080.5 1770.3,1079.1 1772.3,1077.6 1774.3,1076.1 1776.3,1074.5 1778.3,1072.8 1780.3,1070.9 1782.3,1068.8 1784.3,1066.4 1786.3,1063.8 1788.3,1060.8 1790.3,1057.5 1792.3,1053.9 1794.3,1050.1 1796.3,1046.3 1798.3,1042.6 1800.3,1038.9 1802.3,1035.5 1804.3,1032.2 1806.3,1029.3 1808.3,1026.7 1810.3,1024.6 1812.3,1022.8 1814.3,1021.4 1816.3,1020.1 1818.3,1019 1820.3,1018 1822.3,1017.1 1824.3,1016.3 1826.3,1015.6 1828.3,1015 1830.3,1014.5 1832.3,1014.2 1834.3,1014 1836.3,1013.8 1838.3,1013.8 1840.3,1013.9 1842.3,1014.1 1844.3,1014.4 1846.3,1014.8 1848.3,1015.3 1850.3,1015.9 1852.3,1016.6 1854.3,1017.4 1856.3,1018.3 1858.3,1019.3 1860.3,1020.4 1862.3,1021.6 1864.3,1022.8 1866.3,1024.1 1868.3,1025.5 1870.3,1026.9 1872.3,1028.4 1874.3,1029.9 1876.3,1031.5 1878.3,1033.1 1880.3,1034.8 1882.3,1036.4 1884.3,1038.1 1886.3,1039.9 1888.3,1041.6 1890.3,1043.4 1892.3,1045.2 1894.3,1046.9 1896.3,1048.7 1898.3,1050.5 1900.3,1052.3 1902.3,1054.1 1904.3,1055.8 1906.3,1057.6 1908.3,1059.3 1910.3,1061 1912.3,1062.7 1914.3,1064.3 1916.3,1066 1918.3,1067.5 1920.3,1069.1 1922.3,1070.6 1924.3,1072.1 1926.3,1073.5 1928.3,1074.9 1930.3,1076.2 1932.3,1077.4 1934.3,1078.6 1936.3,1079.8 1938.3,1080.8 1940.3,1081.9 1942.3,1082.8 1944.3,1083.8 1946.3,1084.6 1948.3,1085.4 1950.3,1086.2 1952.3,1086.9 1954.3,1087.6 1956.3,1088.3 1958.3,1088.9 1960.3,1089.5 1962.3,1090 1964.3,1090.5 1966.3,1091 1968.3,1091.5 1970.3,1091.9 1972.3,1092.3 1974.3,1092.7 1976.3,1093 1977.7,1093.3"/>
<path class="cv" stroke="#FFFF00" d="M1676.3,1187.4 1678.3,1187.4 1680.3,1187.5 1682.3,1187.5 1684.3,1187.5 1686.3,1187.5 1688.3,1187.5 1690.3,1187.4 1692.3,1187.4 1694.3,1187.3 1696.3,1187.2 1698.3,1187 1700.3,1186.9 1702.3,1186.7 1704.3,1186.5 1706.3,1186.3 1708.3,1186.1 1710.3,1185.8 1712.3,1185.5 1714.3,1185.1 1716.3,1184.7 1718.3,1184.3 1720.3,1183.9 1722.3,1183.4 1724.3,1182.8 1726.3,1182.3 1728.3,1181.6 1730.3,1181 1732.3,1180.3 1734.3,1179.5 1736.3,1178.7 1738.3,1177.8 1740.3,1176.9 1742.3,1175.9 1744.3,1174.8 1746.3,1173.6 1748.3,1172.3 1750.3,1171 1752.3,1169.5 1754.3,1167.9 1756.3,1166.2 1758.3,1164.4 1760.3,1162.5 1762.3,1160.4 1764.3,1158.3 1766.3,1156 1768.3,1153.7 1770.3,1151.2 1772.3,1148.7 1774.3,1146.2 1776.3,1143.6 1778.3,1141 1780.3,1138.5 1782.3,1135.9 1784.3,1133.5 1786.3,1131.1 1788.3,1128.7 1790.3,1126.5 1792.3,1124.5 1794.3,1122.6 1796.3,1120.8 1798.3,1119.3 1800.3,1117.9 1802.3,1116.7 1804.3,1115.6 1806.3,1114.6 1808.3,1113.7 1810.3,1112.9 1812.3,1112.1 1814.3,1111.3 1816.3,1110.6 1818.3,1109.8 1820.3,1109.1 1822.3,1108.2 1824.3,1107.4 1826.3,1106.4 1828.3,1105.5 1830.3,1104.5 1832.3,1103.6 1834.3,1102.7 1836.3,1102 1838.3,1101.3 1840.3,1100.8 1842.3,1100.4 1844.3,1100.3 1846.3,1100.3 1848.3,1100.6 1850.3,1101.2 1852.3,1102.1 1854.3,1103.1 1856.3,1104.4 1858.3,1105.9 1860.3,1107.5 1862.3,1109.3 1864.3,1111.1 1866.3,1113.1 1868.3,1115.1 1870.3,1117.1 1872.3,1119.2 1874.3,1121.2 1876.3,1123.2 1878.3,1125.2 1880.3,1127.1 1882.3,1128.8 1884.3,1130.6 1886.3,1132.2 1888.3,1133.8 1890.3,1135.3 1892.3,1136.7 1894.3,1138.1 1896.3,1139.4 1898.3,1140.7 1900.3,1141.9 1902.3,1143 1904.3,1144.1 1906.3,1145.2 1908.3,1146.2 1910.3,1147.1 1912.3,1148.1 1914.3,1149 1916.3,1149.8 1918.3,1150.7 1920.3,1151.5 1922.3,1152.2 1924.3,1153 1926.3,1153.7 1928.3,1154.4 1930.3,1155.1 1932.3,1155.8 1934.3,1156.4 1936.3,1157.1 1938.3,1157.7 1940.3,1158.4 1942.3,1159 1944.3,1159.6 1946.3,1160.2 1948.3,1160.8 1950.3,1161.3 1952.3,1161.9 1954.3,1162.5 1956.3,1163.1 1958.3,1163.7 1960.3,1164.3 1962.3,1164.9 1964.3,1165.5 1966.3,1166.1 1968.3,1166.7 1970.3,1167.3 1972.3,1168 1974.3,1168.6 1976.3,1169.3 1977.7,1169.8"/>
<path class="cv" stroke="#4040FF" d="M1676.3,1274.4 1678.3,1274.3 1680.3,1274.3 1682.3,1274.2 1684.3,1274.1 1686.3,1274.1 1688.3,1274 1690.3,1273.8 1692.3,1273.7 1694.3,1273.6 1696.3,1273.4 1698.3,1273.2 1700.3,1273 1702.3,1272.8 1704.3,1272.6 1706.3,1272.3 1708.3,1272 1710.3,1271.7 1712.3,1271.3 1714.3,1270.9 1716.3,1270.5 1718.3,1270 1720.3,1269.5 1722.3,1268.9 1724.3,1268.4 1726.3,1267.7 1728.3,1267 1730.3,1266.3 1732.3,1265.6 1734.3,1264.7 1736.3,1263.9 1738.3,1262.9 1740.3,1261.9 1742.3,1260.9 1744.3,1259.8 1746.3,1258.6 1748.3,1257.3 1750.3,1256 1752.3,1254.6 1754.3,1253.1 1756.3,1251.6 1758.3,1249.9 1760.3,1248.2 1762.3,1246.3 1764.3,1244.4 1766.3,1242.4 1768.3,1240.3 1770.3,1238 1772.3,1235.7 1774.3,1233.3 1776.3,1230.9 1778.3,1228.5 1780.3,1226 1782.3,1223.6 1784.3,1221.2 1786.3,1218.9 1788.3,1216.7 1790.3,1214.7 1792.3,1212.7 1794.3,1210.9 1796.3,1209.3 1798.3,1207.9 1800.3,1206.7 1802.3,1205.5 1804.3,1204.5 1806.3,1203.6 1808.3,1202.8 1810.3,1202 1812.3,1201.2 1814.3,1200.4 1816.3,1199.6 1818.3,1198.7 1820.3,1197.9 1822.3,1196.9 1824.3,1195.9 1826.3,1194.9 1828.3,1193.9 1830.3,1192.8 1832.3,1191.8 1834.3,1190.9 1836.3,1190 1838.3,1189.2 1840.3,1188.6 1842.3,1188.1 1844.3,1187.8 1846.3,1187.7 1848.3,1187.9 1850.3,1188.3 1852.3,1188.9 1854.3,1189.7 1856.3,1190.7 1858.3,1191.9 1860.3,1193.2 1862.3,1194.7 1864.3,1196.3 1866.3,1198 1868.3,1199.7 1870.3,1201.5 1872.3,1203.3 1874.3,1205.2 1876.3,1207 1878.3,1208.8 1880.3,1210.5 1882.3,1212.2 1884.3,1213.8 1886.3,1215.3 1888.3,1216.8 1890.3,1218.2 1892.3,1219.6 1894.3,1220.9 1896.3,1222.2 1898.3,1223.4 1900.3,1224.6 1902.3,1225.7 1904.3,1226.8 1906.3,1227.9 1908.3,1228.9 1910.3,1229.8 1912.3,1230.8 1914.3,1231.7 1916.3,1232.6 1918.3,1233.4 1920.3,1234.2 1922.3,1235 1924.3,1235.8 1926.3,1236.5 1928.3,1237.3 1930.3,1238 1932.3,1238.7 1934.3,1239.3 1936.3,1240 1938.3,1240.7 1940.3,1241.3 1942.3,1241.9 1944.3,1242.6 1946.3,1243.2 1948.3,1243.8 1950.3,1244.4 1952.3,1245 1954.3,1245.6 1956.3,1246.2 1958.3,1246.7 1960.3,1247.3 1962.3,1247.9 1964.3,1248.5 1966.3,1249.1 1968.3,1249.7 1970.3,1250.3 1972.3,1250.9 1974.3,1251.5 1976.3,1252.2 1977.7,1252.6"/>
<path class="cv" stroke="#00FFFF" d="M1676.3,1361.1 1678.3,1361 1680.3,1361 1682.3,1361 1684.3,1360.9 1686.3,1360.9 1688.3,1360.9 1690.3,1360.9 1692.3,1360.8 1694.3,1360.8 1696.3,1360.8 1698.3,1360.7 1700.3,1360.7 1702.3,1360.6 1704.3,1360.6 1706.3,1360.5 1708.3,1360.4 1710.3,1360.3 1712.3,1360.2 1714.3,1360 1716.3,1359.9 1718.3,1359.7 1720.3,1359.4 1722.3,1359.2 1724.3,1358.9 1726.3,1358.6 1728.3,1358.3 1730.3,1357.9 1732.3,1357.5 1734.3,1357 1736.3,1356.5 1738.3,1356 1740.3,1355.4 1742.3,1354.8 1744.3,1354.1 1746.3,1353.4 1748.3,1352.6 1750.3,1351.8 1752.3,1350.9 1754.3,1350 1756.3,1349 1758.3,1347.9 1760.3,1346.8 1762.3,1345.5 1764.3,1344.2 1766.3,1342.9 1768.3,1341.4 1770.3,1339.9 1772.3,1338.2 1774.3,1336.5 1776.3,1334.7 1778.3,1332.8 1780.3,1330.7 1782.3,1328.6 1784.3,1326.4 1786.3,1324.2 1788.3,1322 1790.3,1319.8 1792.3,1317.7 1794.3,1315.8 1796.3,1314 1798.3,1312.4 1800.3,1310.9 1802.3,1309.5 1804.3,1308.1 1806.3,1306.8 1808.3,1305.5 1810.3,1304.1 1812.3,1302.7 1814.3,1301.3 1816.3,1299.8 1818.3,1298.3 1820.3,1296.8 1822.3,1295.1 1824.3,1293.4 1826.3,1291.6 1828.3,1289.8 1830.3,1287.9 1832.3,1286 1834.3,1284.1 1836.3,1282.3 1838.3,1280.6 1840.3,1278.9 1842.3,1277.5 1844.3,1276.3 1846.3,1275.4 1848.3,1274.8 1850.3,1274.5 1852.3,1274.7 1854.3,1275.2 1856.3,1276 1858.3,1277 1860.3,1278.1 1862.3,1279.3 1864.3,1280.6 1866.3,1282 1868.3,1283.5 1870.3,1285 1872.3,1286.6 1874.3,1288.3 1876.3,1290 1878.3,1291.8 1880.3,1293.6 1882.3,1295.4 1884.3,1297.3 1886.3,1299.2 1888.3,1301.1 1890.3,1303 1892.3,1304.9 1894.3,1306.8 1896.3,1308.7 1898.3,1310.5 1900.3,1312.4 1902.3,1314.2 1904.3,1316 1906.3,1317.7 1908.3,1319.5 1910.3,1321.2 1912.3,1322.8 1914.3,1324.5 1916.3,1326.1 1918.3,1327.6 1920.3,1329.1 1922.3,1330.6 1924.3,1332 1926.3,1333.4 1928.3,1334.7 1930.3,1335.9 1932.3,1337.1 1934.3,1338.3 1936.3,1339.4 1938.3,1340.4 1940.3,1341.4 1942.3,1342.3 1944.3,1343.2 1946.3,1344.1 1948.3,1344.9 1950.3,1345.6 1952.3,1346.4 1954.3,1347.1 1956.3,1347.7 1958.3,1348.3 1960.3,1348.9 1962.3,1349.5 1964.3,1350.1 1966.3,1350.6 1968.3,1351.1 1970.3,1351.6 1972.3,1352.1 1974.3,1352.5 1976.3,1353 1977.7,1353.3"/>
<path class="cv" stroke="#FF6A00" d="M1676.3,1448.3 1678.3,1448.3 1680.3,1448.2 1682.3,1448.2 1684.3,1448.2 1686.3,1448.2 1688.3,1448.1 1690.3,1448.1 1692.3,1448 1694.3,1447.9 1696.3,1447.8 1698.3,1447.7 1700.3,1447.6 1702.3,1447.4 1704.3,1447.3 1706.3,1447.1 1708.3,1446.9 1710.3,1446.7 1712.3,1446.4 1714.3,1446.2 1716.3,1445.9 1718.3,1445.6 1720.3,1445.2 1722.3,1444.8 1724.3,1444.4 1726.3,1444 1728.3,1443.5 1730.3,1443 1732.3,1442.5 1734.3,1441.9 1736.3,1441.3 1738.3,1440.7 1740.3,1440 1742.3,1439.3 1744.3,1438.6 1746.3,1437.8 1748.3,1436.9 1750.3,1436 1752.3,1435.1 1754.3,1434.1 1756.3,1433.1 1758.3,1432 1760.3,1430.8 1762.3,1429.6 1764.3,1428.3 1766.3,1426.9 1768.3,1425.4 1770.3,1423.9 1772.3,1422.2 1774.3,1420.5 1776.3,1418.7 1778.3,1416.8 1780.3,1414.8 1782.3,1412.7 1784.3,1410.5 1786.3,1408.3 1788.3,1406 1790.3,1403.8 1792.3,1401.7 1794.3,1399.7 1796.3,1397.7 1798.3,1396 1800.3,1394.3 1802.3,1392.7 1804.3,1391.2 1806.3,1389.8 1808.3,1388.3 1810.3,1386.9 1812.3,1385.5 1814.3,1384.1 1816.3,1382.8 1818.3,1381.4 1820.3,1379.9 1822.3,1378.5 1824.3,1377 1826.3,1375.5 1828.3,1373.9 1830.3,1372.3 1832.3,1370.7 1834.3,1369.2 1836.3,1367.7 1838.3,1366.4 1840.3,1365.1 1842.3,1364.1 1844.3,1363.2 1846.3,1362.5 1848.3,1362.1 1850.3,1361.9 1852.3,1361.9 1854.3,1362.2 1856.3,1362.7 1858.3,1363.4 1860.3,1364.3 1862.3,1365.4 1864.3,1366.5 1866.3,1367.8 1868.3,1369.2 1870.3,1370.7 1872.3,1372.2 1874.3,1373.8 1876.3,1375.4 1878.3,1377.1 1880.3,1378.7 1882.3,1380.3 1884.3,1381.9 1886.3,1383.5 1888.3,1385.1 1890.3,1386.7 1892.3,1388.4 1894.3,1390.1 1896.3,1391.9 1898.3,1393.8 1900.3,1395.7 1902.3,1397.6 1904.3,1399.6 1906.3,1401.6 1908.3,1403.7 1910.3,1405.7 1912.3,1407.7 1914.3,1409.7 1916.3,1411.7 1918.3,1413.6 1920.3,1415.5 1922.3,1417.4 1924.3,1419.1 1926.3,1420.8 1928.3,1422.4 1930.3,1424 1932.3,1425.4 1934.3,1426.7 1936.3,1427.9 1938.3,1429.1 1940.3,1430.2 1942.3,1431.1 1944.3,1432.1 1946.3,1432.9 1948.3,1433.7 1950.3,1434.4 1952.3,1435.1 1954.3,1435.7 1956.3,1436.3 1958.3,1436.9 1960.3,1437.4 1962.3,1437.8 1964.3,1438.3 1966.3,1438.7 1968.3,1439.1 1970.3,1439.5 1972.3,1439.8 1974.3,1440.2 1976.3,1440.5 1977.7,1440.8"/>
<path class="cv" stroke="#00AE00" d="M1676.3,1535.2 1678.3,1535.3 1680.3,1535.4 1682.3,1535.4 1684.3,1535.5 1686.3,1535.5 1688.3,1535.4 1690.3,1535.4 1692.3,1535.3 1694.3,1535.3 1696.3,1535.2 1698.3,1535.1 1700.3,1534.9 1702.3,1534.8 1704.3,1534.6 1706.3,1534.4 1708.3,1534.2 1710.3,1534 1712.3,1533.8 1714.3,1533.6 1716.3,1533.3 1718.3,1533 1720.3,1532.8 1722.3,1532.5 1724.3,1532.2 1726.3,1531.8 1728.3,1531.5 1730.3,1531.2 1732.3,1530.8 1734.3,1530.5 1736.3,1530.1 1738.3,1529.7 1740.3,1529.2 1742.3,1528.8 1744.3,1528.2 1746.3,1527.7 1748.3,1527.1 1750.3,1526.4 1752.3,1525.7 1754.3,1524.9 1756.3,1524 1758.3,1523.1 1760.3,1522.1 1762.3,1520.9 1764.3,1519.7 1766.3,1518.4 1768.3,1517 1770.3,1515.5 1772.3,1513.8 1774.3,1512.1 1776.3,1510.3 1778.3,1508.4 1780.3,1506.5 1782.3,1504.5 1784.3,1502.6 1786.3,1500.6 1788.3,1498.7 1790.3,1496.9 1792.3,1495.1 1794.3,1493.4 1796.3,1491.8 1798.3,1490.3 1800.3,1488.9 1802.3,1487.5 1804.3,1486.2 1806.3,1484.9 1808.3,1483.5 1810.3,1482.1 1812.3,1480.6 1814.3,1479 1816.3,1477.3 1818.3,1475.4 1820.3,1473.3 1822.3,1471.2 1824.3,1469 1826.3,1466.8 1828.3,1464.6 1830.3,1462.5 1832.3,1460.4 1834.3,1458.4 1836.3,1456.6 1838.3,1454.9 1840.3,1453.3 1842.3,1452 1844.3,1450.8 1846.3,1449.8 1848.3,1449 1850.3,1448.5 1852.3,1448.3 1854.3,1448.3 1856.3,1448.6 1858.3,1449.2 1860.3,1450 1862.3,1451 1864.3,1452.3 1866.3,1453.7 1868.3,1455.2 1870.3,1456.9 1872.3,1458.7 1874.3,1460.6 1876.3,1462.5 1878.3,1464.5 1880.3,1466.5 1882.3,1468.5 1884.3,1470.5 1886.3,1472.5 1888.3,1474.4 1890.3,1476.4 1892.3,1478.3 1894.3,1480.2 1896.3,1482.1 1898.3,1483.9 1900.3,1485.8 1902.3,1487.6 1904.3,1489.3 1906.3,1491 1908.3,1492.7 1910.3,1494.3 1912.3,1495.9 1914.3,1497.5 1916.3,1499 1918.3,1500.4 1920.3,1501.8 1922.3,1503.1 1924.3,1504.4 1926.3,1505.6 1928.3,1506.8 1930.3,1507.9 1932.3,1509 1934.3,1510 1936.3,1511 1938.3,1512 1940.3,1512.9 1942.3,1513.7 1944.3,1514.5 1946.3,1515.3 1948.3,1516.1 1950.3,1516.8 1952.3,1517.5 1954.3,1518.2 1956.3,1518.8 1958.3,1519.4 1960.3,1520 1962.3,1520.6 1964.3,1521.1 1966.3,1521.6 1968.3,1522.2 1970.3,1522.7 1972.3,1523.2 1974.3,1523.6 1976.3,1524.1 1977.7,1524.5"/>
<path class="cv" stroke="#8CFF8C" d="M1676.3,1621.6 1678.3,1621.6 1680.3,1621.6 1682.3,1621.5 1684.3,1621.5 1686.3,1621.5 1688.3,1621.5 1690.3,1621.5 1692.3,1621.4 1694.3,1621.4 1696.3,1621.4 1698.3,1621.3 1700.3,1621.3 1702.3,1621.2 1704.3,1621.1 1706.3,1621 1708.3,1621 1710.3,1620.9 1712.3,1620.7 1714.3,1620.6 1716.3,1620.5 1718.3,1620.3 1720.3,1620.2 1722.3,1620 1724.3,1619.8 1726.3,1619.6 1728.3,1619.3 1730.3,1619.1 1732.3,1618.8 1734.3,1618.5 1736.3,1618.2 1738.3,1617.9 1740.3,1617.5 1742.3,1617.1 1744.3,1616.7 1746.3,1616.2 1748.3,1615.7 1750.3,1615.2 1752.3,1614.6 1754.3,1614 1756.3,1613.3 1758.3,1612.6 1760.3,1611.8 1762.3,1611 1764.3,1610.1 1766.3,1609.1 1768.3,1608.1 1770.3,1607 1772.3,1605.8 1774.3,1604.5 1776.3,1603.2 1778.3,1601.8 1780.3,1600.3 1782.3,1598.8 1784.3,1597.2 1786.3,1595.5 1788.3,1593.9 1790.3,1592.2 1792.3,1590.6 1794.3,1588.9 1796.3,1587.3 1798.3,1585.7 1800.3,1584.1 1802.3,1582.5 1804.3,1580.9 1806.3,1579.2 1808.3,1577.5 1810.3,1575.6 1812.3,1573.7 1814.3,1571.7 1816.3,1569.6 1818.3,1567.5 1820.3,1565.3 1822.3,1563 1824.3,1560.7 1826.3,1558.4 1828.3,1556.1 1830.3,1553.7 1832.3,1551.4 1834.3,1549.1 1836.3,1546.9 1838.3,1544.8 1840.3,1542.8 1842.3,1541.1 1844.3,1539.5 1846.3,1538.1 1848.3,1536.9 1850.3,1536 1852.3,1535.3 1854.3,1534.8 1856.3,1534.6 1858.3,1534.7 1860.3,1535.1 1862.3,1535.7 1864.3,1536.6 1866.3,1537.6 1868.3,1538.9 1870.3,1540.3 1872.3,1541.9 1874.3,1543.6 1876.3,1545.4 1878.3,1547.3 1880.3,1549.2 1882.3,1551.1 1884.3,1553 1886.3,1554.9 1888.3,1556.7 1890.3,1558.4 1892.3,1560.2 1894.3,1561.9 1896.3,1563.5 1898.3,1565.1 1900.3,1566.7 1902.3,1568.3 1904.3,1569.8 1906.3,1571.2 1908.3,1572.7 1910.3,1574.1 1912.3,1575.4 1914.3,1576.8 1916.3,1578.1 1918.3,1579.4 1920.3,1580.6 1922.3,1581.8 1924.3,1583 1926.3,1584.2 1928.3,1585.3 1930.3,1586.4 1932.3,1587.4 1934.3,1588.5 1936.3,1589.5 1938.3,1590.5 1940.3,1591.4 1942.3,1592.4 1944.3,1593.3 1946.3,1594.2 1948.3,1595 1950.3,1595.9 1952.3,1596.7 1954.3,1597.5 1956.3,1598.3 1958.3,1599 1960.3,1599.8 1962.3,1600.5 1964.3,1601.2 1966.3,1601.8 1968.3,1602.5 1970.3,1603.1 1972.3,1603.7 1974.3,1604.4 1976.3,1604.9 1977.7,1605.3"/>
<path class="cv" stroke="#B540DC" d="M1676.3,1692.6 1678.3,1692.8 1680.3,1693 1682.3,1693.2 1684.3,1693.3 1686.3,1693.5 1688.3,1693.7 1690.3,1693.9 1692.3,1694.1 1694.3,1694.3 1696.3,1694.5 1698.3,1694.7 1700.3,1694.9 1702.3,1695.1 1704.3,1695.3 1706.3,1695.5 1708.3,1695.8 1710.3,1696 1712.3,1696.2 1714.3,1696.4 1716.3,1696.6 1718.3,1696.8 1720.3,1697 1722.3,1697.2 1724.3,1697.4 1726.3,1697.6 1728.3,1697.8 1730.3,1698 1732.3,1698.2 1734.3,1698.3 1736.3,1698.4 1738.3,1698.5 1740.3,1698.6 1742.3,1698.6 1744.3,1698.6 1746.3,1698.5 1748.3,1698.4 1750.3,1698.2 1752.3,1697.9 1754.3,1697.6 1756.3,1697.2 1758.3,1696.7 1760.3,1696.2 1762.3,1695.5 1764.3,1694.8 1766.3,1694 1768.3,1693.2 1770.3,1692.3 1772.3,1691.3 1774.3,1690.3 1776.3,1689.3 1778.3,1688.2 1780.3,1687.1 1782.3,1686 1784.3,1684.8 1786.3,1683.6 1788.3,1682.5 1790.3,1681.3 1792.3,1680.1 1794.3,1679 1796.3,1677.9 1798.3,1676.7 1800.3,1675.6 1802.3,1674.4 1804.3,1673.2 1806.3,1671.8 1808.3,1670.4 1810.3,1668.7 1812.3,1667 1814.3,1665 1816.3,1662.9 1818.3,1660.5 1820.3,1658 1822.3,1655.4 1824.3,1652.6 1826.3,1649.7 1828.3,1646.8 1830.3,1643.9 1832.3,1640.9 1834.3,1638.1 1836.3,1635.4 1838.3,1632.7 1840.3,1630.3 1842.3,1628.1 1844.3,1626.1 1846.3,1624.4 1848.3,1623.1 1850.3,1622.1 1852.3,1621.4 1854.3,1621.2 1856.3,1621.3 1858.3,1621.7 1860.3,1622.4 1862.3,1623.5 1864.3,1624.7 1866.3,1626.2 1868.3,1627.9 1870.3,1629.6 1872.3,1631.5 1874.3,1633.4 1876.3,1635.4 1878.3,1637.4 1880.3,1639.5 1882.3,1641.5 1884.3,1643.6 1886.3,1645.7 1888.3,1647.7 1890.3,1649.7 1892.3,1651.7 1894.3,1653.6 1896.3,1655.5 1898.3,1657.3 1900.3,1659 1902.3,1660.6 1904.3,1662.2 1906.3,1663.8 1908.3,1665.3 1910.3,1666.7 1912.3,1668.1 1914.3,1669.4 1916.3,1670.7 1918.3,1672 1920.3,1673.2 1922.3,1674.4 1924.3,1675.5 1926.3,1676.6 1928.3,1677.7 1930.3,1678.8 1932.3,1679.8 1934.3,1680.8 1936.3,1681.8 1938.3,1682.7 1940.3,1683.7 1942.3,1684.6 1944.3,1685.5 1946.3,1686.3 1948.3,1687.2 1950.3,1688 1952.3,1688.8 1954.3,1689.6 1956.3,1690.4 1958.3,1691.2 1960.3,1692 1962.3,1692.7 1964.3,1693.5 1966.3,1694.2 1968.3,1694.9 1970.3,1695.7 1972.3,1696.4 1974.3,1697.1 1976.3,1697.8 1977.7,1698.3"/>
<path class="ds" d="M1787.2,796.1 V1707.2"/>
<text class="b lab" transform="translate(1655.5 849.6) scale(1 1.03)">DMSO</text>
<text class="b lab" transform="translate(1655.5 934.1) scale(1 1.015)">Ebsulphur</text>
<text class="b lab" transform="translate(1655.2 1023.1) scale(1 1.02)">Cpd 12</text>
<text class="b lab" transform="translate(1655.5 1111.3) scale(1 1.02)">Cpd 13</text>
<text class="b lab" transform="translate(1655.2 1196.1) scale(1 1.02)">Cpd 14</text>
<text class="b lab" transform="translate(1655.5 1281.2) scale(1 1.02)">Cpd 15</text>
<text class="b lab" transform="translate(1656 1369.3) scale(1 1.02)">Cpd 16</text>
<text class="b lab" transform="translate(1655.5 1457.1) scale(1 1.02)">Cpd 17</text>
<text class="b lab" transform="translate(1655.7 1544.4) scale(1 1.02)">Cpd 18</text>
<text class="b lab" transform="translate(1655.7 1630.6) scale(1 1.02)">Cpd 19</text>
<text class="b lab" transform="translate(1655.7 1718.3) scale(1 1.02)">Cpd 20</text>
<text class="b tk" transform="translate(1675.1 1741.9) scale(1 1.03)">40</text>
<text class="b tk" transform="translate(1736.1 1741.9) scale(1 1.03)">50</text>
<text class="b tk" transform="translate(1797 1741.9) scale(1 1.03)">60</text>
<text class="b tk" transform="translate(1857.7 1741.9) scale(1 1.03)">70</text>
<text class="b tk" transform="translate(1917.3 1741.9) scale(1 1.03)">80</text>
<text class="b tk" transform="translate(1977.7 1741.9) scale(1 1.03)">90</text>
<text class="b xt" transform="translate(1827.9 1771.9) scale(1 1.015)">Temperature (<tspan font-size="17.6" dy="-9.4">o</tspan><tspan dy="9.4">C)</tspan></text>
</g>
</svg></body></html>
